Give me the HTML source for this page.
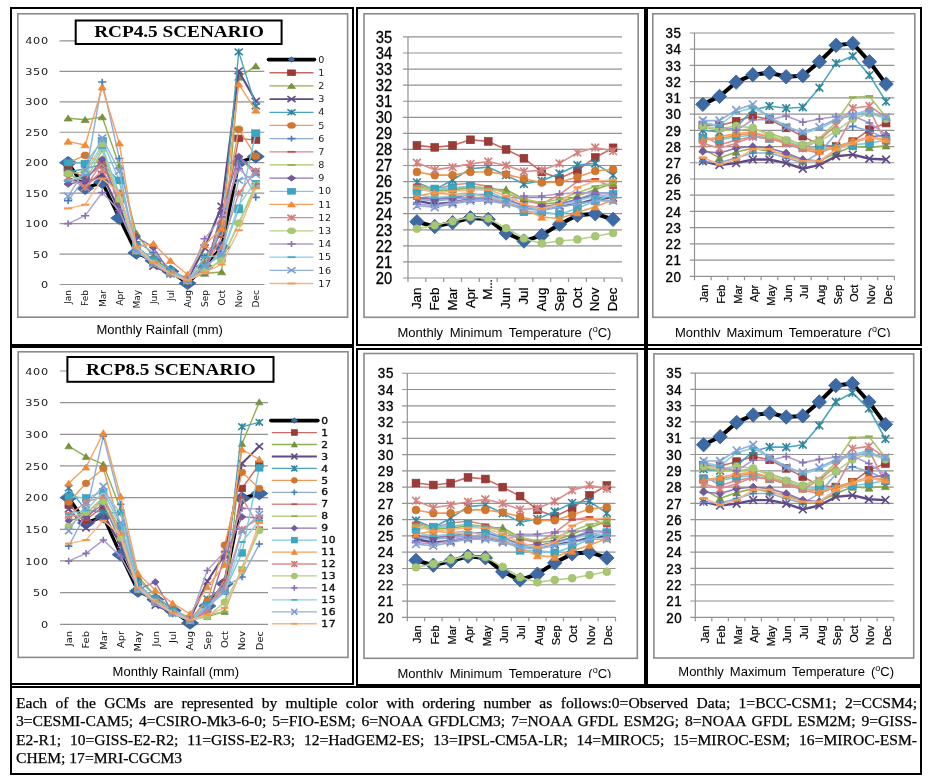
<!DOCTYPE html>
<html><head><meta charset="utf-8"><title>GCM scenarios</title>
<style>
html,body{margin:0;padding:0;background:#fff;}
body{width:929px;height:779px;position:relative;overflow:hidden;}
svg{position:absolute;left:0;top:0;}
text{font-family:"Liberation Sans",sans-serif;}
.rl{font-family:"DejaVu Sans",sans-serif;font-size:8.6px;fill:#1a1a1a;letter-spacing:0.5px;}
.rm{font-family:"DejaVu Sans",sans-serif;font-size:9px;fill:#111;}
.rlb{stroke:#000;stroke-width:0.3px;font-size:8.8px;}
.ttl{font-family:"Liberation Serif",serif;font-weight:bold;font-size:17.5px;fill:#000;}
.cap{font-family:"Liberation Sans",sans-serif;font-size:13px;fill:#000;}
.tl1{font-family:"Liberation Sans",sans-serif;font-size:16.4px;fill:#000;letter-spacing:0.3px;stroke:#000;stroke-width:0.3px;}
.tl2{font-family:"Liberation Sans",sans-serif;font-size:14.4px;fill:#000;letter-spacing:0.7px;stroke:#000;stroke-width:0.35px;}
.tm1{font-family:"Liberation Sans",sans-serif;font-size:12.4px;fill:#000;stroke:#000;stroke-width:0.2px;}
.tm2{font-family:"Liberation Sans",sans-serif;font-size:11.1px;fill:#000;stroke:#000;stroke-width:0.2px;}
.capt{position:absolute;font-family:"Liberation Sans",sans-serif;font-size:13px;color:#000;white-space:nowrap;overflow:hidden;line-height:16px;}
.capt sup{font-size:9px;vertical-align:5px;line-height:0;}
#note{position:absolute;left:16px;top:694px;width:901px;font-family:"Liberation Serif",serif;font-size:15.6px;line-height:18.3px;color:#000;-webkit-text-stroke:0.25px #000;}
#note div{white-space:nowrap;}
#note .j{text-align:justify;text-align-last:justify;}
</style></head>
<body>
<svg width="929" height="779" viewBox="0 0 929 779">
<rect x="10" y="7" width="2" height="679" fill="#000"/>
<rect x="10" y="7" width="344" height="2" fill="#000"/>
<rect x="356" y="7" width="291" height="2" fill="#000"/>
<rect x="646" y="7" width="276" height="2" fill="#000"/>
<rect x="352" y="7" width="2" height="339" fill="#000"/>
<rect x="352" y="346" width="2" height="339" fill="#000"/>
<rect x="356" y="7" width="2" height="339" fill="#000"/>
<rect x="356" y="348" width="2" height="337" fill="#000"/>
<rect x="644" y="7" width="4" height="678" fill="#000"/>
<rect x="920" y="7" width="2" height="339" fill="#000"/>
<rect x="920" y="348" width="2" height="427" fill="#000"/>
<rect x="10" y="344" width="344" height="4" fill="#000"/>
<rect x="356" y="344" width="566" height="2" fill="#000"/>
<rect x="356" y="348" width="566" height="2" fill="#000"/>
<rect x="10" y="683" width="344" height="2" fill="#000"/>
<rect x="356" y="684" width="566" height="3" fill="#000"/>
<rect x="10" y="686" width="912" height="2" fill="#000"/>
<rect x="10" y="686" width="2" height="89" fill="#000"/>
<rect x="10" y="773" width="912" height="2" fill="#000"/>
<rect x="17.8" y="13.8" width="329.8" height="303.4" fill="#fff" stroke="#8a8a8a" stroke-width="1.6"/>
<line x1="59.6" y1="284.5" x2="264.3" y2="284.5" stroke="#929292" stroke-width="1.2"/>
<text x="0" y="288.1" class="rl" text-anchor="end" transform="translate(48.8,0) scale(1.32,1)">0</text>
<line x1="59.6" y1="254.05" x2="264.3" y2="254.05" stroke="#929292" stroke-width="1.2"/>
<text x="0" y="257.65" class="rl" text-anchor="end" transform="translate(48.8,0) scale(1.32,1)">50</text>
<line x1="59.6" y1="223.6" x2="264.3" y2="223.6" stroke="#929292" stroke-width="1.2"/>
<text x="0" y="227.2" class="rl" text-anchor="end" transform="translate(48.8,0) scale(1.32,1)">100</text>
<line x1="59.6" y1="193.15" x2="264.3" y2="193.15" stroke="#929292" stroke-width="1.2"/>
<text x="0" y="196.75" class="rl" text-anchor="end" transform="translate(48.8,0) scale(1.32,1)">150</text>
<line x1="59.6" y1="162.7" x2="264.3" y2="162.7" stroke="#929292" stroke-width="1.2"/>
<text x="0" y="166.3" class="rl" text-anchor="end" transform="translate(48.8,0) scale(1.32,1)">200</text>
<line x1="59.6" y1="132.25" x2="264.3" y2="132.25" stroke="#929292" stroke-width="1.2"/>
<text x="0" y="135.85" class="rl" text-anchor="end" transform="translate(48.8,0) scale(1.32,1)">250</text>
<line x1="59.6" y1="101.8" x2="264.3" y2="101.8" stroke="#929292" stroke-width="1.2"/>
<text x="0" y="105.4" class="rl" text-anchor="end" transform="translate(48.8,0) scale(1.32,1)">300</text>
<line x1="59.6" y1="71.35" x2="264.3" y2="71.35" stroke="#929292" stroke-width="1.2"/>
<text x="0" y="74.95" class="rl" text-anchor="end" transform="translate(48.8,0) scale(1.32,1)">350</text>
<line x1="59.6" y1="40.9" x2="264.3" y2="40.9" stroke="#929292" stroke-width="1.2"/>
<text x="0" y="44.5" class="rl" text-anchor="end" transform="translate(48.8,0) scale(1.32,1)">400</text>
<text class="rm" transform="translate(71.43,290) rotate(-90) scale(1,1)" text-anchor="end">Jan</text>
<text class="rm" transform="translate(88.49,290) rotate(-90) scale(1,1)" text-anchor="end">Feb</text>
<text class="rm" transform="translate(105.55,290) rotate(-90) scale(1,1)" text-anchor="end">Mar</text>
<text class="rm" transform="translate(122.6,290) rotate(-90) scale(1,1)" text-anchor="end">Apr</text>
<text class="rm" transform="translate(139.66,290) rotate(-90) scale(1,1)" text-anchor="end">May</text>
<text class="rm" transform="translate(156.72,290) rotate(-90) scale(1,1)" text-anchor="end">Jun</text>
<text class="rm" transform="translate(173.78,290) rotate(-90) scale(1,1)" text-anchor="end">Jul</text>
<text class="rm" transform="translate(190.84,290) rotate(-90) scale(1,1)" text-anchor="end">Aug</text>
<text class="rm" transform="translate(207.9,290) rotate(-90) scale(1,1)" text-anchor="end">Sep</text>
<text class="rm" transform="translate(224.95,290) rotate(-90) scale(1,1)" text-anchor="end">Oct</text>
<text class="rm" transform="translate(242.01,290) rotate(-90) scale(1,1)" text-anchor="end">Nov</text>
<text class="rm" transform="translate(259.07,290) rotate(-90) scale(1,1)" text-anchor="end">Dec</text>
<polyline points="68.13,162.7 85.19,188.28 102.25,182.19 119.3,218.12 136.36,252.83 153.42,260.75 170.48,271.41 187.54,283.28 204.6,266.84 221.65,247.35 238.71,162.7 255.77,156.61" fill="none" stroke="#000000" stroke-width="3.4" stroke-linejoin="round"/>
<polygon points="59.62,162.7 68.13,156.4 76.63,162.7 68.13,169" fill="#3D69A5" stroke="#335E98" stroke-width="0.8"/>
<polygon points="76.68,188.28 85.19,181.98 93.69,188.28 85.19,194.58" fill="#3D69A5" stroke="#335E98" stroke-width="0.8"/>
<polygon points="93.74,182.19 102.25,175.89 110.75,182.19 102.25,188.49" fill="#3D69A5" stroke="#335E98" stroke-width="0.8"/>
<polygon points="110.8,218.12 119.3,211.82 127.81,218.12 119.3,224.42" fill="#3D69A5" stroke="#335E98" stroke-width="0.8"/>
<polygon points="127.86,252.83 136.36,246.53 144.87,252.83 136.36,259.13" fill="#3D69A5" stroke="#335E98" stroke-width="0.8"/>
<polygon points="144.92,260.75 153.42,254.45 161.93,260.75 153.42,267.05" fill="#3D69A5" stroke="#335E98" stroke-width="0.8"/>
<polygon points="161.97,271.41 170.48,265.11 178.98,271.41 170.48,277.71" fill="#3D69A5" stroke="#335E98" stroke-width="0.8"/>
<polygon points="179.03,283.28 187.54,276.98 196.04,283.28 187.54,289.58" fill="#3D69A5" stroke="#335E98" stroke-width="0.8"/>
<polygon points="196.09,266.84 204.6,260.54 213.1,266.84 204.6,273.14" fill="#3D69A5" stroke="#335E98" stroke-width="0.8"/>
<polygon points="213.15,247.35 221.65,241.05 230.16,247.35 221.65,253.65" fill="#3D69A5" stroke="#335E98" stroke-width="0.8"/>
<polygon points="230.21,162.7 238.71,156.4 247.22,162.7 238.71,169" fill="#3D69A5" stroke="#335E98" stroke-width="0.8"/>
<polygon points="247.27,156.61 255.77,150.31 264.28,156.61 255.77,162.91" fill="#3D69A5" stroke="#335E98" stroke-width="0.8"/>
<polyline points="68.13,168.79 85.19,177.93 102.25,164.53 119.3,199.24 136.36,249.79 153.42,261.97 170.48,272.32 187.54,280.85 204.6,269.27 221.65,229.69 238.71,138.34 255.77,140.17" fill="none" stroke="#C86966" stroke-width="1.4" stroke-linejoin="round"/>
<rect x="64" y="165.49" width="8.25" height="6.6" fill="#9B3B38" stroke="#8C3330" stroke-width="0.6"/>
<rect x="81.06" y="174.62" width="8.25" height="6.6" fill="#9B3B38" stroke="#8C3330" stroke-width="0.6"/>
<rect x="98.12" y="161.23" width="8.25" height="6.6" fill="#9B3B38" stroke="#8C3330" stroke-width="0.6"/>
<rect x="115.18" y="195.94" width="8.25" height="6.6" fill="#9B3B38" stroke="#8C3330" stroke-width="0.6"/>
<rect x="132.24" y="246.49" width="8.25" height="6.6" fill="#9B3B38" stroke="#8C3330" stroke-width="0.6"/>
<rect x="149.3" y="258.67" width="8.25" height="6.6" fill="#9B3B38" stroke="#8C3330" stroke-width="0.6"/>
<rect x="166.35" y="269.02" width="8.25" height="6.6" fill="#9B3B38" stroke="#8C3330" stroke-width="0.6"/>
<rect x="183.41" y="277.55" width="8.25" height="6.6" fill="#9B3B38" stroke="#8C3330" stroke-width="0.6"/>
<rect x="200.47" y="265.97" width="8.25" height="6.6" fill="#9B3B38" stroke="#8C3330" stroke-width="0.6"/>
<rect x="217.53" y="226.39" width="8.25" height="6.6" fill="#9B3B38" stroke="#8C3330" stroke-width="0.6"/>
<rect x="234.59" y="135.04" width="8.25" height="6.6" fill="#9B3B38" stroke="#8C3330" stroke-width="0.6"/>
<rect x="251.65" y="136.87" width="8.25" height="6.6" fill="#9B3B38" stroke="#8C3330" stroke-width="0.6"/>
<polyline points="68.13,118.24 85.19,119.7 102.25,117.03 119.3,165.75 136.36,233.34 153.42,257.1 170.48,270.49 187.54,278.41 204.6,273.54 221.65,272.02 238.71,77.44 255.77,66.17" fill="none" stroke="#8FB04F" stroke-width="1.4" stroke-linejoin="round"/>
<polygon points="64,121.05 68.13,114.94 72.25,121.05" fill="#77933C" stroke="#6B8636" stroke-width="0.6"/>
<polygon points="81.06,122.51 85.19,116.4 89.31,122.51" fill="#77933C" stroke="#6B8636" stroke-width="0.6"/>
<polygon points="98.12,119.83 102.25,113.73 106.37,119.83" fill="#77933C" stroke="#6B8636" stroke-width="0.6"/>
<polygon points="115.18,168.55 119.3,162.44 123.43,168.55" fill="#77933C" stroke="#6B8636" stroke-width="0.6"/>
<polygon points="132.24,236.15 136.36,230.04 140.49,236.15" fill="#77933C" stroke="#6B8636" stroke-width="0.6"/>
<polygon points="149.3,259.9 153.42,253.8 157.55,259.9" fill="#77933C" stroke="#6B8636" stroke-width="0.6"/>
<polygon points="166.35,273.3 170.48,267.19 174.6,273.3" fill="#77933C" stroke="#6B8636" stroke-width="0.6"/>
<polygon points="183.41,281.22 187.54,275.11 191.66,281.22" fill="#77933C" stroke="#6B8636" stroke-width="0.6"/>
<polygon points="200.47,276.34 204.6,270.24 208.72,276.34" fill="#77933C" stroke="#6B8636" stroke-width="0.6"/>
<polygon points="217.53,274.82 221.65,268.72 225.78,274.82" fill="#77933C" stroke="#6B8636" stroke-width="0.6"/>
<polygon points="234.59,80.25 238.71,74.14 242.84,80.25" fill="#77933C" stroke="#6B8636" stroke-width="0.6"/>
<polygon points="251.65,68.98 255.77,62.87 259.9,68.98" fill="#77933C" stroke="#6B8636" stroke-width="0.6"/>
<polyline points="68.13,177.93 85.19,184.01 102.25,174.27 119.3,210.81 136.36,247.96 153.42,266.23 170.48,273.54 187.54,279.63 204.6,247.96 221.65,206.12 238.71,70.92 255.77,101.19" fill="none" stroke="#5F4A85" stroke-width="2.1" stroke-linejoin="round"/>
<path d="M64 174.62L72.25 181.23M64 181.23L72.25 174.62" stroke="#5F4A85" stroke-width="1.6" fill="none"/>
<path d="M81.06 180.71L89.31 187.31M81.06 187.31L89.31 180.71" stroke="#5F4A85" stroke-width="1.6" fill="none"/>
<path d="M98.12 170.97L106.37 177.57M98.12 177.57L106.37 170.97" stroke="#5F4A85" stroke-width="1.6" fill="none"/>
<path d="M115.18 207.51L123.43 214.11M115.18 214.11L123.43 207.51" stroke="#5F4A85" stroke-width="1.6" fill="none"/>
<path d="M132.24 244.66L140.49 251.26M132.24 251.26L140.49 244.66" stroke="#5F4A85" stroke-width="1.6" fill="none"/>
<path d="M149.3 262.93L157.55 269.53M149.3 269.53L157.55 262.93" stroke="#5F4A85" stroke-width="1.6" fill="none"/>
<path d="M166.35 270.24L174.6 276.84M166.35 276.84L174.6 270.24" stroke="#5F4A85" stroke-width="1.6" fill="none"/>
<path d="M183.41 276.33L191.66 282.93M183.41 282.93L191.66 276.33" stroke="#5F4A85" stroke-width="1.6" fill="none"/>
<path d="M200.47 244.66L208.72 251.26M200.47 251.26L208.72 244.66" stroke="#5F4A85" stroke-width="1.6" fill="none"/>
<path d="M217.53 202.82L225.78 209.42M217.53 209.42L225.78 202.82" stroke="#5F4A85" stroke-width="1.6" fill="none"/>
<path d="M234.59 67.62L242.84 74.22M234.59 74.22L242.84 67.62" stroke="#5F4A85" stroke-width="1.6" fill="none"/>
<path d="M251.65 97.89L259.9 104.49M251.65 104.49L259.9 97.89" stroke="#5F4A85" stroke-width="1.6" fill="none"/>
<polyline points="68.13,171.84 85.19,168.79 102.25,164.53 119.3,180.97 136.36,246.74 153.42,260.14 170.48,272.32 187.54,280.85 204.6,257.1 221.65,232.74 238.71,51.86 255.77,106.06" fill="none" stroke="#4BA3BD" stroke-width="1.4" stroke-linejoin="round"/>
<path d="M64 168.53L72.25 175.14M64 175.14L72.25 168.53M68.13 168.53L68.13 175.14" stroke="#31859C" stroke-width="1.6" fill="none"/>
<path d="M81.06 165.49L89.31 172.09M81.06 172.09L89.31 165.49M85.19 165.49L85.19 172.09" stroke="#31859C" stroke-width="1.6" fill="none"/>
<path d="M98.12 161.23L106.37 167.83M98.12 167.83L106.37 161.23M102.25 161.23L102.25 167.83" stroke="#31859C" stroke-width="1.6" fill="none"/>
<path d="M115.18 177.67L123.43 184.27M115.18 184.27L123.43 177.67M119.3 177.67L119.3 184.27" stroke="#31859C" stroke-width="1.6" fill="none"/>
<path d="M132.24 243.44L140.49 250.04M132.24 250.04L140.49 243.44M136.36 243.44L136.36 250.04" stroke="#31859C" stroke-width="1.6" fill="none"/>
<path d="M149.3 256.84L157.55 263.44M149.3 263.44L157.55 256.84M153.42 256.84L153.42 263.44" stroke="#31859C" stroke-width="1.6" fill="none"/>
<path d="M166.35 269.02L174.6 275.62M166.35 275.62L174.6 269.02M170.48 269.02L170.48 275.62" stroke="#31859C" stroke-width="1.6" fill="none"/>
<path d="M183.41 277.55L191.66 284.15M183.41 284.15L191.66 277.55M187.54 277.55L187.54 284.15" stroke="#31859C" stroke-width="1.6" fill="none"/>
<path d="M200.47 253.8L208.72 260.4M200.47 260.4L208.72 253.8M204.6 253.8L204.6 260.4" stroke="#31859C" stroke-width="1.6" fill="none"/>
<path d="M217.53 229.44L225.78 236.04M217.53 236.04L225.78 229.44M221.65 229.44L221.65 236.04" stroke="#31859C" stroke-width="1.6" fill="none"/>
<path d="M234.59 48.56L242.84 55.16M234.59 55.16L242.84 48.56M238.71 48.56L238.71 55.16" stroke="#31859C" stroke-width="1.6" fill="none"/>
<path d="M251.65 102.76L259.9 109.36M251.65 109.36L259.9 102.76M255.77 102.76L255.77 109.36" stroke="#31859C" stroke-width="1.6" fill="none"/>
<polyline points="68.13,162.7 85.19,155.39 102.25,162.7 119.3,193.15 136.36,249.18 153.42,260.14 170.48,271.1 187.54,279.63 204.6,263.79 221.65,222.99 238.71,129.21 255.77,156.24" fill="none" stroke="#EE9A57" stroke-width="1.4" stroke-linejoin="round"/>
<ellipse cx="68.13" cy="162.7" rx="4.12" ry="3.3" fill="#D2772E" stroke="#C46E29" stroke-width="0.6"/>
<ellipse cx="85.19" cy="155.39" rx="4.12" ry="3.3" fill="#D2772E" stroke="#C46E29" stroke-width="0.6"/>
<ellipse cx="102.25" cy="162.7" rx="4.12" ry="3.3" fill="#D2772E" stroke="#C46E29" stroke-width="0.6"/>
<ellipse cx="119.3" cy="193.15" rx="4.12" ry="3.3" fill="#D2772E" stroke="#C46E29" stroke-width="0.6"/>
<ellipse cx="136.36" cy="249.18" rx="4.12" ry="3.3" fill="#D2772E" stroke="#C46E29" stroke-width="0.6"/>
<ellipse cx="153.42" cy="260.14" rx="4.12" ry="3.3" fill="#D2772E" stroke="#C46E29" stroke-width="0.6"/>
<ellipse cx="170.48" cy="271.1" rx="4.12" ry="3.3" fill="#D2772E" stroke="#C46E29" stroke-width="0.6"/>
<ellipse cx="187.54" cy="279.63" rx="4.12" ry="3.3" fill="#D2772E" stroke="#C46E29" stroke-width="0.6"/>
<ellipse cx="204.6" cy="263.79" rx="4.12" ry="3.3" fill="#D2772E" stroke="#C46E29" stroke-width="0.6"/>
<ellipse cx="221.65" cy="222.99" rx="4.12" ry="3.3" fill="#D2772E" stroke="#C46E29" stroke-width="0.6"/>
<ellipse cx="238.71" cy="129.21" rx="4.12" ry="3.3" fill="#D2772E" stroke="#C46E29" stroke-width="0.6"/>
<ellipse cx="255.77" cy="156.24" rx="4.12" ry="3.3" fill="#D2772E" stroke="#C46E29" stroke-width="0.6"/>
<polyline points="68.13,200.64 85.19,177.93 102.25,82.01 119.3,158.44 136.36,241.87 153.42,252.47 170.48,269.27 187.54,279.63 204.6,266.23 221.65,226.65 238.71,162.7 255.77,197.41" fill="none" stroke="#8EADD6" stroke-width="1.4" stroke-linejoin="round"/>
<path d="M64 200.64L72.25 200.64M68.13 197.34L68.13 203.94" stroke="#4A7BBA" stroke-width="1.6" fill="none"/>
<path d="M81.06 177.93L89.31 177.93M85.19 174.62L85.19 181.23" stroke="#4A7BBA" stroke-width="1.6" fill="none"/>
<path d="M98.12 82.01L106.37 82.01M102.25 78.71L102.25 85.31" stroke="#4A7BBA" stroke-width="1.6" fill="none"/>
<path d="M115.18 158.44L123.43 158.44M119.3 155.14L119.3 161.74" stroke="#4A7BBA" stroke-width="1.6" fill="none"/>
<path d="M132.24 241.87L140.49 241.87M136.36 238.57L136.36 245.17" stroke="#4A7BBA" stroke-width="1.6" fill="none"/>
<path d="M149.3 252.47L157.55 252.47M153.42 249.17L153.42 255.77" stroke="#4A7BBA" stroke-width="1.6" fill="none"/>
<path d="M166.35 269.27L174.6 269.27M170.48 265.97L170.48 272.57" stroke="#4A7BBA" stroke-width="1.6" fill="none"/>
<path d="M183.41 279.63L191.66 279.63M187.54 276.33L187.54 282.93" stroke="#4A7BBA" stroke-width="1.6" fill="none"/>
<path d="M200.47 266.23L208.72 266.23M204.6 262.93L204.6 269.53" stroke="#4A7BBA" stroke-width="1.6" fill="none"/>
<path d="M217.53 226.65L225.78 226.65M221.65 223.34L221.65 229.95" stroke="#4A7BBA" stroke-width="1.6" fill="none"/>
<path d="M234.59 162.7L242.84 162.7M238.71 159.4L238.71 166" stroke="#4A7BBA" stroke-width="1.6" fill="none"/>
<path d="M251.65 197.41L259.9 197.41M255.77 194.11L255.77 200.71" stroke="#4A7BBA" stroke-width="1.6" fill="none"/>
<polyline points="68.13,171.84 85.19,187.06 102.25,162.7 119.3,199.24 136.36,251 153.42,261.36 170.48,272.32 187.54,280.24 204.6,269.27 221.65,237 238.71,156.61 255.77,174.88" fill="none" stroke="#D98C8A" stroke-width="1.4" stroke-linejoin="round"/>
<rect x="64" y="170.84" width="8.25" height="1.98" fill="#C0504D"/>
<rect x="81.06" y="186.07" width="8.25" height="1.98" fill="#C0504D"/>
<rect x="98.12" y="161.71" width="8.25" height="1.98" fill="#C0504D"/>
<rect x="115.18" y="198.25" width="8.25" height="1.98" fill="#C0504D"/>
<rect x="132.24" y="250.01" width="8.25" height="1.98" fill="#C0504D"/>
<rect x="149.3" y="260.37" width="8.25" height="1.98" fill="#C0504D"/>
<rect x="166.35" y="271.33" width="8.25" height="1.98" fill="#C0504D"/>
<rect x="183.41" y="279.25" width="8.25" height="1.98" fill="#C0504D"/>
<rect x="200.47" y="268.28" width="8.25" height="1.98" fill="#C0504D"/>
<rect x="217.53" y="236.01" width="8.25" height="1.98" fill="#C0504D"/>
<rect x="234.59" y="155.62" width="8.25" height="1.98" fill="#C0504D"/>
<rect x="251.65" y="173.89" width="8.25" height="1.98" fill="#C0504D"/>
<polyline points="68.13,174.88 85.19,180.97 102.25,150.52 119.3,200.46 136.36,249.18 153.42,260.14 170.48,272.32 187.54,279.63 204.6,271.1 221.65,260.14 238.71,223.6 255.77,187.06" fill="none" stroke="#A9C66E" stroke-width="1.4" stroke-linejoin="round"/>
<rect x="64" y="173.89" width="8.25" height="1.98" fill="#8EB04D"/>
<rect x="81.06" y="179.98" width="8.25" height="1.98" fill="#8EB04D"/>
<rect x="98.12" y="149.53" width="8.25" height="1.98" fill="#8EB04D"/>
<rect x="115.18" y="199.47" width="8.25" height="1.98" fill="#8EB04D"/>
<rect x="132.24" y="248.19" width="8.25" height="1.98" fill="#8EB04D"/>
<rect x="149.3" y="259.15" width="8.25" height="1.98" fill="#8EB04D"/>
<rect x="166.35" y="271.33" width="8.25" height="1.98" fill="#8EB04D"/>
<rect x="183.41" y="278.64" width="8.25" height="1.98" fill="#8EB04D"/>
<rect x="200.47" y="270.11" width="8.25" height="1.98" fill="#8EB04D"/>
<rect x="217.53" y="259.15" width="8.25" height="1.98" fill="#8EB04D"/>
<rect x="234.59" y="222.61" width="8.25" height="1.98" fill="#8EB04D"/>
<rect x="251.65" y="186.07" width="8.25" height="1.98" fill="#8EB04D"/>
<polyline points="68.13,184.01 85.19,180.97 102.25,159.29 119.3,205.33 136.36,237 153.42,247.35 170.48,273.54 187.54,280.85 204.6,272.32 221.65,212.64 238.71,156.61 255.77,171.23" fill="none" stroke="#8E74B0" stroke-width="1.4" stroke-linejoin="round"/>
<polygon points="64,184.01 68.13,180.71 72.25,184.01 68.13,187.31" fill="#7459A0" stroke="#664E8E" stroke-width="0.8"/>
<polygon points="81.06,180.97 85.19,177.67 89.31,180.97 85.19,184.27" fill="#7459A0" stroke="#664E8E" stroke-width="0.8"/>
<polygon points="98.12,159.29 102.25,155.99 106.37,159.29 102.25,162.59" fill="#7459A0" stroke="#664E8E" stroke-width="0.8"/>
<polygon points="115.18,205.33 119.3,202.03 123.43,205.33 119.3,208.63" fill="#7459A0" stroke="#664E8E" stroke-width="0.8"/>
<polygon points="132.24,237 136.36,233.7 140.49,237 136.36,240.3" fill="#7459A0" stroke="#664E8E" stroke-width="0.8"/>
<polygon points="149.3,247.35 153.42,244.05 157.55,247.35 153.42,250.65" fill="#7459A0" stroke="#664E8E" stroke-width="0.8"/>
<polygon points="166.35,273.54 170.48,270.24 174.6,273.54 170.48,276.84" fill="#7459A0" stroke="#664E8E" stroke-width="0.8"/>
<polygon points="183.41,280.85 187.54,277.55 191.66,280.85 187.54,284.15" fill="#7459A0" stroke="#664E8E" stroke-width="0.8"/>
<polygon points="200.47,272.32 204.6,269.02 208.72,272.32 204.6,275.62" fill="#7459A0" stroke="#664E8E" stroke-width="0.8"/>
<polygon points="217.53,212.64 221.65,209.34 225.78,212.64 221.65,215.94" fill="#7459A0" stroke="#664E8E" stroke-width="0.8"/>
<polygon points="234.59,156.61 238.71,153.31 242.84,156.61 238.71,159.91" fill="#7459A0" stroke="#664E8E" stroke-width="0.8"/>
<polygon points="251.65,171.23 255.77,167.93 259.9,171.23 255.77,174.53" fill="#7459A0" stroke="#664E8E" stroke-width="0.8"/>
<polyline points="68.13,162.7 85.19,163.49 102.25,140.78 119.3,180.36 136.36,246.74 153.42,260.14 170.48,271.1 187.54,279.63 204.6,266.23 221.65,255.27 238.71,209.59 255.77,133.1" fill="none" stroke="#7EC8DB" stroke-width="1.4" stroke-linejoin="round"/>
<rect x="64" y="159.4" width="8.25" height="6.6" fill="#3BA6C2" stroke="#3399B4" stroke-width="0.6"/>
<rect x="81.06" y="160.19" width="8.25" height="6.6" fill="#3BA6C2" stroke="#3399B4" stroke-width="0.6"/>
<rect x="98.12" y="137.48" width="8.25" height="6.6" fill="#3BA6C2" stroke="#3399B4" stroke-width="0.6"/>
<rect x="115.18" y="177.06" width="8.25" height="6.6" fill="#3BA6C2" stroke="#3399B4" stroke-width="0.6"/>
<rect x="132.24" y="243.44" width="8.25" height="6.6" fill="#3BA6C2" stroke="#3399B4" stroke-width="0.6"/>
<rect x="149.3" y="256.84" width="8.25" height="6.6" fill="#3BA6C2" stroke="#3399B4" stroke-width="0.6"/>
<rect x="166.35" y="267.8" width="8.25" height="6.6" fill="#3BA6C2" stroke="#3399B4" stroke-width="0.6"/>
<rect x="183.41" y="276.33" width="8.25" height="6.6" fill="#3BA6C2" stroke="#3399B4" stroke-width="0.6"/>
<rect x="200.47" y="262.93" width="8.25" height="6.6" fill="#3BA6C2" stroke="#3399B4" stroke-width="0.6"/>
<rect x="217.53" y="251.97" width="8.25" height="6.6" fill="#3BA6C2" stroke="#3399B4" stroke-width="0.6"/>
<rect x="234.59" y="206.29" width="8.25" height="6.6" fill="#3BA6C2" stroke="#3399B4" stroke-width="0.6"/>
<rect x="251.65" y="129.8" width="8.25" height="6.6" fill="#3BA6C2" stroke="#3399B4" stroke-width="0.6"/>
<polyline points="68.13,141.57 85.19,145.04 102.25,87.18 119.3,143.21 136.36,246.74 153.42,243.7 170.48,260.75 187.54,274.45 204.6,245.1 221.65,228.47 238.71,84.14 255.77,110.33" fill="none" stroke="#F4A060" stroke-width="1.4" stroke-linejoin="round"/>
<polygon points="64,144.37 68.13,138.27 72.25,144.37" fill="#F38B36" stroke="#E88030" stroke-width="0.6"/>
<polygon points="81.06,147.84 85.19,141.74 89.31,147.84" fill="#F38B36" stroke="#E88030" stroke-width="0.6"/>
<polygon points="98.12,89.99 102.25,83.88 106.37,89.99" fill="#F38B36" stroke="#E88030" stroke-width="0.6"/>
<polygon points="115.18,146.02 119.3,139.91 123.43,146.02" fill="#F38B36" stroke="#E88030" stroke-width="0.6"/>
<polygon points="132.24,249.55 136.36,243.44 140.49,249.55" fill="#F38B36" stroke="#E88030" stroke-width="0.6"/>
<polygon points="149.3,246.5 153.42,240.4 157.55,246.5" fill="#F38B36" stroke="#E88030" stroke-width="0.6"/>
<polygon points="166.35,263.55 170.48,257.45 174.6,263.55" fill="#F38B36" stroke="#E88030" stroke-width="0.6"/>
<polygon points="183.41,277.26 187.54,271.15 191.66,277.26" fill="#F38B36" stroke="#E88030" stroke-width="0.6"/>
<polygon points="200.47,247.9 204.6,241.8 208.72,247.9" fill="#F38B36" stroke="#E88030" stroke-width="0.6"/>
<polygon points="217.53,231.28 221.65,225.17 225.78,231.28" fill="#F38B36" stroke="#E88030" stroke-width="0.6"/>
<polygon points="234.59,86.94 238.71,80.84 242.84,86.94" fill="#F38B36" stroke="#E88030" stroke-width="0.6"/>
<polygon points="251.65,113.13 255.77,107.03 259.9,113.13" fill="#F38B36" stroke="#E88030" stroke-width="0.6"/>
<polyline points="68.13,177.93 85.19,187.67 102.25,170.01 119.3,199.24 136.36,250.4 153.42,262.58 170.48,273.54 187.54,280.85 204.6,271.1 221.65,247.35 238.71,193.15 255.77,171.23" fill="none" stroke="#DA8E8C" stroke-width="1.4" stroke-linejoin="round"/>
<path d="M64 174.62L72.25 181.23M64 181.23L72.25 174.62M68.13 174.62L68.13 181.23" stroke="#D2807E" stroke-width="1.6" fill="none"/>
<path d="M81.06 184.37L89.31 190.97M81.06 190.97L89.31 184.37M85.19 184.37L85.19 190.97" stroke="#D2807E" stroke-width="1.6" fill="none"/>
<path d="M98.12 166.71L106.37 173.31M98.12 173.31L106.37 166.71M102.25 166.71L102.25 173.31" stroke="#D2807E" stroke-width="1.6" fill="none"/>
<path d="M115.18 195.94L123.43 202.54M115.18 202.54L123.43 195.94M119.3 195.94L119.3 202.54" stroke="#D2807E" stroke-width="1.6" fill="none"/>
<path d="M132.24 247.1L140.49 253.7M132.24 253.7L140.49 247.1M136.36 247.1L136.36 253.7" stroke="#D2807E" stroke-width="1.6" fill="none"/>
<path d="M149.3 259.28L157.55 265.88M149.3 265.88L157.55 259.28M153.42 259.28L153.42 265.88" stroke="#D2807E" stroke-width="1.6" fill="none"/>
<path d="M166.35 270.24L174.6 276.84M166.35 276.84L174.6 270.24M170.48 270.24L170.48 276.84" stroke="#D2807E" stroke-width="1.6" fill="none"/>
<path d="M183.41 277.55L191.66 284.15M183.41 284.15L191.66 277.55M187.54 277.55L187.54 284.15" stroke="#D2807E" stroke-width="1.6" fill="none"/>
<path d="M200.47 267.8L208.72 274.4M200.47 274.4L208.72 267.8M204.6 267.8L204.6 274.4" stroke="#D2807E" stroke-width="1.6" fill="none"/>
<path d="M217.53 244.05L225.78 250.65M217.53 250.65L225.78 244.05M221.65 244.05L221.65 250.65" stroke="#D2807E" stroke-width="1.6" fill="none"/>
<path d="M234.59 189.85L242.84 196.45M234.59 196.45L242.84 189.85M238.71 189.85L238.71 196.45" stroke="#D2807E" stroke-width="1.6" fill="none"/>
<path d="M251.65 167.93L259.9 174.53M251.65 174.53L259.9 167.93M255.77 167.93L255.77 174.53" stroke="#D2807E" stroke-width="1.6" fill="none"/>
<polyline points="68.13,173.66 85.19,171.84 102.25,145.04 119.3,199.24 136.36,251 153.42,263.19 170.48,273.54 187.54,280.85 204.6,271.1 221.65,260.14 238.71,222.99 255.77,184.01" fill="none" stroke="#B5D08A" stroke-width="1.4" stroke-linejoin="round"/>
<ellipse cx="68.13" cy="173.66" rx="4.12" ry="3.3" fill="#A7C772" stroke="#9CBC66" stroke-width="0.6"/>
<ellipse cx="85.19" cy="171.84" rx="4.12" ry="3.3" fill="#A7C772" stroke="#9CBC66" stroke-width="0.6"/>
<ellipse cx="102.25" cy="145.04" rx="4.12" ry="3.3" fill="#A7C772" stroke="#9CBC66" stroke-width="0.6"/>
<ellipse cx="119.3" cy="199.24" rx="4.12" ry="3.3" fill="#A7C772" stroke="#9CBC66" stroke-width="0.6"/>
<ellipse cx="136.36" cy="251" rx="4.12" ry="3.3" fill="#A7C772" stroke="#9CBC66" stroke-width="0.6"/>
<ellipse cx="153.42" cy="263.19" rx="4.12" ry="3.3" fill="#A7C772" stroke="#9CBC66" stroke-width="0.6"/>
<ellipse cx="170.48" cy="273.54" rx="4.12" ry="3.3" fill="#A7C772" stroke="#9CBC66" stroke-width="0.6"/>
<ellipse cx="187.54" cy="280.85" rx="4.12" ry="3.3" fill="#A7C772" stroke="#9CBC66" stroke-width="0.6"/>
<ellipse cx="204.6" cy="271.1" rx="4.12" ry="3.3" fill="#A7C772" stroke="#9CBC66" stroke-width="0.6"/>
<ellipse cx="221.65" cy="260.14" rx="4.12" ry="3.3" fill="#A7C772" stroke="#9CBC66" stroke-width="0.6"/>
<ellipse cx="238.71" cy="222.99" rx="4.12" ry="3.3" fill="#A7C772" stroke="#9CBC66" stroke-width="0.6"/>
<ellipse cx="255.77" cy="184.01" rx="4.12" ry="3.3" fill="#A7C772" stroke="#9CBC66" stroke-width="0.6"/>
<polyline points="68.13,223.6 85.19,215.68 102.25,192.54 119.3,210.81 136.36,249.18 153.42,265.01 170.48,273.54 187.54,279.63 204.6,238.82 221.65,216.9 238.71,168.79 255.77,184.01" fill="none" stroke="#B09DCC" stroke-width="1.4" stroke-linejoin="round"/>
<path d="M64 223.6L72.25 223.6M68.13 220.3L68.13 226.9" stroke="#8A70B4" stroke-width="1.6" fill="none"/>
<path d="M81.06 215.68L89.31 215.68M85.19 212.38L85.19 218.98" stroke="#8A70B4" stroke-width="1.6" fill="none"/>
<path d="M98.12 192.54L106.37 192.54M102.25 189.24L102.25 195.84" stroke="#8A70B4" stroke-width="1.6" fill="none"/>
<path d="M115.18 210.81L123.43 210.81M119.3 207.51L119.3 214.11" stroke="#8A70B4" stroke-width="1.6" fill="none"/>
<path d="M132.24 249.18L140.49 249.18M136.36 245.88L136.36 252.48" stroke="#8A70B4" stroke-width="1.6" fill="none"/>
<path d="M149.3 265.01L157.55 265.01M153.42 261.71L153.42 268.31" stroke="#8A70B4" stroke-width="1.6" fill="none"/>
<path d="M166.35 273.54L174.6 273.54M170.48 270.24L170.48 276.84" stroke="#8A70B4" stroke-width="1.6" fill="none"/>
<path d="M183.41 279.63L191.66 279.63M187.54 276.33L187.54 282.93" stroke="#8A70B4" stroke-width="1.6" fill="none"/>
<path d="M200.47 238.82L208.72 238.82M204.6 235.52L204.6 242.12" stroke="#8A70B4" stroke-width="1.6" fill="none"/>
<path d="M217.53 216.9L225.78 216.9M221.65 213.6L221.65 220.2" stroke="#8A70B4" stroke-width="1.6" fill="none"/>
<path d="M234.59 168.79L242.84 168.79M238.71 165.49L238.71 172.09" stroke="#8A70B4" stroke-width="1.6" fill="none"/>
<path d="M251.65 184.01L259.9 184.01M255.77 180.71L255.77 187.31" stroke="#8A70B4" stroke-width="1.6" fill="none"/>
<polyline points="68.13,181.27 85.19,174.88 102.25,148.08 119.3,193.15 136.36,250.4 153.42,263.19 170.48,274.15 187.54,281.45 204.6,257.1 221.65,255.27 238.71,205.33 255.77,180.97" fill="none" stroke="#8ED0E0" stroke-width="1.4" stroke-linejoin="round"/>
<rect x="64" y="180.28" width="8.25" height="1.98" fill="#4BACC6"/>
<rect x="81.06" y="173.89" width="8.25" height="1.98" fill="#4BACC6"/>
<rect x="98.12" y="147.09" width="8.25" height="1.98" fill="#4BACC6"/>
<rect x="115.18" y="192.16" width="8.25" height="1.98" fill="#4BACC6"/>
<rect x="132.24" y="249.41" width="8.25" height="1.98" fill="#4BACC6"/>
<rect x="149.3" y="262.19" width="8.25" height="1.98" fill="#4BACC6"/>
<rect x="166.35" y="273.16" width="8.25" height="1.98" fill="#4BACC6"/>
<rect x="183.41" y="280.46" width="8.25" height="1.98" fill="#4BACC6"/>
<rect x="200.47" y="256.11" width="8.25" height="1.98" fill="#4BACC6"/>
<rect x="217.53" y="254.28" width="8.25" height="1.98" fill="#4BACC6"/>
<rect x="234.59" y="204.34" width="8.25" height="1.98" fill="#4BACC6"/>
<rect x="251.65" y="179.98" width="8.25" height="1.98" fill="#4BACC6"/>
<polyline points="68.13,196.19 85.19,170.01 102.25,137.73 119.3,171.23 136.36,251 153.42,263.79 170.48,274.15 187.54,280.85 204.6,266.23 221.65,254.05 238.71,180.36 255.77,174.51" fill="none" stroke="#93B0DA" stroke-width="1.4" stroke-linejoin="round"/>
<path d="M64 192.89L72.25 199.5M64 199.5L72.25 192.89" stroke="#7C9CD2" stroke-width="1.6" fill="none"/>
<path d="M81.06 166.71L89.31 173.31M81.06 173.31L89.31 166.71" stroke="#7C9CD2" stroke-width="1.6" fill="none"/>
<path d="M98.12 134.43L106.37 141.03M98.12 141.03L106.37 134.43" stroke="#7C9CD2" stroke-width="1.6" fill="none"/>
<path d="M115.18 167.93L123.43 174.53M115.18 174.53L123.43 167.93" stroke="#7C9CD2" stroke-width="1.6" fill="none"/>
<path d="M132.24 247.7L140.49 254.31M132.24 254.31L140.49 247.7" stroke="#7C9CD2" stroke-width="1.6" fill="none"/>
<path d="M149.3 260.49L157.55 267.09M149.3 267.09L157.55 260.49" stroke="#7C9CD2" stroke-width="1.6" fill="none"/>
<path d="M166.35 270.85L174.6 277.45M166.35 277.45L174.6 270.85" stroke="#7C9CD2" stroke-width="1.6" fill="none"/>
<path d="M183.41 277.55L191.66 284.15M183.41 284.15L191.66 277.55" stroke="#7C9CD2" stroke-width="1.6" fill="none"/>
<path d="M200.47 262.93L208.72 269.53M200.47 269.53L208.72 262.93" stroke="#7C9CD2" stroke-width="1.6" fill="none"/>
<path d="M217.53 250.75L225.78 257.35M217.53 257.35L225.78 250.75" stroke="#7C9CD2" stroke-width="1.6" fill="none"/>
<path d="M234.59 177.06L242.84 183.66M234.59 183.66L242.84 177.06" stroke="#7C9CD2" stroke-width="1.6" fill="none"/>
<path d="M251.65 171.21L259.9 177.81M251.65 177.81L259.9 171.21" stroke="#7C9CD2" stroke-width="1.6" fill="none"/>
<polyline points="68.13,208.38 85.19,204.72 102.25,178.53 119.3,193.15 136.36,247.35 153.42,262.58 170.48,273.54 187.54,280.24 204.6,272.32 221.65,264.4 238.71,230.3 255.77,188.28" fill="none" stroke="#F9B586" stroke-width="1.4" stroke-linejoin="round"/>
<rect x="64" y="207.38" width="8.25" height="1.98" fill="#F79646"/>
<rect x="81.06" y="203.73" width="8.25" height="1.98" fill="#F79646"/>
<rect x="98.12" y="177.54" width="8.25" height="1.98" fill="#F79646"/>
<rect x="115.18" y="192.16" width="8.25" height="1.98" fill="#F79646"/>
<rect x="132.24" y="246.36" width="8.25" height="1.98" fill="#F79646"/>
<rect x="149.3" y="261.59" width="8.25" height="1.98" fill="#F79646"/>
<rect x="166.35" y="272.55" width="8.25" height="1.98" fill="#F79646"/>
<rect x="183.41" y="279.25" width="8.25" height="1.98" fill="#F79646"/>
<rect x="200.47" y="271.33" width="8.25" height="1.98" fill="#F79646"/>
<rect x="217.53" y="263.41" width="8.25" height="1.98" fill="#F79646"/>
<rect x="234.59" y="229.31" width="8.25" height="1.98" fill="#F79646"/>
<rect x="251.65" y="187.29" width="8.25" height="1.98" fill="#F79646"/>
<rect x="75.7" y="20.5" width="205.9" height="23.5" fill="#fff" stroke="#000" stroke-width="2"/>
<text x="0" y="37.3" class="ttl" text-anchor="middle" transform="translate(179.05,0) scale(1.1,1)">RCP4.5 SCENARIO</text>
<line x1="268.5" y1="59.6" x2="314.5" y2="59.6" stroke="#000" stroke-width="3.6" stroke-linecap="round"/>
<polygon points="288.12,59.6 291.5,57 294.88,59.6 291.5,62.2" fill="#3D69A5" stroke="#335E98" stroke-width="0.8"/>
<text x="0" y="62.8" class="rl" transform="translate(318.3,0) scale(1.12,1)">0</text>
<line x1="269.5" y1="72.77" x2="313.5" y2="72.77" stroke="#C86966" stroke-width="1.3"/>
<rect x="287.44" y="69.87" width="8.12" height="5.8" fill="#9B3B38" stroke="#8C3330" stroke-width="0.6"/>
<text x="0" y="75.97" class="rl" transform="translate(318.3,0) scale(1.12,1)">1</text>
<line x1="269.5" y1="85.94" x2="313.5" y2="85.94" stroke="#8FB04F" stroke-width="1.3"/>
<polygon points="287.44,88.41 291.5,83.04 295.56,88.41" fill="#77933C" stroke="#6B8636" stroke-width="0.6"/>
<text x="0" y="89.14" class="rl" transform="translate(318.3,0) scale(1.12,1)">2</text>
<line x1="269.5" y1="99.11" x2="313.5" y2="99.11" stroke="#5F4A85" stroke-width="1.95"/>
<path d="M287.44 96.21L295.56 102.01M287.44 102.01L295.56 96.21" stroke="#5F4A85" stroke-width="1.6" fill="none"/>
<text x="0" y="102.31" class="rl" transform="translate(318.3,0) scale(1.12,1)">3</text>
<line x1="269.5" y1="112.28" x2="313.5" y2="112.28" stroke="#4BA3BD" stroke-width="1.3"/>
<path d="M287.44 109.38L295.56 115.18M287.44 115.18L295.56 109.38M291.5 109.38L291.5 115.18" stroke="#31859C" stroke-width="1.6" fill="none"/>
<text x="0" y="115.48" class="rl" transform="translate(318.3,0) scale(1.12,1)">4</text>
<line x1="269.5" y1="125.45" x2="313.5" y2="125.45" stroke="#EE9A57" stroke-width="1.3"/>
<ellipse cx="291.5" cy="125.45" rx="4.06" ry="2.9" fill="#D2772E" stroke="#C46E29" stroke-width="0.6"/>
<text x="0" y="128.65" class="rl" transform="translate(318.3,0) scale(1.12,1)">5</text>
<line x1="269.5" y1="138.62" x2="313.5" y2="138.62" stroke="#8EADD6" stroke-width="1.3"/>
<path d="M287.44 138.62L295.56 138.62M291.5 135.72L291.5 141.52" stroke="#4A7BBA" stroke-width="1.6" fill="none"/>
<text x="0" y="141.82" class="rl" transform="translate(318.3,0) scale(1.12,1)">6</text>
<line x1="269.5" y1="151.79" x2="313.5" y2="151.79" stroke="#D98C8A" stroke-width="1.3"/>
<rect x="287.44" y="150.92" width="8.12" height="1.74" fill="#C0504D"/>
<text x="0" y="154.99" class="rl" transform="translate(318.3,0) scale(1.12,1)">7</text>
<line x1="269.5" y1="164.96" x2="313.5" y2="164.96" stroke="#A9C66E" stroke-width="1.3"/>
<rect x="287.44" y="164.09" width="8.12" height="1.74" fill="#8EB04D"/>
<text x="0" y="168.16" class="rl" transform="translate(318.3,0) scale(1.12,1)">8</text>
<line x1="269.5" y1="178.13" x2="313.5" y2="178.13" stroke="#8E74B0" stroke-width="1.3"/>
<polygon points="287.44,178.13 291.5,175.23 295.56,178.13 291.5,181.03" fill="#7459A0" stroke="#664E8E" stroke-width="0.8"/>
<text x="0" y="181.33" class="rl" transform="translate(318.3,0) scale(1.12,1)">9</text>
<line x1="269.5" y1="191.3" x2="313.5" y2="191.3" stroke="#7EC8DB" stroke-width="1.3"/>
<rect x="287.44" y="188.4" width="8.12" height="5.8" fill="#3BA6C2" stroke="#3399B4" stroke-width="0.6"/>
<text x="0" y="194.5" class="rl" transform="translate(318.3,0) scale(1.12,1)">10</text>
<line x1="269.5" y1="204.47" x2="313.5" y2="204.47" stroke="#F4A060" stroke-width="1.3"/>
<polygon points="287.44,206.94 291.5,201.57 295.56,206.94" fill="#F38B36" stroke="#E88030" stroke-width="0.6"/>
<text x="0" y="207.67" class="rl" transform="translate(318.3,0) scale(1.12,1)">11</text>
<line x1="269.5" y1="217.64" x2="313.5" y2="217.64" stroke="#DA8E8C" stroke-width="1.3"/>
<path d="M287.44 214.74L295.56 220.54M287.44 220.54L295.56 214.74M291.5 214.74L291.5 220.54" stroke="#D2807E" stroke-width="1.6" fill="none"/>
<text x="0" y="220.84" class="rl" transform="translate(318.3,0) scale(1.12,1)">12</text>
<line x1="269.5" y1="230.81" x2="313.5" y2="230.81" stroke="#B5D08A" stroke-width="1.3"/>
<ellipse cx="291.5" cy="230.81" rx="4.06" ry="2.9" fill="#A7C772" stroke="#9CBC66" stroke-width="0.6"/>
<text x="0" y="234.01" class="rl" transform="translate(318.3,0) scale(1.12,1)">13</text>
<line x1="269.5" y1="243.98" x2="313.5" y2="243.98" stroke="#B09DCC" stroke-width="1.3"/>
<path d="M287.44 243.98L295.56 243.98M291.5 241.08L291.5 246.88" stroke="#8A70B4" stroke-width="1.6" fill="none"/>
<text x="0" y="247.18" class="rl" transform="translate(318.3,0) scale(1.12,1)">14</text>
<line x1="269.5" y1="257.15" x2="313.5" y2="257.15" stroke="#8ED0E0" stroke-width="1.3"/>
<rect x="287.44" y="256.28" width="8.12" height="1.74" fill="#4BACC6"/>
<text x="0" y="260.35" class="rl" transform="translate(318.3,0) scale(1.12,1)">15</text>
<line x1="269.5" y1="270.32" x2="313.5" y2="270.32" stroke="#93B0DA" stroke-width="1.3"/>
<path d="M287.44 267.42L295.56 273.22M287.44 273.22L295.56 267.42" stroke="#7C9CD2" stroke-width="1.6" fill="none"/>
<text x="0" y="273.52" class="rl" transform="translate(318.3,0) scale(1.12,1)">16</text>
<line x1="269.5" y1="283.49" x2="313.5" y2="283.49" stroke="#F9B586" stroke-width="1.3"/>
<rect x="287.44" y="282.62" width="8.12" height="1.74" fill="#F79646"/>
<text x="0" y="286.69" class="rl" transform="translate(318.3,0) scale(1.12,1)">17</text>
<text x="96.5" y="333.9" class="cap">Monthly Rainfall (mm)</text>
<rect x="364" y="13.8" width="274.2" height="303.5" fill="#fff" stroke="#8a8a8a" stroke-width="1.6"/>
<line x1="403" y1="278" x2="622" y2="278" stroke="#929292" stroke-width="1.2"/>
<text x="0" y="0" class="tl1" text-anchor="end" transform="translate(392.6,283.9) scale(0.9,1)">20</text>
<line x1="403" y1="261.93" x2="622" y2="261.93" stroke="#929292" stroke-width="1.2"/>
<text x="0" y="0" class="tl1" text-anchor="end" transform="translate(392.6,267.83) scale(0.9,1)">21</text>
<line x1="403" y1="245.86" x2="622" y2="245.86" stroke="#929292" stroke-width="1.2"/>
<text x="0" y="0" class="tl1" text-anchor="end" transform="translate(392.6,251.76) scale(0.9,1)">22</text>
<line x1="403" y1="229.79" x2="622" y2="229.79" stroke="#929292" stroke-width="1.2"/>
<text x="0" y="0" class="tl1" text-anchor="end" transform="translate(392.6,235.69) scale(0.9,1)">23</text>
<line x1="403" y1="213.72" x2="622" y2="213.72" stroke="#929292" stroke-width="1.2"/>
<text x="0" y="0" class="tl1" text-anchor="end" transform="translate(392.6,219.62) scale(0.9,1)">24</text>
<line x1="403" y1="197.65" x2="622" y2="197.65" stroke="#929292" stroke-width="1.2"/>
<text x="0" y="0" class="tl1" text-anchor="end" transform="translate(392.6,203.55) scale(0.9,1)">25</text>
<line x1="403" y1="181.58" x2="622" y2="181.58" stroke="#929292" stroke-width="1.2"/>
<text x="0" y="0" class="tl1" text-anchor="end" transform="translate(392.6,187.48) scale(0.9,1)">26</text>
<line x1="403" y1="165.51" x2="622" y2="165.51" stroke="#929292" stroke-width="1.2"/>
<text x="0" y="0" class="tl1" text-anchor="end" transform="translate(392.6,171.41) scale(0.9,1)">27</text>
<line x1="403" y1="149.44" x2="622" y2="149.44" stroke="#929292" stroke-width="1.2"/>
<text x="0" y="0" class="tl1" text-anchor="end" transform="translate(392.6,155.34) scale(0.9,1)">28</text>
<line x1="403" y1="133.37" x2="622" y2="133.37" stroke="#929292" stroke-width="1.2"/>
<text x="0" y="0" class="tl1" text-anchor="end" transform="translate(392.6,139.27) scale(0.9,1)">29</text>
<line x1="403" y1="117.3" x2="622" y2="117.3" stroke="#929292" stroke-width="1.2"/>
<text x="0" y="0" class="tl1" text-anchor="end" transform="translate(392.6,123.2) scale(0.9,1)">30</text>
<line x1="403" y1="101.23" x2="622" y2="101.23" stroke="#929292" stroke-width="1.2"/>
<text x="0" y="0" class="tl1" text-anchor="end" transform="translate(392.6,107.13) scale(0.9,1)">31</text>
<line x1="403" y1="85.16" x2="622" y2="85.16" stroke="#929292" stroke-width="1.2"/>
<text x="0" y="0" class="tl1" text-anchor="end" transform="translate(392.6,91.06) scale(0.9,1)">32</text>
<line x1="403" y1="69.09" x2="622" y2="69.09" stroke="#929292" stroke-width="1.2"/>
<text x="0" y="0" class="tl1" text-anchor="end" transform="translate(392.6,74.99) scale(0.9,1)">33</text>
<line x1="403" y1="53.02" x2="622" y2="53.02" stroke="#929292" stroke-width="1.2"/>
<text x="0" y="0" class="tl1" text-anchor="end" transform="translate(392.6,58.92) scale(0.9,1)">34</text>
<line x1="403" y1="36.95" x2="622" y2="36.95" stroke="#929292" stroke-width="1.2"/>
<text x="0" y="0" class="tl1" text-anchor="end" transform="translate(392.6,42.85) scale(0.9,1)">35</text>
<line x1="408" y1="36.95" x2="408" y2="282" stroke="#929292" stroke-width="1.2"/>
<line x1="425.83" y1="278" x2="425.83" y2="282" stroke="#929292" stroke-width="1.2"/>
<line x1="443.67" y1="278" x2="443.67" y2="282" stroke="#929292" stroke-width="1.2"/>
<line x1="461.5" y1="278" x2="461.5" y2="282" stroke="#929292" stroke-width="1.2"/>
<line x1="479.33" y1="278" x2="479.33" y2="282" stroke="#929292" stroke-width="1.2"/>
<line x1="497.17" y1="278" x2="497.17" y2="282" stroke="#929292" stroke-width="1.2"/>
<line x1="515" y1="278" x2="515" y2="282" stroke="#929292" stroke-width="1.2"/>
<line x1="532.83" y1="278" x2="532.83" y2="282" stroke="#929292" stroke-width="1.2"/>
<line x1="550.67" y1="278" x2="550.67" y2="282" stroke="#929292" stroke-width="1.2"/>
<line x1="568.5" y1="278" x2="568.5" y2="282" stroke="#929292" stroke-width="1.2"/>
<line x1="586.33" y1="278" x2="586.33" y2="282" stroke="#929292" stroke-width="1.2"/>
<line x1="604.17" y1="278" x2="604.17" y2="282" stroke="#929292" stroke-width="1.2"/>
<line x1="622" y1="278" x2="622" y2="282" stroke="#929292" stroke-width="1.2"/>
<text class="tm1" transform="translate(421.12,287.5) rotate(-90) scale(1.08,1)" text-anchor="end">Jan</text>
<text class="tm1" transform="translate(438.95,287.5) rotate(-90) scale(1.08,1)" text-anchor="end">Feb</text>
<text class="tm1" transform="translate(456.78,287.5) rotate(-90) scale(1.08,1)" text-anchor="end">Mar</text>
<text class="tm1" transform="translate(474.62,287.5) rotate(-90) scale(1.08,1)" text-anchor="end">Apr</text>
<text class="tm1" style="letter-spacing:-0.5px" transform="translate(492.45,279.5) rotate(-90) scale(1.08,1)" text-anchor="end">M...</text>
<text class="tm1" transform="translate(510.28,287.5) rotate(-90) scale(1.08,1)" text-anchor="end">Jun</text>
<text class="tm1" transform="translate(528.12,287.5) rotate(-90) scale(1.08,1)" text-anchor="end">Jul</text>
<text class="tm1" transform="translate(545.95,287.5) rotate(-90) scale(1.08,1)" text-anchor="end">Aug</text>
<text class="tm1" transform="translate(563.78,287.5) rotate(-90) scale(1.08,1)" text-anchor="end">Sep</text>
<text class="tm1" transform="translate(581.62,287.5) rotate(-90) scale(1.08,1)" text-anchor="end">Oct</text>
<text class="tm1" transform="translate(599.45,287.5) rotate(-90) scale(1.08,1)" text-anchor="end">Nov</text>
<text class="tm1" transform="translate(617.28,287.5) rotate(-90) scale(1.08,1)" text-anchor="end">Dec</text>
<polyline points="416.92,221.75 434.75,226.58 452.58,222.56 470.42,217.74 488.25,219.34 506.08,233 523.92,241.04 541.75,235.41 559.58,224.17 577.42,215.33 595.25,213.72 613.08,219.34" fill="none" stroke="#000000" stroke-width="4" stroke-linejoin="round"/>
<polygon points="409.72,221.75 416.92,214.56 424.12,221.75 416.92,228.95" fill="#3D69A5" stroke="#335E98" stroke-width="0.8"/>
<polygon points="427.55,226.58 434.75,219.38 441.95,226.58 434.75,233.78" fill="#3D69A5" stroke="#335E98" stroke-width="0.8"/>
<polygon points="445.38,222.56 452.58,215.36 459.78,222.56 452.58,229.76" fill="#3D69A5" stroke="#335E98" stroke-width="0.8"/>
<polygon points="463.22,217.74 470.42,210.54 477.62,217.74 470.42,224.94" fill="#3D69A5" stroke="#335E98" stroke-width="0.8"/>
<polygon points="481.05,219.34 488.25,212.14 495.45,219.34 488.25,226.54" fill="#3D69A5" stroke="#335E98" stroke-width="0.8"/>
<polygon points="498.88,233 506.08,225.8 513.28,233 506.08,240.2" fill="#3D69A5" stroke="#335E98" stroke-width="0.8"/>
<polygon points="516.72,241.04 523.92,233.84 531.12,241.04 523.92,248.24" fill="#3D69A5" stroke="#335E98" stroke-width="0.8"/>
<polygon points="534.55,235.41 541.75,228.21 548.95,235.41 541.75,242.61" fill="#3D69A5" stroke="#335E98" stroke-width="0.8"/>
<polygon points="552.38,224.17 559.58,216.97 566.78,224.17 559.58,231.37" fill="#3D69A5" stroke="#335E98" stroke-width="0.8"/>
<polygon points="570.22,215.33 577.42,208.13 584.62,215.33 577.42,222.53" fill="#3D69A5" stroke="#335E98" stroke-width="0.8"/>
<polygon points="588.05,213.72 595.25,206.52 602.45,213.72 595.25,220.92" fill="#3D69A5" stroke="#335E98" stroke-width="0.8"/>
<polygon points="605.88,219.34 613.08,212.14 620.28,219.34 613.08,226.54" fill="#3D69A5" stroke="#335E98" stroke-width="0.8"/>
<polyline points="416.92,145.42 434.75,147.35 452.58,145.42 470.42,139.8 488.25,141.41 506.08,149.44 523.92,158.28 541.75,171.94 559.58,178.37 577.42,170.33 595.25,157.47 613.08,147.83" fill="none" stroke="#C86966" stroke-width="1.6" stroke-linejoin="round"/>
<rect x="413.02" y="141.52" width="7.8" height="7.8" fill="#9B3B38" stroke="#8C3330" stroke-width="0.6"/>
<rect x="430.85" y="143.45" width="7.8" height="7.8" fill="#9B3B38" stroke="#8C3330" stroke-width="0.6"/>
<rect x="448.68" y="141.52" width="7.8" height="7.8" fill="#9B3B38" stroke="#8C3330" stroke-width="0.6"/>
<rect x="466.52" y="135.9" width="7.8" height="7.8" fill="#9B3B38" stroke="#8C3330" stroke-width="0.6"/>
<rect x="484.35" y="137.5" width="7.8" height="7.8" fill="#9B3B38" stroke="#8C3330" stroke-width="0.6"/>
<rect x="502.18" y="145.54" width="7.8" height="7.8" fill="#9B3B38" stroke="#8C3330" stroke-width="0.6"/>
<rect x="520.02" y="154.38" width="7.8" height="7.8" fill="#9B3B38" stroke="#8C3330" stroke-width="0.6"/>
<rect x="537.85" y="168.04" width="7.8" height="7.8" fill="#9B3B38" stroke="#8C3330" stroke-width="0.6"/>
<rect x="555.68" y="174.47" width="7.8" height="7.8" fill="#9B3B38" stroke="#8C3330" stroke-width="0.6"/>
<rect x="573.52" y="166.43" width="7.8" height="7.8" fill="#9B3B38" stroke="#8C3330" stroke-width="0.6"/>
<rect x="591.35" y="153.57" width="7.8" height="7.8" fill="#9B3B38" stroke="#8C3330" stroke-width="0.6"/>
<rect x="609.18" y="143.93" width="7.8" height="7.8" fill="#9B3B38" stroke="#8C3330" stroke-width="0.6"/>
<polyline points="416.92,188.01 434.75,191.22 452.58,189.62 470.42,188.01 488.25,189.62 506.08,189.62 523.92,199.26 541.75,204.08 559.58,202.47 577.42,196.04 595.25,189.62 613.08,183.19" fill="none" stroke="#8FB04F" stroke-width="1.6" stroke-linejoin="round"/>
<polygon points="413.02,191.32 416.92,184.11 420.82,191.32" fill="#77933C" stroke="#6B8636" stroke-width="0.6"/>
<polygon points="430.85,194.54 434.75,187.32 438.65,194.54" fill="#77933C" stroke="#6B8636" stroke-width="0.6"/>
<polygon points="448.68,192.93 452.58,185.72 456.48,192.93" fill="#77933C" stroke="#6B8636" stroke-width="0.6"/>
<polygon points="466.52,191.32 470.42,184.11 474.32,191.32" fill="#77933C" stroke="#6B8636" stroke-width="0.6"/>
<polygon points="484.35,192.93 488.25,185.72 492.15,192.93" fill="#77933C" stroke="#6B8636" stroke-width="0.6"/>
<polygon points="502.18,192.93 506.08,185.72 509.98,192.93" fill="#77933C" stroke="#6B8636" stroke-width="0.6"/>
<polygon points="520.02,202.57 523.92,195.36 527.82,202.57" fill="#77933C" stroke="#6B8636" stroke-width="0.6"/>
<polygon points="537.85,207.39 541.75,200.18 545.65,207.39" fill="#77933C" stroke="#6B8636" stroke-width="0.6"/>
<polygon points="555.68,205.79 559.58,198.57 563.48,205.79" fill="#77933C" stroke="#6B8636" stroke-width="0.6"/>
<polygon points="573.52,199.36 577.42,192.14 581.32,199.36" fill="#77933C" stroke="#6B8636" stroke-width="0.6"/>
<polygon points="591.35,192.93 595.25,185.72 599.15,192.93" fill="#77933C" stroke="#6B8636" stroke-width="0.6"/>
<polygon points="609.18,186.5 613.08,179.29 616.98,186.5" fill="#77933C" stroke="#6B8636" stroke-width="0.6"/>
<polyline points="416.92,200.86 434.75,204.08 452.58,202.47 470.42,199.26 488.25,199.26 506.08,202.47 523.92,207.29 541.75,208.9 559.58,205.69 577.42,204.08 595.25,199.26 613.08,197.65" fill="none" stroke="#5F4A85" stroke-width="2.4" stroke-linejoin="round"/>
<path d="M413.02 196.96L420.82 204.76M413.02 204.76L420.82 196.96" stroke="#5F4A85" stroke-width="1.6" fill="none"/>
<path d="M430.85 200.18L438.65 207.98M430.85 207.98L438.65 200.18" stroke="#5F4A85" stroke-width="1.6" fill="none"/>
<path d="M448.68 198.57L456.48 206.37M448.68 206.37L456.48 198.57" stroke="#5F4A85" stroke-width="1.6" fill="none"/>
<path d="M466.52 195.36L474.32 203.16M466.52 203.16L474.32 195.36" stroke="#5F4A85" stroke-width="1.6" fill="none"/>
<path d="M484.35 195.36L492.15 203.16M484.35 203.16L492.15 195.36" stroke="#5F4A85" stroke-width="1.6" fill="none"/>
<path d="M502.18 198.57L509.98 206.37M502.18 206.37L509.98 198.57" stroke="#5F4A85" stroke-width="1.6" fill="none"/>
<path d="M520.02 203.39L527.82 211.19M520.02 211.19L527.82 203.39" stroke="#5F4A85" stroke-width="1.6" fill="none"/>
<path d="M537.85 205L545.65 212.8M537.85 212.8L545.65 205" stroke="#5F4A85" stroke-width="1.6" fill="none"/>
<path d="M555.68 201.78L563.48 209.59M555.68 209.59L563.48 201.78" stroke="#5F4A85" stroke-width="1.6" fill="none"/>
<path d="M573.52 200.18L581.32 207.98M573.52 207.98L581.32 200.18" stroke="#5F4A85" stroke-width="1.6" fill="none"/>
<path d="M591.35 195.36L599.15 203.16M591.35 203.16L599.15 195.36" stroke="#5F4A85" stroke-width="1.6" fill="none"/>
<path d="M609.18 193.75L616.98 201.55M609.18 201.55L616.98 193.75" stroke="#5F4A85" stroke-width="1.6" fill="none"/>
<polyline points="416.92,182.38 434.75,189.62 452.58,179.97 470.42,168.72 488.25,167.12 506.08,175.15 523.92,183.99 541.75,180.78 559.58,173.55 577.42,165.03 595.25,163.42 613.08,175.15" fill="none" stroke="#4BA3BD" stroke-width="1.6" stroke-linejoin="round"/>
<path d="M413.02 178.48L420.82 186.28M413.02 186.28L420.82 178.48M416.92 178.48L416.92 186.28" stroke="#31859C" stroke-width="1.6" fill="none"/>
<path d="M430.85 185.72L438.65 193.52M430.85 193.52L438.65 185.72M434.75 185.72L434.75 193.52" stroke="#31859C" stroke-width="1.6" fill="none"/>
<path d="M448.68 176.07L456.48 183.87M448.68 183.87L456.48 176.07M452.58 176.07L452.58 183.87" stroke="#31859C" stroke-width="1.6" fill="none"/>
<path d="M466.52 164.82L474.32 172.62M466.52 172.62L474.32 164.82M470.42 164.82L470.42 172.62" stroke="#31859C" stroke-width="1.6" fill="none"/>
<path d="M484.35 163.22L492.15 171.02M484.35 171.02L492.15 163.22M488.25 163.22L488.25 171.02" stroke="#31859C" stroke-width="1.6" fill="none"/>
<path d="M502.18 171.25L509.98 179.05M502.18 179.05L509.98 171.25M506.08 171.25L506.08 179.05" stroke="#31859C" stroke-width="1.6" fill="none"/>
<path d="M520.02 180.09L527.82 187.89M520.02 187.89L527.82 180.09M523.92 180.09L523.92 187.89" stroke="#31859C" stroke-width="1.6" fill="none"/>
<path d="M537.85 176.88L545.65 184.68M537.85 184.68L545.65 176.88M541.75 176.88L541.75 184.68" stroke="#31859C" stroke-width="1.6" fill="none"/>
<path d="M555.68 169.65L563.48 177.45M555.68 177.45L563.48 169.65M559.58 169.65L559.58 177.45" stroke="#31859C" stroke-width="1.6" fill="none"/>
<path d="M573.52 161.13L581.32 168.93M573.52 168.93L581.32 161.13M577.42 161.13L577.42 168.93" stroke="#31859C" stroke-width="1.6" fill="none"/>
<path d="M591.35 159.52L599.15 167.32M591.35 167.32L599.15 159.52M595.25 159.52L595.25 167.32" stroke="#31859C" stroke-width="1.6" fill="none"/>
<path d="M609.18 171.25L616.98 179.05M609.18 179.05L616.98 171.25M613.08 171.25L613.08 179.05" stroke="#31859C" stroke-width="1.6" fill="none"/>
<polyline points="416.92,171.94 434.75,175.15 452.58,175.15 470.42,171.94 488.25,171.94 506.08,174.35 523.92,178.69 541.75,182.54 559.58,182.22 577.42,177.08 595.25,170.97 613.08,169.21" fill="none" stroke="#EE9A57" stroke-width="1.6" stroke-linejoin="round"/>
<ellipse cx="416.92" cy="171.94" rx="3.9" ry="3.9" fill="#D2772E" stroke="#C46E29" stroke-width="0.6"/>
<ellipse cx="434.75" cy="175.15" rx="3.9" ry="3.9" fill="#D2772E" stroke="#C46E29" stroke-width="0.6"/>
<ellipse cx="452.58" cy="175.15" rx="3.9" ry="3.9" fill="#D2772E" stroke="#C46E29" stroke-width="0.6"/>
<ellipse cx="470.42" cy="171.94" rx="3.9" ry="3.9" fill="#D2772E" stroke="#C46E29" stroke-width="0.6"/>
<ellipse cx="488.25" cy="171.94" rx="3.9" ry="3.9" fill="#D2772E" stroke="#C46E29" stroke-width="0.6"/>
<ellipse cx="506.08" cy="174.35" rx="3.9" ry="3.9" fill="#D2772E" stroke="#C46E29" stroke-width="0.6"/>
<ellipse cx="523.92" cy="178.69" rx="3.9" ry="3.9" fill="#D2772E" stroke="#C46E29" stroke-width="0.6"/>
<ellipse cx="541.75" cy="182.54" rx="3.9" ry="3.9" fill="#D2772E" stroke="#C46E29" stroke-width="0.6"/>
<ellipse cx="559.58" cy="182.22" rx="3.9" ry="3.9" fill="#D2772E" stroke="#C46E29" stroke-width="0.6"/>
<ellipse cx="577.42" cy="177.08" rx="3.9" ry="3.9" fill="#D2772E" stroke="#C46E29" stroke-width="0.6"/>
<ellipse cx="595.25" cy="170.97" rx="3.9" ry="3.9" fill="#D2772E" stroke="#C46E29" stroke-width="0.6"/>
<ellipse cx="613.08" cy="169.21" rx="3.9" ry="3.9" fill="#D2772E" stroke="#C46E29" stroke-width="0.6"/>
<polyline points="416.92,199.26 434.75,200.86 452.58,199.26 470.42,197.65 488.25,197.65 506.08,200.86 523.92,205.69 541.75,207.29 559.58,204.08 577.42,199.26 595.25,192.83 613.08,192.83" fill="none" stroke="#8EADD6" stroke-width="1.6" stroke-linejoin="round"/>
<path d="M413.02 199.26L420.82 199.26M416.92 195.36L416.92 203.16" stroke="#4A7BBA" stroke-width="1.6" fill="none"/>
<path d="M430.85 200.86L438.65 200.86M434.75 196.96L434.75 204.76" stroke="#4A7BBA" stroke-width="1.6" fill="none"/>
<path d="M448.68 199.26L456.48 199.26M452.58 195.36L452.58 203.16" stroke="#4A7BBA" stroke-width="1.6" fill="none"/>
<path d="M466.52 197.65L474.32 197.65M470.42 193.75L470.42 201.55" stroke="#4A7BBA" stroke-width="1.6" fill="none"/>
<path d="M484.35 197.65L492.15 197.65M488.25 193.75L488.25 201.55" stroke="#4A7BBA" stroke-width="1.6" fill="none"/>
<path d="M502.18 200.86L509.98 200.86M506.08 196.96L506.08 204.76" stroke="#4A7BBA" stroke-width="1.6" fill="none"/>
<path d="M520.02 205.69L527.82 205.69M523.92 201.78L523.92 209.59" stroke="#4A7BBA" stroke-width="1.6" fill="none"/>
<path d="M537.85 207.29L545.65 207.29M541.75 203.39L541.75 211.19" stroke="#4A7BBA" stroke-width="1.6" fill="none"/>
<path d="M555.68 204.08L563.48 204.08M559.58 200.18L559.58 207.98" stroke="#4A7BBA" stroke-width="1.6" fill="none"/>
<path d="M573.52 199.26L581.32 199.26M577.42 195.36L577.42 203.16" stroke="#4A7BBA" stroke-width="1.6" fill="none"/>
<path d="M591.35 192.83L599.15 192.83M595.25 188.93L595.25 196.73" stroke="#4A7BBA" stroke-width="1.6" fill="none"/>
<path d="M609.18 192.83L616.98 192.83M613.08 188.93L613.08 196.73" stroke="#4A7BBA" stroke-width="1.6" fill="none"/>
<polyline points="416.92,184.79 434.75,189.62 452.58,184.79 470.42,183.19 488.25,186.4 506.08,192.83 523.92,200.86 541.75,204.08 559.58,194.44 577.42,181.58 595.25,179.17 613.08,188.01" fill="none" stroke="#D98C8A" stroke-width="1.6" stroke-linejoin="round"/>
<rect x="413.02" y="183.62" width="7.8" height="2.34" fill="#C0504D"/>
<rect x="430.85" y="188.45" width="7.8" height="2.34" fill="#C0504D"/>
<rect x="448.68" y="183.62" width="7.8" height="2.34" fill="#C0504D"/>
<rect x="466.52" y="182.02" width="7.8" height="2.34" fill="#C0504D"/>
<rect x="484.35" y="185.23" width="7.8" height="2.34" fill="#C0504D"/>
<rect x="502.18" y="191.66" width="7.8" height="2.34" fill="#C0504D"/>
<rect x="520.02" y="199.69" width="7.8" height="2.34" fill="#C0504D"/>
<rect x="537.85" y="202.91" width="7.8" height="2.34" fill="#C0504D"/>
<rect x="555.68" y="193.27" width="7.8" height="2.34" fill="#C0504D"/>
<rect x="573.52" y="180.41" width="7.8" height="2.34" fill="#C0504D"/>
<rect x="591.35" y="178" width="7.8" height="2.34" fill="#C0504D"/>
<rect x="609.18" y="186.84" width="7.8" height="2.34" fill="#C0504D"/>
<polyline points="416.92,186.4 434.75,189.62 452.58,188.01 470.42,186.4 488.25,188.01 506.08,192.83 523.92,199.26 541.75,202.47 559.58,199.26 577.42,192.83 595.25,186.4 613.08,183.19" fill="none" stroke="#A9C66E" stroke-width="1.6" stroke-linejoin="round"/>
<rect x="413.02" y="185.23" width="7.8" height="2.34" fill="#8EB04D"/>
<rect x="430.85" y="188.45" width="7.8" height="2.34" fill="#8EB04D"/>
<rect x="448.68" y="186.84" width="7.8" height="2.34" fill="#8EB04D"/>
<rect x="466.52" y="185.23" width="7.8" height="2.34" fill="#8EB04D"/>
<rect x="484.35" y="186.84" width="7.8" height="2.34" fill="#8EB04D"/>
<rect x="502.18" y="191.66" width="7.8" height="2.34" fill="#8EB04D"/>
<rect x="520.02" y="198.09" width="7.8" height="2.34" fill="#8EB04D"/>
<rect x="537.85" y="201.3" width="7.8" height="2.34" fill="#8EB04D"/>
<rect x="555.68" y="198.09" width="7.8" height="2.34" fill="#8EB04D"/>
<rect x="573.52" y="191.66" width="7.8" height="2.34" fill="#8EB04D"/>
<rect x="591.35" y="185.23" width="7.8" height="2.34" fill="#8EB04D"/>
<rect x="609.18" y="182.02" width="7.8" height="2.34" fill="#8EB04D"/>
<polyline points="416.92,197.65 434.75,199.26 452.58,197.65 470.42,194.44 488.25,194.44 506.08,199.26 523.92,205.69 541.75,207.29 559.58,204.08 577.42,199.26 595.25,194.44 613.08,197.65" fill="none" stroke="#8E74B0" stroke-width="1.6" stroke-linejoin="round"/>
<polygon points="413.02,197.65 416.92,193.75 420.82,197.65 416.92,201.55" fill="#7459A0" stroke="#664E8E" stroke-width="0.8"/>
<polygon points="430.85,199.26 434.75,195.36 438.65,199.26 434.75,203.16" fill="#7459A0" stroke="#664E8E" stroke-width="0.8"/>
<polygon points="448.68,197.65 452.58,193.75 456.48,197.65 452.58,201.55" fill="#7459A0" stroke="#664E8E" stroke-width="0.8"/>
<polygon points="466.52,194.44 470.42,190.54 474.32,194.44 470.42,198.34" fill="#7459A0" stroke="#664E8E" stroke-width="0.8"/>
<polygon points="484.35,194.44 488.25,190.54 492.15,194.44 488.25,198.34" fill="#7459A0" stroke="#664E8E" stroke-width="0.8"/>
<polygon points="502.18,199.26 506.08,195.36 509.98,199.26 506.08,203.16" fill="#7459A0" stroke="#664E8E" stroke-width="0.8"/>
<polygon points="520.02,205.69 523.92,201.78 527.82,205.69 523.92,209.59" fill="#7459A0" stroke="#664E8E" stroke-width="0.8"/>
<polygon points="537.85,207.29 541.75,203.39 545.65,207.29 541.75,211.19" fill="#7459A0" stroke="#664E8E" stroke-width="0.8"/>
<polygon points="555.68,204.08 559.58,200.18 563.48,204.08 559.58,207.98" fill="#7459A0" stroke="#664E8E" stroke-width="0.8"/>
<polygon points="573.52,199.26 577.42,195.36 581.32,199.26 577.42,203.16" fill="#7459A0" stroke="#664E8E" stroke-width="0.8"/>
<polygon points="591.35,194.44 595.25,190.54 599.15,194.44 595.25,198.34" fill="#7459A0" stroke="#664E8E" stroke-width="0.8"/>
<polygon points="609.18,197.65 613.08,193.75 616.98,197.65 613.08,201.55" fill="#7459A0" stroke="#664E8E" stroke-width="0.8"/>
<polyline points="416.92,190.9 434.75,188.97 452.58,188.01 470.42,186.4 488.25,191.22 506.08,199.26 523.92,211.79 541.75,212.11 559.58,214.36 577.42,208.42 595.25,200.86 613.08,194.44" fill="none" stroke="#7EC8DB" stroke-width="1.6" stroke-linejoin="round"/>
<rect x="413.02" y="187" width="7.8" height="7.8" fill="#3BA6C2" stroke="#3399B4" stroke-width="0.6"/>
<rect x="430.85" y="185.07" width="7.8" height="7.8" fill="#3BA6C2" stroke="#3399B4" stroke-width="0.6"/>
<rect x="448.68" y="184.11" width="7.8" height="7.8" fill="#3BA6C2" stroke="#3399B4" stroke-width="0.6"/>
<rect x="466.52" y="182.5" width="7.8" height="7.8" fill="#3BA6C2" stroke="#3399B4" stroke-width="0.6"/>
<rect x="484.35" y="187.32" width="7.8" height="7.8" fill="#3BA6C2" stroke="#3399B4" stroke-width="0.6"/>
<rect x="502.18" y="195.36" width="7.8" height="7.8" fill="#3BA6C2" stroke="#3399B4" stroke-width="0.6"/>
<rect x="520.02" y="207.89" width="7.8" height="7.8" fill="#3BA6C2" stroke="#3399B4" stroke-width="0.6"/>
<rect x="537.85" y="208.21" width="7.8" height="7.8" fill="#3BA6C2" stroke="#3399B4" stroke-width="0.6"/>
<rect x="555.68" y="210.46" width="7.8" height="7.8" fill="#3BA6C2" stroke="#3399B4" stroke-width="0.6"/>
<rect x="573.52" y="204.52" width="7.8" height="7.8" fill="#3BA6C2" stroke="#3399B4" stroke-width="0.6"/>
<rect x="591.35" y="196.96" width="7.8" height="7.8" fill="#3BA6C2" stroke="#3399B4" stroke-width="0.6"/>
<rect x="609.18" y="190.54" width="7.8" height="7.8" fill="#3BA6C2" stroke="#3399B4" stroke-width="0.6"/>
<polyline points="416.92,196.04 434.75,192.83 452.58,194.44 470.42,192.83 488.25,197.65 506.08,202.47 523.92,209.38 541.75,216.93 559.58,218.54 577.42,212.6 595.25,206.81 613.08,200.06" fill="none" stroke="#F4A060" stroke-width="1.6" stroke-linejoin="round"/>
<polygon points="413.02,199.36 416.92,192.14 420.82,199.36" fill="#F38B36" stroke="#E88030" stroke-width="0.6"/>
<polygon points="430.85,196.14 434.75,188.93 438.65,196.14" fill="#F38B36" stroke="#E88030" stroke-width="0.6"/>
<polygon points="448.68,197.75 452.58,190.54 456.48,197.75" fill="#F38B36" stroke="#E88030" stroke-width="0.6"/>
<polygon points="466.52,196.14 470.42,188.93 474.32,196.14" fill="#F38B36" stroke="#E88030" stroke-width="0.6"/>
<polygon points="484.35,200.97 488.25,193.75 492.15,200.97" fill="#F38B36" stroke="#E88030" stroke-width="0.6"/>
<polygon points="502.18,205.79 506.08,198.57 509.98,205.79" fill="#F38B36" stroke="#E88030" stroke-width="0.6"/>
<polygon points="520.02,212.7 523.92,205.48 527.82,212.7" fill="#F38B36" stroke="#E88030" stroke-width="0.6"/>
<polygon points="537.85,220.25 541.75,213.03 545.65,220.25" fill="#F38B36" stroke="#E88030" stroke-width="0.6"/>
<polygon points="555.68,221.86 559.58,214.64 563.48,221.86" fill="#F38B36" stroke="#E88030" stroke-width="0.6"/>
<polygon points="573.52,215.91 577.42,208.7 581.32,215.91" fill="#F38B36" stroke="#E88030" stroke-width="0.6"/>
<polygon points="591.35,210.12 595.25,202.91 599.15,210.12" fill="#F38B36" stroke="#E88030" stroke-width="0.6"/>
<polygon points="609.18,203.38 613.08,196.16 616.98,203.38" fill="#F38B36" stroke="#E88030" stroke-width="0.6"/>
<polyline points="416.92,162.78 434.75,169.85 452.58,167.12 470.42,163.9 488.25,161.49 506.08,165.51 523.92,171.46 541.75,170.33 559.58,163.42 577.42,152.65 595.25,147.51 613.08,151.05" fill="none" stroke="#DA8E8C" stroke-width="1.6" stroke-linejoin="round"/>
<path d="M413.02 158.88L420.82 166.68M413.02 166.68L420.82 158.88M416.92 158.88L416.92 166.68" stroke="#D2807E" stroke-width="1.6" fill="none"/>
<path d="M430.85 165.95L438.65 173.75M430.85 173.75L438.65 165.95M434.75 165.95L434.75 173.75" stroke="#D2807E" stroke-width="1.6" fill="none"/>
<path d="M448.68 163.22L456.48 171.02M448.68 171.02L456.48 163.22M452.58 163.22L452.58 171.02" stroke="#D2807E" stroke-width="1.6" fill="none"/>
<path d="M466.52 160L474.32 167.8M466.52 167.8L474.32 160M470.42 160L470.42 167.8" stroke="#D2807E" stroke-width="1.6" fill="none"/>
<path d="M484.35 157.59L492.15 165.39M484.35 165.39L492.15 157.59M488.25 157.59L488.25 165.39" stroke="#D2807E" stroke-width="1.6" fill="none"/>
<path d="M502.18 161.61L509.98 169.41M502.18 169.41L509.98 161.61M506.08 161.61L506.08 169.41" stroke="#D2807E" stroke-width="1.6" fill="none"/>
<path d="M520.02 167.56L527.82 175.36M520.02 175.36L527.82 167.56M523.92 167.56L523.92 175.36" stroke="#D2807E" stroke-width="1.6" fill="none"/>
<path d="M537.85 166.43L545.65 174.23M537.85 174.23L545.65 166.43M541.75 166.43L541.75 174.23" stroke="#D2807E" stroke-width="1.6" fill="none"/>
<path d="M555.68 159.52L563.48 167.32M555.68 167.32L563.48 159.52M559.58 159.52L559.58 167.32" stroke="#D2807E" stroke-width="1.6" fill="none"/>
<path d="M573.52 148.75L581.32 156.55M573.52 156.55L581.32 148.75M577.42 148.75L577.42 156.55" stroke="#D2807E" stroke-width="1.6" fill="none"/>
<path d="M591.35 143.61L599.15 151.41M591.35 151.41L599.15 143.61M595.25 143.61L595.25 151.41" stroke="#D2807E" stroke-width="1.6" fill="none"/>
<path d="M609.18 147.15L616.98 154.95M609.18 154.95L616.98 147.15M613.08 147.15L613.08 154.95" stroke="#D2807E" stroke-width="1.6" fill="none"/>
<polyline points="416.92,228.67 434.75,225.29 452.58,221.27 470.42,216.93 488.25,218.54 506.08,228.18 523.92,238.47 541.75,243.45 559.58,241.04 577.42,239.43 595.25,236.22 613.08,233" fill="none" stroke="#B5D08A" stroke-width="1.6" stroke-linejoin="round"/>
<ellipse cx="416.92" cy="228.67" rx="3.9" ry="3.9" fill="#A7C772" stroke="#9CBC66" stroke-width="0.6"/>
<ellipse cx="434.75" cy="225.29" rx="3.9" ry="3.9" fill="#A7C772" stroke="#9CBC66" stroke-width="0.6"/>
<ellipse cx="452.58" cy="221.27" rx="3.9" ry="3.9" fill="#A7C772" stroke="#9CBC66" stroke-width="0.6"/>
<ellipse cx="470.42" cy="216.93" rx="3.9" ry="3.9" fill="#A7C772" stroke="#9CBC66" stroke-width="0.6"/>
<ellipse cx="488.25" cy="218.54" rx="3.9" ry="3.9" fill="#A7C772" stroke="#9CBC66" stroke-width="0.6"/>
<ellipse cx="506.08" cy="228.18" rx="3.9" ry="3.9" fill="#A7C772" stroke="#9CBC66" stroke-width="0.6"/>
<ellipse cx="523.92" cy="238.47" rx="3.9" ry="3.9" fill="#A7C772" stroke="#9CBC66" stroke-width="0.6"/>
<ellipse cx="541.75" cy="243.45" rx="3.9" ry="3.9" fill="#A7C772" stroke="#9CBC66" stroke-width="0.6"/>
<ellipse cx="559.58" cy="241.04" rx="3.9" ry="3.9" fill="#A7C772" stroke="#9CBC66" stroke-width="0.6"/>
<ellipse cx="577.42" cy="239.43" rx="3.9" ry="3.9" fill="#A7C772" stroke="#9CBC66" stroke-width="0.6"/>
<ellipse cx="595.25" cy="236.22" rx="3.9" ry="3.9" fill="#A7C772" stroke="#9CBC66" stroke-width="0.6"/>
<ellipse cx="613.08" cy="233" rx="3.9" ry="3.9" fill="#A7C772" stroke="#9CBC66" stroke-width="0.6"/>
<polyline points="416.92,204.08 434.75,205.69 452.58,202.47 470.42,199.26 488.25,199.26 506.08,202.47 523.92,196.04 541.75,196.04 559.58,193.79 577.42,192.83 595.25,192.83 613.08,194.44" fill="none" stroke="#B09DCC" stroke-width="1.6" stroke-linejoin="round"/>
<path d="M413.02 204.08L420.82 204.08M416.92 200.18L416.92 207.98" stroke="#8A70B4" stroke-width="1.6" fill="none"/>
<path d="M430.85 205.69L438.65 205.69M434.75 201.78L434.75 209.59" stroke="#8A70B4" stroke-width="1.6" fill="none"/>
<path d="M448.68 202.47L456.48 202.47M452.58 198.57L452.58 206.37" stroke="#8A70B4" stroke-width="1.6" fill="none"/>
<path d="M466.52 199.26L474.32 199.26M470.42 195.36L470.42 203.16" stroke="#8A70B4" stroke-width="1.6" fill="none"/>
<path d="M484.35 199.26L492.15 199.26M488.25 195.36L488.25 203.16" stroke="#8A70B4" stroke-width="1.6" fill="none"/>
<path d="M502.18 202.47L509.98 202.47M506.08 198.57L506.08 206.37" stroke="#8A70B4" stroke-width="1.6" fill="none"/>
<path d="M520.02 196.04L527.82 196.04M523.92 192.14L523.92 199.94" stroke="#8A70B4" stroke-width="1.6" fill="none"/>
<path d="M537.85 196.04L545.65 196.04M541.75 192.14L541.75 199.94" stroke="#8A70B4" stroke-width="1.6" fill="none"/>
<path d="M555.68 193.79L563.48 193.79M559.58 189.89L559.58 197.69" stroke="#8A70B4" stroke-width="1.6" fill="none"/>
<path d="M573.52 192.83L581.32 192.83M577.42 188.93L577.42 196.73" stroke="#8A70B4" stroke-width="1.6" fill="none"/>
<path d="M591.35 192.83L599.15 192.83M595.25 188.93L595.25 196.73" stroke="#8A70B4" stroke-width="1.6" fill="none"/>
<path d="M609.18 194.44L616.98 194.44M613.08 190.54L613.08 198.34" stroke="#8A70B4" stroke-width="1.6" fill="none"/>
<polyline points="416.92,194.44 434.75,197.65 452.58,196.04 470.42,194.44 488.25,196.04 506.08,200.86 523.92,207.29 541.75,208.9 559.58,205.69 577.42,200.86 595.25,196.04 613.08,196.04" fill="none" stroke="#8ED0E0" stroke-width="1.6" stroke-linejoin="round"/>
<rect x="413.02" y="193.27" width="7.8" height="2.34" fill="#4BACC6"/>
<rect x="430.85" y="196.48" width="7.8" height="2.34" fill="#4BACC6"/>
<rect x="448.68" y="194.87" width="7.8" height="2.34" fill="#4BACC6"/>
<rect x="466.52" y="193.27" width="7.8" height="2.34" fill="#4BACC6"/>
<rect x="484.35" y="194.87" width="7.8" height="2.34" fill="#4BACC6"/>
<rect x="502.18" y="199.69" width="7.8" height="2.34" fill="#4BACC6"/>
<rect x="520.02" y="206.12" width="7.8" height="2.34" fill="#4BACC6"/>
<rect x="537.85" y="207.73" width="7.8" height="2.34" fill="#4BACC6"/>
<rect x="555.68" y="204.52" width="7.8" height="2.34" fill="#4BACC6"/>
<rect x="573.52" y="199.69" width="7.8" height="2.34" fill="#4BACC6"/>
<rect x="591.35" y="194.87" width="7.8" height="2.34" fill="#4BACC6"/>
<rect x="609.18" y="194.87" width="7.8" height="2.34" fill="#4BACC6"/>
<polyline points="416.92,205.69 434.75,207.29 452.58,204.08 470.42,200.86 488.25,200.86 506.08,204.08 523.92,208.9 541.75,210.51 559.58,207.29 577.42,204.08 595.25,200.86 613.08,200.86" fill="none" stroke="#93B0DA" stroke-width="1.6" stroke-linejoin="round"/>
<path d="M413.02 201.78L420.82 209.59M413.02 209.59L420.82 201.78" stroke="#7C9CD2" stroke-width="1.6" fill="none"/>
<path d="M430.85 203.39L438.65 211.19M430.85 211.19L438.65 203.39" stroke="#7C9CD2" stroke-width="1.6" fill="none"/>
<path d="M448.68 200.18L456.48 207.98M448.68 207.98L456.48 200.18" stroke="#7C9CD2" stroke-width="1.6" fill="none"/>
<path d="M466.52 196.96L474.32 204.76M466.52 204.76L474.32 196.96" stroke="#7C9CD2" stroke-width="1.6" fill="none"/>
<path d="M484.35 196.96L492.15 204.76M484.35 204.76L492.15 196.96" stroke="#7C9CD2" stroke-width="1.6" fill="none"/>
<path d="M502.18 200.18L509.98 207.98M502.18 207.98L509.98 200.18" stroke="#7C9CD2" stroke-width="1.6" fill="none"/>
<path d="M520.02 205L527.82 212.8M520.02 212.8L527.82 205" stroke="#7C9CD2" stroke-width="1.6" fill="none"/>
<path d="M537.85 206.61L545.65 214.41M537.85 214.41L545.65 206.61" stroke="#7C9CD2" stroke-width="1.6" fill="none"/>
<path d="M555.68 203.39L563.48 211.19M555.68 211.19L563.48 203.39" stroke="#7C9CD2" stroke-width="1.6" fill="none"/>
<path d="M573.52 200.18L581.32 207.98M573.52 207.98L581.32 200.18" stroke="#7C9CD2" stroke-width="1.6" fill="none"/>
<path d="M591.35 196.96L599.15 204.76M591.35 204.76L599.15 196.96" stroke="#7C9CD2" stroke-width="1.6" fill="none"/>
<path d="M609.18 196.96L616.98 204.76M609.18 204.76L616.98 196.96" stroke="#7C9CD2" stroke-width="1.6" fill="none"/>
<polyline points="416.92,188.01 434.75,192.83 452.58,191.22 470.42,189.62 488.25,189.62 506.08,196.04 523.92,204.08 541.75,208.9 559.58,204.08 577.42,187.53 595.25,180.94 613.08,179.97" fill="none" stroke="#F9B586" stroke-width="1.6" stroke-linejoin="round"/>
<rect x="413.02" y="186.84" width="7.8" height="2.34" fill="#F79646"/>
<rect x="430.85" y="191.66" width="7.8" height="2.34" fill="#F79646"/>
<rect x="448.68" y="190.05" width="7.8" height="2.34" fill="#F79646"/>
<rect x="466.52" y="188.45" width="7.8" height="2.34" fill="#F79646"/>
<rect x="484.35" y="188.45" width="7.8" height="2.34" fill="#F79646"/>
<rect x="502.18" y="194.87" width="7.8" height="2.34" fill="#F79646"/>
<rect x="520.02" y="202.91" width="7.8" height="2.34" fill="#F79646"/>
<rect x="537.85" y="207.73" width="7.8" height="2.34" fill="#F79646"/>
<rect x="555.68" y="202.91" width="7.8" height="2.34" fill="#F79646"/>
<rect x="573.52" y="186.36" width="7.8" height="2.34" fill="#F79646"/>
<rect x="591.35" y="179.77" width="7.8" height="2.34" fill="#F79646"/>
<rect x="609.18" y="178.8" width="7.8" height="2.34" fill="#F79646"/>
<rect x="652.8" y="13.8" width="262" height="303.5" fill="#fff" stroke="#8a8a8a" stroke-width="1.6"/>
<line x1="689.8" y1="276.3" x2="894.4" y2="276.3" stroke="#929292" stroke-width="1.2"/>
<text x="0" y="0" class="tl2" text-anchor="end" transform="translate(681.6,281.5) scale(0.93,1)">20</text>
<line x1="689.8" y1="260.08" x2="894.4" y2="260.08" stroke="#929292" stroke-width="1.2"/>
<text x="0" y="0" class="tl2" text-anchor="end" transform="translate(681.6,265.28) scale(0.93,1)">21</text>
<line x1="689.8" y1="243.86" x2="894.4" y2="243.86" stroke="#929292" stroke-width="1.2"/>
<text x="0" y="0" class="tl2" text-anchor="end" transform="translate(681.6,249.06) scale(0.93,1)">22</text>
<line x1="689.8" y1="227.64" x2="894.4" y2="227.64" stroke="#929292" stroke-width="1.2"/>
<text x="0" y="0" class="tl2" text-anchor="end" transform="translate(681.6,232.84) scale(0.93,1)">23</text>
<line x1="689.8" y1="211.42" x2="894.4" y2="211.42" stroke="#929292" stroke-width="1.2"/>
<text x="0" y="0" class="tl2" text-anchor="end" transform="translate(681.6,216.62) scale(0.93,1)">24</text>
<line x1="689.8" y1="195.2" x2="894.4" y2="195.2" stroke="#929292" stroke-width="1.2"/>
<text x="0" y="0" class="tl2" text-anchor="end" transform="translate(681.6,200.4) scale(0.93,1)">25</text>
<line x1="689.8" y1="178.98" x2="894.4" y2="178.98" stroke="#929292" stroke-width="1.2"/>
<text x="0" y="0" class="tl2" text-anchor="end" transform="translate(681.6,184.18) scale(0.93,1)">26</text>
<line x1="689.8" y1="162.76" x2="894.4" y2="162.76" stroke="#929292" stroke-width="1.2"/>
<text x="0" y="0" class="tl2" text-anchor="end" transform="translate(681.6,167.96) scale(0.93,1)">27</text>
<line x1="689.8" y1="146.54" x2="894.4" y2="146.54" stroke="#929292" stroke-width="1.2"/>
<text x="0" y="0" class="tl2" text-anchor="end" transform="translate(681.6,151.74) scale(0.93,1)">28</text>
<line x1="689.8" y1="130.32" x2="894.4" y2="130.32" stroke="#929292" stroke-width="1.2"/>
<text x="0" y="0" class="tl2" text-anchor="end" transform="translate(681.6,135.52) scale(0.93,1)">29</text>
<line x1="689.8" y1="114.1" x2="894.4" y2="114.1" stroke="#929292" stroke-width="1.2"/>
<text x="0" y="0" class="tl2" text-anchor="end" transform="translate(681.6,119.3) scale(0.93,1)">30</text>
<line x1="689.8" y1="97.88" x2="894.4" y2="97.88" stroke="#929292" stroke-width="1.2"/>
<text x="0" y="0" class="tl2" text-anchor="end" transform="translate(681.6,103.08) scale(0.93,1)">31</text>
<line x1="689.8" y1="81.66" x2="894.4" y2="81.66" stroke="#929292" stroke-width="1.2"/>
<text x="0" y="0" class="tl2" text-anchor="end" transform="translate(681.6,86.86) scale(0.93,1)">32</text>
<line x1="689.8" y1="65.44" x2="894.4" y2="65.44" stroke="#929292" stroke-width="1.2"/>
<text x="0" y="0" class="tl2" text-anchor="end" transform="translate(681.6,70.64) scale(0.93,1)">33</text>
<line x1="689.8" y1="49.22" x2="894.4" y2="49.22" stroke="#929292" stroke-width="1.2"/>
<text x="0" y="0" class="tl2" text-anchor="end" transform="translate(681.6,54.42) scale(0.93,1)">34</text>
<line x1="689.8" y1="33" x2="894.4" y2="33" stroke="#929292" stroke-width="1.2"/>
<text x="0" y="0" class="tl2" text-anchor="end" transform="translate(681.6,38.2) scale(0.93,1)">35</text>
<line x1="694.5" y1="33" x2="694.5" y2="280.3" stroke="#929292" stroke-width="1.2"/>
<line x1="711.16" y1="276.3" x2="711.16" y2="280.3" stroke="#929292" stroke-width="1.2"/>
<line x1="727.82" y1="276.3" x2="727.82" y2="280.3" stroke="#929292" stroke-width="1.2"/>
<line x1="744.48" y1="276.3" x2="744.48" y2="280.3" stroke="#929292" stroke-width="1.2"/>
<line x1="761.13" y1="276.3" x2="761.13" y2="280.3" stroke="#929292" stroke-width="1.2"/>
<line x1="777.79" y1="276.3" x2="777.79" y2="280.3" stroke="#929292" stroke-width="1.2"/>
<line x1="794.45" y1="276.3" x2="794.45" y2="280.3" stroke="#929292" stroke-width="1.2"/>
<line x1="811.11" y1="276.3" x2="811.11" y2="280.3" stroke="#929292" stroke-width="1.2"/>
<line x1="827.77" y1="276.3" x2="827.77" y2="280.3" stroke="#929292" stroke-width="1.2"/>
<line x1="844.42" y1="276.3" x2="844.42" y2="280.3" stroke="#929292" stroke-width="1.2"/>
<line x1="861.08" y1="276.3" x2="861.08" y2="280.3" stroke="#929292" stroke-width="1.2"/>
<line x1="877.74" y1="276.3" x2="877.74" y2="280.3" stroke="#929292" stroke-width="1.2"/>
<line x1="894.4" y1="276.3" x2="894.4" y2="280.3" stroke="#929292" stroke-width="1.2"/>
<text class="tm2" transform="translate(708.33,284.7) rotate(-90) scale(1,1)" text-anchor="end">Jan</text>
<text class="tm2" transform="translate(724.99,284.7) rotate(-90) scale(1,1)" text-anchor="end">Feb</text>
<text class="tm2" transform="translate(741.65,284.7) rotate(-90) scale(1,1)" text-anchor="end">Mar</text>
<text class="tm2" transform="translate(758.3,284.7) rotate(-90) scale(1,1)" text-anchor="end">Apr</text>
<text class="tm2" transform="translate(774.96,284.7) rotate(-90) scale(1,1)" text-anchor="end">May</text>
<text class="tm2" transform="translate(791.62,284.7) rotate(-90) scale(1,1)" text-anchor="end">Jun</text>
<text class="tm2" transform="translate(808.28,284.7) rotate(-90) scale(1,1)" text-anchor="end">Jul</text>
<text class="tm2" transform="translate(824.94,284.7) rotate(-90) scale(1,1)" text-anchor="end">Aug</text>
<text class="tm2" transform="translate(841.6,284.7) rotate(-90) scale(1,1)" text-anchor="end">Sep</text>
<text class="tm2" transform="translate(858.25,284.7) rotate(-90) scale(1,1)" text-anchor="end">Oct</text>
<text class="tm2" transform="translate(874.91,284.7) rotate(-90) scale(1,1)" text-anchor="end">Nov</text>
<text class="tm2" transform="translate(891.57,284.7) rotate(-90) scale(1,1)" text-anchor="end">Dec</text>
<polyline points="702.83,104.37 719.49,96.42 736.15,82.15 752.8,74.69 769.46,72.74 786.12,76.79 802.78,75.66 819.44,61.71 836.1,45.33 852.75,43.38 869.41,61.71 886.07,84.09" fill="none" stroke="#000000" stroke-width="4" stroke-linejoin="round"/>
<polygon points="695.63,104.37 702.83,97.17 710.03,104.37 702.83,111.57" fill="#3D69A5" stroke="#335E98" stroke-width="0.8"/>
<polygon points="712.29,96.42 719.49,89.22 726.69,96.42 719.49,103.62" fill="#3D69A5" stroke="#335E98" stroke-width="0.8"/>
<polygon points="728.95,82.15 736.15,74.95 743.35,82.15 736.15,89.35" fill="#3D69A5" stroke="#335E98" stroke-width="0.8"/>
<polygon points="745.6,74.69 752.8,67.49 760,74.69 752.8,81.89" fill="#3D69A5" stroke="#335E98" stroke-width="0.8"/>
<polygon points="762.26,72.74 769.46,65.54 776.66,72.74 769.46,79.94" fill="#3D69A5" stroke="#335E98" stroke-width="0.8"/>
<polygon points="778.92,76.79 786.12,69.59 793.32,76.79 786.12,83.99" fill="#3D69A5" stroke="#335E98" stroke-width="0.8"/>
<polygon points="795.58,75.66 802.78,68.46 809.98,75.66 802.78,82.86" fill="#3D69A5" stroke="#335E98" stroke-width="0.8"/>
<polygon points="812.24,61.71 819.44,54.51 826.64,61.71 819.44,68.91" fill="#3D69A5" stroke="#335E98" stroke-width="0.8"/>
<polygon points="828.9,45.33 836.1,38.13 843.3,45.33 836.1,52.53" fill="#3D69A5" stroke="#335E98" stroke-width="0.8"/>
<polygon points="845.55,43.38 852.75,36.18 859.95,43.38 852.75,50.58" fill="#3D69A5" stroke="#335E98" stroke-width="0.8"/>
<polygon points="862.21,61.71 869.41,54.51 876.61,61.71 869.41,68.91" fill="#3D69A5" stroke="#335E98" stroke-width="0.8"/>
<polygon points="878.87,84.09 886.07,76.89 893.27,84.09 886.07,91.29" fill="#3D69A5" stroke="#335E98" stroke-width="0.8"/>
<polyline points="702.83,124.97 719.49,125.45 736.15,121.24 752.8,116.05 769.46,119.45 786.12,127.89 802.78,136.16 819.44,144.92 836.1,146.54 852.75,141.67 869.41,129.67 886.07,123.02" fill="none" stroke="#C86966" stroke-width="1.6" stroke-linejoin="round"/>
<rect x="698.93" y="121.07" width="7.8" height="7.8" fill="#9B3B38" stroke="#8C3330" stroke-width="0.6"/>
<rect x="715.59" y="121.55" width="7.8" height="7.8" fill="#9B3B38" stroke="#8C3330" stroke-width="0.6"/>
<rect x="732.25" y="117.34" width="7.8" height="7.8" fill="#9B3B38" stroke="#8C3330" stroke-width="0.6"/>
<rect x="748.9" y="112.15" width="7.8" height="7.8" fill="#9B3B38" stroke="#8C3330" stroke-width="0.6"/>
<rect x="765.56" y="115.55" width="7.8" height="7.8" fill="#9B3B38" stroke="#8C3330" stroke-width="0.6"/>
<rect x="782.22" y="123.99" width="7.8" height="7.8" fill="#9B3B38" stroke="#8C3330" stroke-width="0.6"/>
<rect x="798.88" y="132.26" width="7.8" height="7.8" fill="#9B3B38" stroke="#8C3330" stroke-width="0.6"/>
<rect x="815.54" y="141.02" width="7.8" height="7.8" fill="#9B3B38" stroke="#8C3330" stroke-width="0.6"/>
<rect x="832.2" y="142.64" width="7.8" height="7.8" fill="#9B3B38" stroke="#8C3330" stroke-width="0.6"/>
<rect x="848.85" y="137.77" width="7.8" height="7.8" fill="#9B3B38" stroke="#8C3330" stroke-width="0.6"/>
<rect x="865.51" y="125.77" width="7.8" height="7.8" fill="#9B3B38" stroke="#8C3330" stroke-width="0.6"/>
<rect x="882.17" y="119.12" width="7.8" height="7.8" fill="#9B3B38" stroke="#8C3330" stroke-width="0.6"/>
<polyline points="702.83,149.14 719.49,157.89 736.15,152.05 752.8,148.16 769.46,151.41 786.12,154.65 802.78,161.14 819.44,161.14 836.1,153.03 852.75,146.54 869.41,147.35 886.07,145.73" fill="none" stroke="#8FB04F" stroke-width="1.6" stroke-linejoin="round"/>
<polygon points="698.93,152.45 702.83,145.24 706.73,152.45" fill="#77933C" stroke="#6B8636" stroke-width="0.6"/>
<polygon points="715.59,161.21 719.49,153.99 723.39,161.21" fill="#77933C" stroke="#6B8636" stroke-width="0.6"/>
<polygon points="732.25,155.37 736.15,148.15 740.05,155.37" fill="#77933C" stroke="#6B8636" stroke-width="0.6"/>
<polygon points="748.9,151.48 752.8,144.26 756.7,151.48" fill="#77933C" stroke="#6B8636" stroke-width="0.6"/>
<polygon points="765.56,154.72 769.46,147.51 773.36,154.72" fill="#77933C" stroke="#6B8636" stroke-width="0.6"/>
<polygon points="782.22,157.97 786.12,150.75 790.02,157.97" fill="#77933C" stroke="#6B8636" stroke-width="0.6"/>
<polygon points="798.88,164.45 802.78,157.24 806.68,164.45" fill="#77933C" stroke="#6B8636" stroke-width="0.6"/>
<polygon points="815.54,164.45 819.44,157.24 823.34,164.45" fill="#77933C" stroke="#6B8636" stroke-width="0.6"/>
<polygon points="832.2,156.34 836.1,149.13 840,156.34" fill="#77933C" stroke="#6B8636" stroke-width="0.6"/>
<polygon points="848.85,149.86 852.75,142.64 856.65,149.86" fill="#77933C" stroke="#6B8636" stroke-width="0.6"/>
<polygon points="865.51,150.67 869.41,143.45 873.31,150.67" fill="#77933C" stroke="#6B8636" stroke-width="0.6"/>
<polygon points="882.17,149.04 886.07,141.83 889.97,149.04" fill="#77933C" stroke="#6B8636" stroke-width="0.6"/>
<polyline points="702.83,161.3 719.49,165.03 736.15,163.08 752.8,159.52 769.46,159.52 786.12,163.08 802.78,168.76 819.44,164.87 836.1,156.27 852.75,154.65 869.41,158.71 886.07,159.52" fill="none" stroke="#5F4A85" stroke-width="2.4" stroke-linejoin="round"/>
<path d="M698.93 157.4L706.73 165.2M698.93 165.2L706.73 157.4" stroke="#5F4A85" stroke-width="1.6" fill="none"/>
<path d="M715.59 161.13L723.39 168.93M715.59 168.93L723.39 161.13" stroke="#5F4A85" stroke-width="1.6" fill="none"/>
<path d="M732.25 159.18L740.05 166.98M732.25 166.98L740.05 159.18" stroke="#5F4A85" stroke-width="1.6" fill="none"/>
<path d="M748.9 155.62L756.7 163.42M748.9 163.42L756.7 155.62" stroke="#5F4A85" stroke-width="1.6" fill="none"/>
<path d="M765.56 155.62L773.36 163.42M765.56 163.42L773.36 155.62" stroke="#5F4A85" stroke-width="1.6" fill="none"/>
<path d="M782.22 159.18L790.02 166.98M782.22 166.98L790.02 159.18" stroke="#5F4A85" stroke-width="1.6" fill="none"/>
<path d="M798.88 164.86L806.68 172.66M798.88 172.66L806.68 164.86" stroke="#5F4A85" stroke-width="1.6" fill="none"/>
<path d="M815.54 160.97L823.34 168.77M815.54 168.77L823.34 160.97" stroke="#5F4A85" stroke-width="1.6" fill="none"/>
<path d="M832.2 152.37L840 160.17M832.2 160.17L840 152.37" stroke="#5F4A85" stroke-width="1.6" fill="none"/>
<path d="M848.85 150.75L856.65 158.55M848.85 158.55L856.65 150.75" stroke="#5F4A85" stroke-width="1.6" fill="none"/>
<path d="M865.51 154.81L873.31 162.61M865.51 162.61L873.31 154.81" stroke="#5F4A85" stroke-width="1.6" fill="none"/>
<path d="M882.17 155.62L889.97 163.42M882.17 163.42L889.97 155.62" stroke="#5F4A85" stroke-width="1.6" fill="none"/>
<polyline points="702.83,130.32 719.49,131.94 736.15,127.08 752.8,110.05 769.46,105.99 786.12,108.26 802.78,107.29 819.44,87.66 836.1,63.17 852.75,56.03 869.41,75.17 886.07,101.61" fill="none" stroke="#4BA3BD" stroke-width="1.6" stroke-linejoin="round"/>
<path d="M698.93 126.42L706.73 134.22M698.93 134.22L706.73 126.42M702.83 126.42L702.83 134.22" stroke="#31859C" stroke-width="1.6" fill="none"/>
<path d="M715.59 128.04L723.39 135.84M715.59 135.84L723.39 128.04M719.49 128.04L719.49 135.84" stroke="#31859C" stroke-width="1.6" fill="none"/>
<path d="M732.25 123.18L740.05 130.98M732.25 130.98L740.05 123.18M736.15 123.18L736.15 130.98" stroke="#31859C" stroke-width="1.6" fill="none"/>
<path d="M748.9 106.15L756.7 113.95M748.9 113.95L756.7 106.15M752.8 106.15L752.8 113.95" stroke="#31859C" stroke-width="1.6" fill="none"/>
<path d="M765.56 102.09L773.36 109.89M765.56 109.89L773.36 102.09M769.46 102.09L769.46 109.89" stroke="#31859C" stroke-width="1.6" fill="none"/>
<path d="M782.22 104.36L790.02 112.16M782.22 112.16L790.02 104.36M786.12 104.36L786.12 112.16" stroke="#31859C" stroke-width="1.6" fill="none"/>
<path d="M798.88 103.39L806.68 111.19M798.88 111.19L806.68 103.39M802.78 103.39L802.78 111.19" stroke="#31859C" stroke-width="1.6" fill="none"/>
<path d="M815.54 83.76L823.34 91.56M815.54 91.56L823.34 83.76M819.44 83.76L819.44 91.56" stroke="#31859C" stroke-width="1.6" fill="none"/>
<path d="M832.2 59.27L840 67.07M832.2 67.07L840 59.27M836.1 59.27L836.1 67.07" stroke="#31859C" stroke-width="1.6" fill="none"/>
<path d="M848.85 52.13L856.65 59.93M848.85 59.93L856.65 52.13M852.75 52.13L852.75 59.93" stroke="#31859C" stroke-width="1.6" fill="none"/>
<path d="M865.51 71.27L873.31 79.07M865.51 79.07L873.31 71.27M869.41 71.27L869.41 79.07" stroke="#31859C" stroke-width="1.6" fill="none"/>
<path d="M882.17 97.71L889.97 105.51M882.17 105.51L889.97 97.71M886.07 97.71L886.07 105.51" stroke="#31859C" stroke-width="1.6" fill="none"/>
<polyline points="702.83,140.05 719.49,138.43 736.15,135.19 752.8,133.56 769.46,136.81 786.12,141.67 802.78,148.16 819.44,149.78 836.1,148.16 852.75,141.67 869.41,136.81 886.07,140.05" fill="none" stroke="#EE9A57" stroke-width="1.6" stroke-linejoin="round"/>
<ellipse cx="702.83" cy="140.05" rx="3.9" ry="3.9" fill="#D2772E" stroke="#C46E29" stroke-width="0.6"/>
<ellipse cx="719.49" cy="138.43" rx="3.9" ry="3.9" fill="#D2772E" stroke="#C46E29" stroke-width="0.6"/>
<ellipse cx="736.15" cy="135.19" rx="3.9" ry="3.9" fill="#D2772E" stroke="#C46E29" stroke-width="0.6"/>
<ellipse cx="752.8" cy="133.56" rx="3.9" ry="3.9" fill="#D2772E" stroke="#C46E29" stroke-width="0.6"/>
<ellipse cx="769.46" cy="136.81" rx="3.9" ry="3.9" fill="#D2772E" stroke="#C46E29" stroke-width="0.6"/>
<ellipse cx="786.12" cy="141.67" rx="3.9" ry="3.9" fill="#D2772E" stroke="#C46E29" stroke-width="0.6"/>
<ellipse cx="802.78" cy="148.16" rx="3.9" ry="3.9" fill="#D2772E" stroke="#C46E29" stroke-width="0.6"/>
<ellipse cx="819.44" cy="149.78" rx="3.9" ry="3.9" fill="#D2772E" stroke="#C46E29" stroke-width="0.6"/>
<ellipse cx="836.1" cy="148.16" rx="3.9" ry="3.9" fill="#D2772E" stroke="#C46E29" stroke-width="0.6"/>
<ellipse cx="852.75" cy="141.67" rx="3.9" ry="3.9" fill="#D2772E" stroke="#C46E29" stroke-width="0.6"/>
<ellipse cx="869.41" cy="136.81" rx="3.9" ry="3.9" fill="#D2772E" stroke="#C46E29" stroke-width="0.6"/>
<ellipse cx="886.07" cy="140.05" rx="3.9" ry="3.9" fill="#D2772E" stroke="#C46E29" stroke-width="0.6"/>
<polyline points="702.83,161.14 719.49,162.76 736.15,157.89 752.8,153.03 769.46,153.03 786.12,157.89 802.78,162.76 819.44,153.03 836.1,133.56 852.75,126.27 869.41,131.13 886.07,138.43" fill="none" stroke="#8EADD6" stroke-width="1.6" stroke-linejoin="round"/>
<path d="M698.93 161.14L706.73 161.14M702.83 157.24L702.83 165.04" stroke="#4A7BBA" stroke-width="1.6" fill="none"/>
<path d="M715.59 162.76L723.39 162.76M719.49 158.86L719.49 166.66" stroke="#4A7BBA" stroke-width="1.6" fill="none"/>
<path d="M732.25 157.89L740.05 157.89M736.15 153.99L736.15 161.79" stroke="#4A7BBA" stroke-width="1.6" fill="none"/>
<path d="M748.9 153.03L756.7 153.03M752.8 149.13L752.8 156.93" stroke="#4A7BBA" stroke-width="1.6" fill="none"/>
<path d="M765.56 153.03L773.36 153.03M769.46 149.13L769.46 156.93" stroke="#4A7BBA" stroke-width="1.6" fill="none"/>
<path d="M782.22 157.89L790.02 157.89M786.12 153.99L786.12 161.79" stroke="#4A7BBA" stroke-width="1.6" fill="none"/>
<path d="M798.88 162.76L806.68 162.76M802.78 158.86L802.78 166.66" stroke="#4A7BBA" stroke-width="1.6" fill="none"/>
<path d="M815.54 153.03L823.34 153.03M819.44 149.13L819.44 156.93" stroke="#4A7BBA" stroke-width="1.6" fill="none"/>
<path d="M832.2 133.56L840 133.56M836.1 129.66L836.1 137.46" stroke="#4A7BBA" stroke-width="1.6" fill="none"/>
<path d="M848.85 126.27L856.65 126.27M852.75 122.37L852.75 130.17" stroke="#4A7BBA" stroke-width="1.6" fill="none"/>
<path d="M865.51 131.13L873.31 131.13M869.41 127.23L869.41 135.03" stroke="#4A7BBA" stroke-width="1.6" fill="none"/>
<path d="M882.17 138.43L889.97 138.43M886.07 134.53L886.07 142.33" stroke="#4A7BBA" stroke-width="1.6" fill="none"/>
<polyline points="702.83,135.19 719.49,144.92 736.15,140.05 752.8,136.81 769.46,138.43 786.12,143.3 802.78,149.78 819.44,153.03 836.1,146.54 852.75,115.72 869.41,109.23 886.07,143.3" fill="none" stroke="#D98C8A" stroke-width="1.6" stroke-linejoin="round"/>
<rect x="698.93" y="134.02" width="7.8" height="2.34" fill="#C0504D"/>
<rect x="715.59" y="143.75" width="7.8" height="2.34" fill="#C0504D"/>
<rect x="732.25" y="138.88" width="7.8" height="2.34" fill="#C0504D"/>
<rect x="748.9" y="135.64" width="7.8" height="2.34" fill="#C0504D"/>
<rect x="765.56" y="137.26" width="7.8" height="2.34" fill="#C0504D"/>
<rect x="782.22" y="142.13" width="7.8" height="2.34" fill="#C0504D"/>
<rect x="798.88" y="148.61" width="7.8" height="2.34" fill="#C0504D"/>
<rect x="815.54" y="151.86" width="7.8" height="2.34" fill="#C0504D"/>
<rect x="832.2" y="145.37" width="7.8" height="2.34" fill="#C0504D"/>
<rect x="848.85" y="114.55" width="7.8" height="2.34" fill="#C0504D"/>
<rect x="865.51" y="108.06" width="7.8" height="2.34" fill="#C0504D"/>
<rect x="882.17" y="142.13" width="7.8" height="2.34" fill="#C0504D"/>
<polyline points="702.83,127.08 719.49,130.32 736.15,130.32 752.8,128.7 769.46,133.56 786.12,138.43 802.78,144.92 819.44,138.43 836.1,122.21 852.75,97.39 869.41,96.26 886.07,117.34" fill="none" stroke="#A9C66E" stroke-width="1.6" stroke-linejoin="round"/>
<rect x="698.93" y="125.91" width="7.8" height="2.34" fill="#8EB04D"/>
<rect x="715.59" y="129.15" width="7.8" height="2.34" fill="#8EB04D"/>
<rect x="732.25" y="129.15" width="7.8" height="2.34" fill="#8EB04D"/>
<rect x="748.9" y="127.53" width="7.8" height="2.34" fill="#8EB04D"/>
<rect x="765.56" y="132.39" width="7.8" height="2.34" fill="#8EB04D"/>
<rect x="782.22" y="137.26" width="7.8" height="2.34" fill="#8EB04D"/>
<rect x="798.88" y="143.75" width="7.8" height="2.34" fill="#8EB04D"/>
<rect x="815.54" y="137.26" width="7.8" height="2.34" fill="#8EB04D"/>
<rect x="832.2" y="121.04" width="7.8" height="2.34" fill="#8EB04D"/>
<rect x="848.85" y="96.22" width="7.8" height="2.34" fill="#8EB04D"/>
<rect x="865.51" y="95.09" width="7.8" height="2.34" fill="#8EB04D"/>
<rect x="882.17" y="116.17" width="7.8" height="2.34" fill="#8EB04D"/>
<polyline points="702.83,151.41 719.49,153.03 736.15,148.16 752.8,146.54 769.46,148.16 786.12,153.03 802.78,159.52 819.44,161.14 836.1,149.78 852.75,143.3 869.41,136.81 886.07,135.19" fill="none" stroke="#8E74B0" stroke-width="1.6" stroke-linejoin="round"/>
<polygon points="698.93,151.41 702.83,147.51 706.73,151.41 702.83,155.31" fill="#7459A0" stroke="#664E8E" stroke-width="0.8"/>
<polygon points="715.59,153.03 719.49,149.13 723.39,153.03 719.49,156.93" fill="#7459A0" stroke="#664E8E" stroke-width="0.8"/>
<polygon points="732.25,148.16 736.15,144.26 740.05,148.16 736.15,152.06" fill="#7459A0" stroke="#664E8E" stroke-width="0.8"/>
<polygon points="748.9,146.54 752.8,142.64 756.7,146.54 752.8,150.44" fill="#7459A0" stroke="#664E8E" stroke-width="0.8"/>
<polygon points="765.56,148.16 769.46,144.26 773.36,148.16 769.46,152.06" fill="#7459A0" stroke="#664E8E" stroke-width="0.8"/>
<polygon points="782.22,153.03 786.12,149.13 790.02,153.03 786.12,156.93" fill="#7459A0" stroke="#664E8E" stroke-width="0.8"/>
<polygon points="798.88,159.52 802.78,155.62 806.68,159.52 802.78,163.42" fill="#7459A0" stroke="#664E8E" stroke-width="0.8"/>
<polygon points="815.54,161.14 819.44,157.24 823.34,161.14 819.44,165.04" fill="#7459A0" stroke="#664E8E" stroke-width="0.8"/>
<polygon points="832.2,149.78 836.1,145.88 840,149.78 836.1,153.68" fill="#7459A0" stroke="#664E8E" stroke-width="0.8"/>
<polygon points="848.85,143.3 852.75,139.4 856.65,143.3 852.75,147.2" fill="#7459A0" stroke="#664E8E" stroke-width="0.8"/>
<polygon points="865.51,136.81 869.41,132.91 873.31,136.81 869.41,140.71" fill="#7459A0" stroke="#664E8E" stroke-width="0.8"/>
<polygon points="882.17,135.19 886.07,131.29 889.97,135.19 886.07,139.09" fill="#7459A0" stroke="#664E8E" stroke-width="0.8"/>
<polyline points="702.83,138.43 719.49,140.05 736.15,136.81 752.8,135.19 769.46,138.43 786.12,141.67 802.78,146.54 819.44,148.16 836.1,148.16 852.75,144.92 869.41,143.3 886.07,140.05" fill="none" stroke="#7EC8DB" stroke-width="1.6" stroke-linejoin="round"/>
<rect x="698.93" y="134.53" width="7.8" height="7.8" fill="#3BA6C2" stroke="#3399B4" stroke-width="0.6"/>
<rect x="715.59" y="136.15" width="7.8" height="7.8" fill="#3BA6C2" stroke="#3399B4" stroke-width="0.6"/>
<rect x="732.25" y="132.91" width="7.8" height="7.8" fill="#3BA6C2" stroke="#3399B4" stroke-width="0.6"/>
<rect x="748.9" y="131.29" width="7.8" height="7.8" fill="#3BA6C2" stroke="#3399B4" stroke-width="0.6"/>
<rect x="765.56" y="134.53" width="7.8" height="7.8" fill="#3BA6C2" stroke="#3399B4" stroke-width="0.6"/>
<rect x="782.22" y="137.77" width="7.8" height="7.8" fill="#3BA6C2" stroke="#3399B4" stroke-width="0.6"/>
<rect x="798.88" y="142.64" width="7.8" height="7.8" fill="#3BA6C2" stroke="#3399B4" stroke-width="0.6"/>
<rect x="815.54" y="144.26" width="7.8" height="7.8" fill="#3BA6C2" stroke="#3399B4" stroke-width="0.6"/>
<rect x="832.2" y="144.26" width="7.8" height="7.8" fill="#3BA6C2" stroke="#3399B4" stroke-width="0.6"/>
<rect x="848.85" y="141.02" width="7.8" height="7.8" fill="#3BA6C2" stroke="#3399B4" stroke-width="0.6"/>
<rect x="865.51" y="139.4" width="7.8" height="7.8" fill="#3BA6C2" stroke="#3399B4" stroke-width="0.6"/>
<rect x="882.17" y="136.15" width="7.8" height="7.8" fill="#3BA6C2" stroke="#3399B4" stroke-width="0.6"/>
<polyline points="702.83,140.05 719.49,136.81 736.15,133.56 752.8,131.94 769.46,136.81 786.12,141.67 802.78,148.16 819.44,151.41 836.1,146.54 852.75,141.67 869.41,138.43 886.07,138.43" fill="none" stroke="#F4A060" stroke-width="1.6" stroke-linejoin="round"/>
<polygon points="698.93,143.37 702.83,136.15 706.73,143.37" fill="#F38B36" stroke="#E88030" stroke-width="0.6"/>
<polygon points="715.59,140.12 719.49,132.91 723.39,140.12" fill="#F38B36" stroke="#E88030" stroke-width="0.6"/>
<polygon points="732.25,136.88 736.15,129.66 740.05,136.88" fill="#F38B36" stroke="#E88030" stroke-width="0.6"/>
<polygon points="748.9,135.26 752.8,128.04 756.7,135.26" fill="#F38B36" stroke="#E88030" stroke-width="0.6"/>
<polygon points="765.56,140.12 769.46,132.91 773.36,140.12" fill="#F38B36" stroke="#E88030" stroke-width="0.6"/>
<polygon points="782.22,144.99 786.12,137.77 790.02,144.99" fill="#F38B36" stroke="#E88030" stroke-width="0.6"/>
<polygon points="798.88,151.48 802.78,144.26 806.68,151.48" fill="#F38B36" stroke="#E88030" stroke-width="0.6"/>
<polygon points="815.54,154.72 819.44,147.51 823.34,154.72" fill="#F38B36" stroke="#E88030" stroke-width="0.6"/>
<polygon points="832.2,149.86 836.1,142.64 840,149.86" fill="#F38B36" stroke="#E88030" stroke-width="0.6"/>
<polygon points="848.85,144.99 852.75,137.77 856.65,144.99" fill="#F38B36" stroke="#E88030" stroke-width="0.6"/>
<polygon points="865.51,141.75 869.41,134.53 873.31,141.75" fill="#F38B36" stroke="#E88030" stroke-width="0.6"/>
<polygon points="882.17,141.75 886.07,134.53 889.97,141.75" fill="#F38B36" stroke="#E88030" stroke-width="0.6"/>
<polyline points="702.83,143.3 719.49,148.16 736.15,143.3 752.8,136.81 769.46,138.43 786.12,143.3 802.78,148.16 819.44,140.05 836.1,125.45 852.75,108.26 869.41,105.99 886.07,117.34" fill="none" stroke="#DA8E8C" stroke-width="1.6" stroke-linejoin="round"/>
<path d="M698.93 139.4L706.73 147.2M698.93 147.2L706.73 139.4M702.83 139.4L702.83 147.2" stroke="#D2807E" stroke-width="1.6" fill="none"/>
<path d="M715.59 144.26L723.39 152.06M715.59 152.06L723.39 144.26M719.49 144.26L719.49 152.06" stroke="#D2807E" stroke-width="1.6" fill="none"/>
<path d="M732.25 139.4L740.05 147.2M732.25 147.2L740.05 139.4M736.15 139.4L736.15 147.2" stroke="#D2807E" stroke-width="1.6" fill="none"/>
<path d="M748.9 132.91L756.7 140.71M748.9 140.71L756.7 132.91M752.8 132.91L752.8 140.71" stroke="#D2807E" stroke-width="1.6" fill="none"/>
<path d="M765.56 134.53L773.36 142.33M765.56 142.33L773.36 134.53M769.46 134.53L769.46 142.33" stroke="#D2807E" stroke-width="1.6" fill="none"/>
<path d="M782.22 139.4L790.02 147.2M782.22 147.2L790.02 139.4M786.12 139.4L786.12 147.2" stroke="#D2807E" stroke-width="1.6" fill="none"/>
<path d="M798.88 144.26L806.68 152.06M798.88 152.06L806.68 144.26M802.78 144.26L802.78 152.06" stroke="#D2807E" stroke-width="1.6" fill="none"/>
<path d="M815.54 136.15L823.34 143.95M815.54 143.95L823.34 136.15M819.44 136.15L819.44 143.95" stroke="#D2807E" stroke-width="1.6" fill="none"/>
<path d="M832.2 121.55L840 129.35M832.2 129.35L840 121.55M836.1 121.55L836.1 129.35" stroke="#D2807E" stroke-width="1.6" fill="none"/>
<path d="M848.85 104.36L856.65 112.16M848.85 112.16L856.65 104.36M852.75 104.36L852.75 112.16" stroke="#D2807E" stroke-width="1.6" fill="none"/>
<path d="M865.51 102.09L873.31 109.89M865.51 109.89L873.31 102.09M869.41 102.09L869.41 109.89" stroke="#D2807E" stroke-width="1.6" fill="none"/>
<path d="M882.17 113.44L889.97 121.24M882.17 121.24L889.97 113.44M886.07 113.44L886.07 121.24" stroke="#D2807E" stroke-width="1.6" fill="none"/>
<polyline points="702.83,125.94 719.49,128.7 736.15,125.94 752.8,127.89 769.46,135.19 786.12,140.05 802.78,144.92 819.44,141.67 836.1,131.13 852.75,118.97 869.41,113.29 886.07,118.97" fill="none" stroke="#B5D08A" stroke-width="1.6" stroke-linejoin="round"/>
<ellipse cx="702.83" cy="125.94" rx="3.9" ry="3.9" fill="#A7C772" stroke="#9CBC66" stroke-width="0.6"/>
<ellipse cx="719.49" cy="128.7" rx="3.9" ry="3.9" fill="#A7C772" stroke="#9CBC66" stroke-width="0.6"/>
<ellipse cx="736.15" cy="125.94" rx="3.9" ry="3.9" fill="#A7C772" stroke="#9CBC66" stroke-width="0.6"/>
<ellipse cx="752.8" cy="127.89" rx="3.9" ry="3.9" fill="#A7C772" stroke="#9CBC66" stroke-width="0.6"/>
<ellipse cx="769.46" cy="135.19" rx="3.9" ry="3.9" fill="#A7C772" stroke="#9CBC66" stroke-width="0.6"/>
<ellipse cx="786.12" cy="140.05" rx="3.9" ry="3.9" fill="#A7C772" stroke="#9CBC66" stroke-width="0.6"/>
<ellipse cx="802.78" cy="144.92" rx="3.9" ry="3.9" fill="#A7C772" stroke="#9CBC66" stroke-width="0.6"/>
<ellipse cx="819.44" cy="141.67" rx="3.9" ry="3.9" fill="#A7C772" stroke="#9CBC66" stroke-width="0.6"/>
<ellipse cx="836.1" cy="131.13" rx="3.9" ry="3.9" fill="#A7C772" stroke="#9CBC66" stroke-width="0.6"/>
<ellipse cx="852.75" cy="118.97" rx="3.9" ry="3.9" fill="#A7C772" stroke="#9CBC66" stroke-width="0.6"/>
<ellipse cx="869.41" cy="113.29" rx="3.9" ry="3.9" fill="#A7C772" stroke="#9CBC66" stroke-width="0.6"/>
<ellipse cx="886.07" cy="118.97" rx="3.9" ry="3.9" fill="#A7C772" stroke="#9CBC66" stroke-width="0.6"/>
<polyline points="702.83,122.21 719.49,127.08 736.15,130.32 752.8,119.78 769.46,119.78 786.12,116.05 802.78,122.21 819.44,118.97 836.1,116.53 852.75,115.72 869.41,123.02 886.07,134.38" fill="none" stroke="#B09DCC" stroke-width="1.6" stroke-linejoin="round"/>
<path d="M698.93 122.21L706.73 122.21M702.83 118.31L702.83 126.11" stroke="#8A70B4" stroke-width="1.6" fill="none"/>
<path d="M715.59 127.08L723.39 127.08M719.49 123.18L719.49 130.98" stroke="#8A70B4" stroke-width="1.6" fill="none"/>
<path d="M732.25 130.32L740.05 130.32M736.15 126.42L736.15 134.22" stroke="#8A70B4" stroke-width="1.6" fill="none"/>
<path d="M748.9 119.78L756.7 119.78M752.8 115.88L752.8 123.68" stroke="#8A70B4" stroke-width="1.6" fill="none"/>
<path d="M765.56 119.78L773.36 119.78M769.46 115.88L769.46 123.68" stroke="#8A70B4" stroke-width="1.6" fill="none"/>
<path d="M782.22 116.05L790.02 116.05M786.12 112.15L786.12 119.95" stroke="#8A70B4" stroke-width="1.6" fill="none"/>
<path d="M798.88 122.21L806.68 122.21M802.78 118.31L802.78 126.11" stroke="#8A70B4" stroke-width="1.6" fill="none"/>
<path d="M815.54 118.97L823.34 118.97M819.44 115.07L819.44 122.87" stroke="#8A70B4" stroke-width="1.6" fill="none"/>
<path d="M832.2 116.53L840 116.53M836.1 112.63L836.1 120.43" stroke="#8A70B4" stroke-width="1.6" fill="none"/>
<path d="M848.85 115.72L856.65 115.72M852.75 111.82L852.75 119.62" stroke="#8A70B4" stroke-width="1.6" fill="none"/>
<path d="M865.51 123.02L873.31 123.02M869.41 119.12L869.41 126.92" stroke="#8A70B4" stroke-width="1.6" fill="none"/>
<path d="M882.17 134.38L889.97 134.38M886.07 130.48L886.07 138.28" stroke="#8A70B4" stroke-width="1.6" fill="none"/>
<polyline points="702.83,122.21 719.49,125.45 736.15,112.48 752.8,107.61 769.46,117.34 786.12,125.45 802.78,133.56 819.44,128.7 836.1,120.59 852.75,114.1 869.41,110.86 886.07,118.97" fill="none" stroke="#8ED0E0" stroke-width="1.6" stroke-linejoin="round"/>
<rect x="698.93" y="121.04" width="7.8" height="2.34" fill="#4BACC6"/>
<rect x="715.59" y="124.28" width="7.8" height="2.34" fill="#4BACC6"/>
<rect x="732.25" y="111.31" width="7.8" height="2.34" fill="#4BACC6"/>
<rect x="748.9" y="106.44" width="7.8" height="2.34" fill="#4BACC6"/>
<rect x="765.56" y="116.17" width="7.8" height="2.34" fill="#4BACC6"/>
<rect x="782.22" y="124.28" width="7.8" height="2.34" fill="#4BACC6"/>
<rect x="798.88" y="132.39" width="7.8" height="2.34" fill="#4BACC6"/>
<rect x="815.54" y="127.53" width="7.8" height="2.34" fill="#4BACC6"/>
<rect x="832.2" y="119.42" width="7.8" height="2.34" fill="#4BACC6"/>
<rect x="848.85" y="112.93" width="7.8" height="2.34" fill="#4BACC6"/>
<rect x="865.51" y="109.69" width="7.8" height="2.34" fill="#4BACC6"/>
<rect x="882.17" y="117.8" width="7.8" height="2.34" fill="#4BACC6"/>
<polyline points="702.83,120.59 719.49,120.59 736.15,110.05 752.8,104.37 769.46,117.34 786.12,127.08 802.78,131.94 819.44,127.08 836.1,118.97 852.75,115.72 869.41,112.48 886.07,117.34" fill="none" stroke="#93B0DA" stroke-width="1.6" stroke-linejoin="round"/>
<path d="M698.93 116.69L706.73 124.49M698.93 124.49L706.73 116.69" stroke="#7C9CD2" stroke-width="1.6" fill="none"/>
<path d="M715.59 116.69L723.39 124.49M715.59 124.49L723.39 116.69" stroke="#7C9CD2" stroke-width="1.6" fill="none"/>
<path d="M732.25 106.15L740.05 113.95M732.25 113.95L740.05 106.15" stroke="#7C9CD2" stroke-width="1.6" fill="none"/>
<path d="M748.9 100.47L756.7 108.27M748.9 108.27L756.7 100.47" stroke="#7C9CD2" stroke-width="1.6" fill="none"/>
<path d="M765.56 113.44L773.36 121.24M765.56 121.24L773.36 113.44" stroke="#7C9CD2" stroke-width="1.6" fill="none"/>
<path d="M782.22 123.18L790.02 130.98M782.22 130.98L790.02 123.18" stroke="#7C9CD2" stroke-width="1.6" fill="none"/>
<path d="M798.88 128.04L806.68 135.84M798.88 135.84L806.68 128.04" stroke="#7C9CD2" stroke-width="1.6" fill="none"/>
<path d="M815.54 123.18L823.34 130.98M815.54 130.98L823.34 123.18" stroke="#7C9CD2" stroke-width="1.6" fill="none"/>
<path d="M832.2 115.07L840 122.87M832.2 122.87L840 115.07" stroke="#7C9CD2" stroke-width="1.6" fill="none"/>
<path d="M848.85 111.82L856.65 119.62M848.85 119.62L856.65 111.82" stroke="#7C9CD2" stroke-width="1.6" fill="none"/>
<path d="M865.51 108.58L873.31 116.38M865.51 116.38L873.31 108.58" stroke="#7C9CD2" stroke-width="1.6" fill="none"/>
<path d="M882.17 113.44L889.97 121.24M882.17 121.24L889.97 113.44" stroke="#7C9CD2" stroke-width="1.6" fill="none"/>
<polyline points="702.83,157.57 719.49,164.38 736.15,159.52 752.8,149.14 769.46,149.14 786.12,156.76 802.78,161.14 819.44,161.14 836.1,149.78 852.75,143.3 869.41,136.81 886.07,141.67" fill="none" stroke="#F9B586" stroke-width="1.6" stroke-linejoin="round"/>
<rect x="698.93" y="156.4" width="7.8" height="2.34" fill="#F79646"/>
<rect x="715.59" y="163.21" width="7.8" height="2.34" fill="#F79646"/>
<rect x="732.25" y="158.35" width="7.8" height="2.34" fill="#F79646"/>
<rect x="748.9" y="147.97" width="7.8" height="2.34" fill="#F79646"/>
<rect x="765.56" y="147.97" width="7.8" height="2.34" fill="#F79646"/>
<rect x="782.22" y="155.59" width="7.8" height="2.34" fill="#F79646"/>
<rect x="798.88" y="159.97" width="7.8" height="2.34" fill="#F79646"/>
<rect x="815.54" y="159.97" width="7.8" height="2.34" fill="#F79646"/>
<rect x="832.2" y="148.61" width="7.8" height="2.34" fill="#F79646"/>
<rect x="848.85" y="142.13" width="7.8" height="2.34" fill="#F79646"/>
<rect x="865.51" y="135.64" width="7.8" height="2.34" fill="#F79646"/>
<rect x="882.17" y="140.5" width="7.8" height="2.34" fill="#F79646"/>
<rect x="18.2" y="351.8" width="329.8" height="305.6" fill="#fff" stroke="#8a8a8a" stroke-width="1.6"/>
<line x1="60" y1="624.3" x2="268" y2="624.3" stroke="#929292" stroke-width="1.2"/>
<text x="0" y="627.9" class="rl" text-anchor="end" transform="translate(48.8,0) scale(1.32,1)">0</text>
<line x1="60" y1="592.63" x2="268" y2="592.63" stroke="#929292" stroke-width="1.2"/>
<text x="0" y="596.24" class="rl" text-anchor="end" transform="translate(48.8,0) scale(1.32,1)">50</text>
<line x1="60" y1="560.97" x2="268" y2="560.97" stroke="#929292" stroke-width="1.2"/>
<text x="0" y="564.57" class="rl" text-anchor="end" transform="translate(48.8,0) scale(1.32,1)">100</text>
<line x1="60" y1="529.3" x2="268" y2="529.3" stroke="#929292" stroke-width="1.2"/>
<text x="0" y="532.9" class="rl" text-anchor="end" transform="translate(48.8,0) scale(1.32,1)">150</text>
<line x1="60" y1="497.64" x2="268" y2="497.64" stroke="#929292" stroke-width="1.2"/>
<text x="0" y="501.24" class="rl" text-anchor="end" transform="translate(48.8,0) scale(1.32,1)">200</text>
<line x1="60" y1="465.97" x2="268" y2="465.97" stroke="#929292" stroke-width="1.2"/>
<text x="0" y="469.57" class="rl" text-anchor="end" transform="translate(48.8,0) scale(1.32,1)">250</text>
<line x1="60" y1="434.31" x2="268" y2="434.31" stroke="#929292" stroke-width="1.2"/>
<text x="0" y="437.91" class="rl" text-anchor="end" transform="translate(48.8,0) scale(1.32,1)">300</text>
<line x1="60" y1="402.64" x2="268" y2="402.64" stroke="#929292" stroke-width="1.2"/>
<text x="0" y="406.25" class="rl" text-anchor="end" transform="translate(48.8,0) scale(1.32,1)">350</text>
<line x1="60" y1="370.98" x2="268" y2="370.98" stroke="#929292" stroke-width="1.2"/>
<text x="0" y="374.58" class="rl" text-anchor="end" transform="translate(48.8,0) scale(1.32,1)">400</text>
<text class="rm" transform="translate(71.97,631) rotate(-90) scale(1.1,1)" text-anchor="end">Jan</text>
<text class="rm" transform="translate(89.3,631) rotate(-90) scale(1.1,1)" text-anchor="end">Feb</text>
<text class="rm" transform="translate(106.63,631) rotate(-90) scale(1.1,1)" text-anchor="end">Mar</text>
<text class="rm" transform="translate(123.97,631) rotate(-90) scale(1.1,1)" text-anchor="end">Apr</text>
<text class="rm" transform="translate(141.3,631) rotate(-90) scale(1.1,1)" text-anchor="end">May</text>
<text class="rm" transform="translate(158.63,631) rotate(-90) scale(1.1,1)" text-anchor="end">Jun</text>
<text class="rm" transform="translate(175.97,631) rotate(-90) scale(1.1,1)" text-anchor="end">Jul</text>
<text class="rm" transform="translate(193.3,631) rotate(-90) scale(1.1,1)" text-anchor="end">Aug</text>
<text class="rm" transform="translate(210.63,631) rotate(-90) scale(1.1,1)" text-anchor="end">Sep</text>
<text class="rm" transform="translate(227.97,631) rotate(-90) scale(1.1,1)" text-anchor="end">Oct</text>
<text class="rm" transform="translate(245.3,631) rotate(-90) scale(1.1,1)" text-anchor="end">Nov</text>
<text class="rm" transform="translate(262.63,631) rotate(-90) scale(1.1,1)" text-anchor="end">Dec</text>
<polyline points="68.67,497.64 86,522.97 103.33,516.64 120.67,554.64 138,591.05 155.33,599.6 172.67,610.68 190,623.03 207.33,605.93 224.67,583.77 242,498.27 259.33,493.46" fill="none" stroke="#000000" stroke-width="3.4" stroke-linejoin="round"/>
<polygon points="60.16,497.64 68.67,491.34 77.17,497.64 68.67,503.94" fill="#3D69A5" stroke="#335E98" stroke-width="0.8"/>
<polygon points="77.5,522.97 86,516.67 94.5,522.97 86,529.27" fill="#3D69A5" stroke="#335E98" stroke-width="0.8"/>
<polygon points="94.83,516.64 103.33,510.34 111.84,516.64 103.33,522.94" fill="#3D69A5" stroke="#335E98" stroke-width="0.8"/>
<polygon points="112.16,554.64 120.67,548.34 129.17,554.64 120.67,560.94" fill="#3D69A5" stroke="#335E98" stroke-width="0.8"/>
<polygon points="129.5,591.05 138,584.75 146.5,591.05 138,597.35" fill="#3D69A5" stroke="#335E98" stroke-width="0.8"/>
<polygon points="146.83,599.6 155.33,593.3 163.84,599.6 155.33,605.9" fill="#3D69A5" stroke="#335E98" stroke-width="0.8"/>
<polygon points="164.16,610.68 172.67,604.38 181.17,610.68 172.67,616.98" fill="#3D69A5" stroke="#335E98" stroke-width="0.8"/>
<polygon points="181.5,623.03 190,616.73 198.5,623.03 190,629.33" fill="#3D69A5" stroke="#335E98" stroke-width="0.8"/>
<polygon points="198.83,605.93 207.33,599.63 215.84,605.93 207.33,612.23" fill="#3D69A5" stroke="#335E98" stroke-width="0.8"/>
<polygon points="216.16,583.77 224.67,577.47 233.17,583.77 224.67,590.07" fill="#3D69A5" stroke="#335E98" stroke-width="0.8"/>
<polygon points="233.5,498.27 242,491.97 250.5,498.27 242,504.57" fill="#3D69A5" stroke="#335E98" stroke-width="0.8"/>
<polygon points="250.83,493.46 259.33,487.16 267.84,493.46 259.33,499.76" fill="#3D69A5" stroke="#335E98" stroke-width="0.8"/>
<polyline points="68.67,505.24 86,519.81 103.33,506.51 120.67,535.64 138,588.2 155.33,600.87 172.67,611.63 190,620.5 207.33,608.47 224.67,583.77 242,488.46 259.33,464.39" fill="none" stroke="#C86966" stroke-width="1.4" stroke-linejoin="round"/>
<rect x="64.97" y="501.94" width="7.39" height="6.6" fill="#9B3B38" stroke="#8C3330" stroke-width="0.6"/>
<rect x="82.3" y="516.51" width="7.39" height="6.6" fill="#9B3B38" stroke="#8C3330" stroke-width="0.6"/>
<rect x="99.64" y="503.21" width="7.39" height="6.6" fill="#9B3B38" stroke="#8C3330" stroke-width="0.6"/>
<rect x="116.97" y="532.34" width="7.39" height="6.6" fill="#9B3B38" stroke="#8C3330" stroke-width="0.6"/>
<rect x="134.3" y="584.9" width="7.39" height="6.6" fill="#9B3B38" stroke="#8C3330" stroke-width="0.6"/>
<rect x="151.64" y="597.57" width="7.39" height="6.6" fill="#9B3B38" stroke="#8C3330" stroke-width="0.6"/>
<rect x="168.97" y="608.33" width="7.39" height="6.6" fill="#9B3B38" stroke="#8C3330" stroke-width="0.6"/>
<rect x="186.3" y="617.2" width="7.39" height="6.6" fill="#9B3B38" stroke="#8C3330" stroke-width="0.6"/>
<rect x="203.64" y="605.17" width="7.39" height="6.6" fill="#9B3B38" stroke="#8C3330" stroke-width="0.6"/>
<rect x="220.97" y="580.47" width="7.39" height="6.6" fill="#9B3B38" stroke="#8C3330" stroke-width="0.6"/>
<rect x="238.3" y="485.16" width="7.39" height="6.6" fill="#9B3B38" stroke="#8C3330" stroke-width="0.6"/>
<rect x="255.64" y="461.09" width="7.39" height="6.6" fill="#9B3B38" stroke="#8C3330" stroke-width="0.6"/>
<polyline points="68.67,446.03 86,456.6 103.33,464.39 120.67,509.42 138,576.8 155.33,595.8 172.67,609.73 190,617.97 207.33,616.7 224.67,611.63 242,443.81 259.33,402.01" fill="none" stroke="#8FB04F" stroke-width="1.4" stroke-linejoin="round"/>
<polygon points="64.97,448.83 68.67,442.73 72.36,448.83" fill="#77933C" stroke="#6B8636" stroke-width="0.6"/>
<polygon points="82.3,459.41 86,453.3 89.7,459.41" fill="#77933C" stroke="#6B8636" stroke-width="0.6"/>
<polygon points="99.64,467.2 103.33,461.09 107.03,467.2" fill="#77933C" stroke="#6B8636" stroke-width="0.6"/>
<polygon points="116.97,512.22 120.67,506.12 124.36,512.22" fill="#77933C" stroke="#6B8636" stroke-width="0.6"/>
<polygon points="134.3,579.61 138,573.5 141.7,579.61" fill="#77933C" stroke="#6B8636" stroke-width="0.6"/>
<polygon points="151.64,598.61 155.33,592.5 159.03,598.61" fill="#77933C" stroke="#6B8636" stroke-width="0.6"/>
<polygon points="168.97,612.54 172.67,606.43 176.36,612.54" fill="#77933C" stroke="#6B8636" stroke-width="0.6"/>
<polygon points="186.3,620.77 190,614.67 193.7,620.77" fill="#77933C" stroke="#6B8636" stroke-width="0.6"/>
<polygon points="203.64,619.51 207.33,613.4 211.03,619.51" fill="#77933C" stroke="#6B8636" stroke-width="0.6"/>
<polygon points="220.97,614.44 224.67,608.33 228.36,614.44" fill="#77933C" stroke="#6B8636" stroke-width="0.6"/>
<polygon points="238.3,446.61 242,440.51 245.7,446.61" fill="#77933C" stroke="#6B8636" stroke-width="0.6"/>
<polygon points="255.64,404.82 259.33,398.71 263.03,404.82" fill="#77933C" stroke="#6B8636" stroke-width="0.6"/>
<polyline points="68.67,509.04 86,528.04 103.33,513.47 120.67,545.14 138,586.3 155.33,605.3 172.67,612.9 190,619.23 207.33,581.24 224.67,554.64 242,463.44 259.33,446.34" fill="none" stroke="#5F4A85" stroke-width="2.1" stroke-linejoin="round"/>
<path d="M64.97 505.74L72.36 512.34M64.97 512.34L72.36 505.74" stroke="#5F4A85" stroke-width="1.6" fill="none"/>
<path d="M82.3 524.74L89.7 531.34M82.3 531.34L89.7 524.74" stroke="#5F4A85" stroke-width="1.6" fill="none"/>
<path d="M99.64 510.17L107.03 516.77M99.64 516.77L107.03 510.17" stroke="#5F4A85" stroke-width="1.6" fill="none"/>
<path d="M116.97 541.84L124.36 548.44M116.97 548.44L124.36 541.84" stroke="#5F4A85" stroke-width="1.6" fill="none"/>
<path d="M134.3 583L141.7 589.6M134.3 589.6L141.7 583" stroke="#5F4A85" stroke-width="1.6" fill="none"/>
<path d="M151.64 602L159.03 608.6M151.64 608.6L159.03 602" stroke="#5F4A85" stroke-width="1.6" fill="none"/>
<path d="M168.97 609.6L176.36 616.2M168.97 616.2L176.36 609.6" stroke="#5F4A85" stroke-width="1.6" fill="none"/>
<path d="M186.3 615.93L193.7 622.53M186.3 622.53L193.7 615.93" stroke="#5F4A85" stroke-width="1.6" fill="none"/>
<path d="M203.64 577.94L211.03 584.54M203.64 584.54L211.03 577.94" stroke="#5F4A85" stroke-width="1.6" fill="none"/>
<path d="M220.97 551.34L228.36 557.94M220.97 557.94L228.36 551.34" stroke="#5F4A85" stroke-width="1.6" fill="none"/>
<path d="M238.3 460.14L245.7 466.74M238.3 466.74L245.7 460.14" stroke="#5F4A85" stroke-width="1.6" fill="none"/>
<path d="M255.64 443.04L263.03 449.64M255.64 449.64L263.03 443.04" stroke="#5F4A85" stroke-width="1.6" fill="none"/>
<polyline points="68.67,488.14 86,510.31 103.33,512.21 120.67,512.84 138,585.04 155.33,598.97 172.67,611.63 190,620.5 207.33,598.97 224.67,586.3 242,426.71 259.33,422.28" fill="none" stroke="#4BA3BD" stroke-width="1.4" stroke-linejoin="round"/>
<path d="M64.97 484.84L72.36 491.44M64.97 491.44L72.36 484.84M68.67 484.84L68.67 491.44" stroke="#31859C" stroke-width="1.6" fill="none"/>
<path d="M82.3 507.01L89.7 513.61M82.3 513.61L89.7 507.01M86 507.01L86 513.61" stroke="#31859C" stroke-width="1.6" fill="none"/>
<path d="M99.64 508.91L107.03 515.51M99.64 515.51L107.03 508.91M103.33 508.91L103.33 515.51" stroke="#31859C" stroke-width="1.6" fill="none"/>
<path d="M116.97 509.54L124.36 516.14M116.97 516.14L124.36 509.54M120.67 509.54L120.67 516.14" stroke="#31859C" stroke-width="1.6" fill="none"/>
<path d="M134.3 581.74L141.7 588.34M134.3 588.34L141.7 581.74M138 581.74L138 588.34" stroke="#31859C" stroke-width="1.6" fill="none"/>
<path d="M151.64 595.67L159.03 602.27M151.64 602.27L159.03 595.67M155.33 595.67L155.33 602.27" stroke="#31859C" stroke-width="1.6" fill="none"/>
<path d="M168.97 608.33L176.36 614.93M168.97 614.93L176.36 608.33M172.67 608.33L172.67 614.93" stroke="#31859C" stroke-width="1.6" fill="none"/>
<path d="M186.3 617.2L193.7 623.8M186.3 623.8L193.7 617.2M190 617.2L190 623.8" stroke="#31859C" stroke-width="1.6" fill="none"/>
<path d="M203.64 595.67L211.03 602.27M203.64 602.27L211.03 595.67M207.33 595.67L207.33 602.27" stroke="#31859C" stroke-width="1.6" fill="none"/>
<path d="M220.97 583L228.36 589.6M220.97 589.6L228.36 583M224.67 583L224.67 589.6" stroke="#31859C" stroke-width="1.6" fill="none"/>
<path d="M238.3 423.41L245.7 430.01M238.3 430.01L245.7 423.41M242 423.41L242 430.01" stroke="#31859C" stroke-width="1.6" fill="none"/>
<path d="M255.64 418.98L263.03 425.58M255.64 425.58L263.03 418.98M259.33 418.98L259.33 425.58" stroke="#31859C" stroke-width="1.6" fill="none"/>
<polyline points="68.67,502.2 86,483.33 103.33,468.51 120.67,529.3 138,587.57 155.33,598.97 172.67,610.37 190,619.23 207.33,600.87 224.67,545.14 242,472.31 259.33,488.46" fill="none" stroke="#EE9A57" stroke-width="1.4" stroke-linejoin="round"/>
<ellipse cx="68.67" cy="502.2" rx="3.7" ry="3.3" fill="#D2772E" stroke="#C46E29" stroke-width="0.6"/>
<ellipse cx="86" cy="483.33" rx="3.7" ry="3.3" fill="#D2772E" stroke="#C46E29" stroke-width="0.6"/>
<ellipse cx="103.33" cy="468.51" rx="3.7" ry="3.3" fill="#D2772E" stroke="#C46E29" stroke-width="0.6"/>
<ellipse cx="120.67" cy="529.3" rx="3.7" ry="3.3" fill="#D2772E" stroke="#C46E29" stroke-width="0.6"/>
<ellipse cx="138" cy="587.57" rx="3.7" ry="3.3" fill="#D2772E" stroke="#C46E29" stroke-width="0.6"/>
<ellipse cx="155.33" cy="598.97" rx="3.7" ry="3.3" fill="#D2772E" stroke="#C46E29" stroke-width="0.6"/>
<ellipse cx="172.67" cy="610.37" rx="3.7" ry="3.3" fill="#D2772E" stroke="#C46E29" stroke-width="0.6"/>
<ellipse cx="190" cy="619.23" rx="3.7" ry="3.3" fill="#D2772E" stroke="#C46E29" stroke-width="0.6"/>
<ellipse cx="207.33" cy="600.87" rx="3.7" ry="3.3" fill="#D2772E" stroke="#C46E29" stroke-width="0.6"/>
<ellipse cx="224.67" cy="545.14" rx="3.7" ry="3.3" fill="#D2772E" stroke="#C46E29" stroke-width="0.6"/>
<ellipse cx="242" cy="472.31" rx="3.7" ry="3.3" fill="#D2772E" stroke="#C46E29" stroke-width="0.6"/>
<ellipse cx="259.33" cy="488.46" rx="3.7" ry="3.3" fill="#D2772E" stroke="#C46E29" stroke-width="0.6"/>
<polyline points="68.67,546.15 86,513.47 103.33,436.21 120.67,504.29 138,579.97 155.33,595.8 172.67,608.47 190,619.23 207.33,605.3 224.67,586.3 242,577.06 259.33,544.06" fill="none" stroke="#8EADD6" stroke-width="1.4" stroke-linejoin="round"/>
<path d="M64.97 546.15L72.36 546.15M68.67 542.85L68.67 549.45" stroke="#4A7BBA" stroke-width="1.6" fill="none"/>
<path d="M82.3 513.47L89.7 513.47M86 510.17L86 516.77" stroke="#4A7BBA" stroke-width="1.6" fill="none"/>
<path d="M99.64 436.21L107.03 436.21M103.33 432.91L103.33 439.51" stroke="#4A7BBA" stroke-width="1.6" fill="none"/>
<path d="M116.97 504.29L124.36 504.29M120.67 500.99L120.67 507.59" stroke="#4A7BBA" stroke-width="1.6" fill="none"/>
<path d="M134.3 579.97L141.7 579.97M138 576.67L138 583.27" stroke="#4A7BBA" stroke-width="1.6" fill="none"/>
<path d="M151.64 595.8L159.03 595.8M155.33 592.5L155.33 599.1" stroke="#4A7BBA" stroke-width="1.6" fill="none"/>
<path d="M168.97 608.47L176.36 608.47M172.67 605.17L172.67 611.77" stroke="#4A7BBA" stroke-width="1.6" fill="none"/>
<path d="M186.3 619.23L193.7 619.23M190 615.93L190 622.53" stroke="#4A7BBA" stroke-width="1.6" fill="none"/>
<path d="M203.64 605.3L211.03 605.3M207.33 602L207.33 608.6" stroke="#4A7BBA" stroke-width="1.6" fill="none"/>
<path d="M220.97 586.3L228.36 586.3M224.67 583L224.67 589.6" stroke="#4A7BBA" stroke-width="1.6" fill="none"/>
<path d="M238.3 577.06L245.7 577.06M242 573.76L242 580.36" stroke="#4A7BBA" stroke-width="1.6" fill="none"/>
<path d="M255.64 544.06L263.03 544.06M259.33 540.76L259.33 547.36" stroke="#4A7BBA" stroke-width="1.6" fill="none"/>
<polyline points="68.67,513.47 86,519.81 103.33,497.64 120.67,535.64 138,589.47 155.33,600.23 172.67,611.63 190,619.87 207.33,608.47 224.67,579.97 242,497.64 259.33,527.41" fill="none" stroke="#D98C8A" stroke-width="1.4" stroke-linejoin="round"/>
<rect x="64.97" y="512.48" width="7.39" height="1.98" fill="#C0504D"/>
<rect x="82.3" y="518.82" width="7.39" height="1.98" fill="#C0504D"/>
<rect x="99.64" y="496.65" width="7.39" height="1.98" fill="#C0504D"/>
<rect x="116.97" y="534.65" width="7.39" height="1.98" fill="#C0504D"/>
<rect x="134.3" y="588.48" width="7.39" height="1.98" fill="#C0504D"/>
<rect x="151.64" y="599.24" width="7.39" height="1.98" fill="#C0504D"/>
<rect x="168.97" y="610.64" width="7.39" height="1.98" fill="#C0504D"/>
<rect x="186.3" y="618.88" width="7.39" height="1.98" fill="#C0504D"/>
<rect x="203.64" y="607.48" width="7.39" height="1.98" fill="#C0504D"/>
<rect x="220.97" y="578.98" width="7.39" height="1.98" fill="#C0504D"/>
<rect x="238.3" y="496.65" width="7.39" height="1.98" fill="#C0504D"/>
<rect x="255.64" y="526.42" width="7.39" height="1.98" fill="#C0504D"/>
<polyline points="68.67,516.64 86,513.47 103.33,497.64 120.67,529.3 138,587.57 155.33,598.97 172.67,611.63 190,619.23 207.33,614.8 224.67,611.63 242,567.3 259.33,529.3" fill="none" stroke="#A9C66E" stroke-width="1.4" stroke-linejoin="round"/>
<rect x="64.97" y="515.65" width="7.39" height="1.98" fill="#8EB04D"/>
<rect x="82.3" y="512.48" width="7.39" height="1.98" fill="#8EB04D"/>
<rect x="99.64" y="496.65" width="7.39" height="1.98" fill="#8EB04D"/>
<rect x="116.97" y="528.31" width="7.39" height="1.98" fill="#8EB04D"/>
<rect x="134.3" y="586.58" width="7.39" height="1.98" fill="#8EB04D"/>
<rect x="151.64" y="597.98" width="7.39" height="1.98" fill="#8EB04D"/>
<rect x="168.97" y="610.64" width="7.39" height="1.98" fill="#8EB04D"/>
<rect x="186.3" y="618.24" width="7.39" height="1.98" fill="#8EB04D"/>
<rect x="203.64" y="613.81" width="7.39" height="1.98" fill="#8EB04D"/>
<rect x="220.97" y="610.64" width="7.39" height="1.98" fill="#8EB04D"/>
<rect x="238.3" y="566.31" width="7.39" height="1.98" fill="#8EB04D"/>
<rect x="255.64" y="528.31" width="7.39" height="1.98" fill="#8EB04D"/>
<polyline points="68.67,520.63 86,516.64 103.33,503.97 120.67,541.97 138,589.47 155.33,582.06 172.67,612.9 190,620.5 207.33,611.63 224.67,556.54 242,516.89 259.33,517.91" fill="none" stroke="#8E74B0" stroke-width="1.4" stroke-linejoin="round"/>
<polygon points="64.97,520.63 68.67,517.33 72.36,520.63 68.67,523.93" fill="#7459A0" stroke="#664E8E" stroke-width="0.8"/>
<polygon points="82.3,516.64 86,513.34 89.7,516.64 86,519.94" fill="#7459A0" stroke="#664E8E" stroke-width="0.8"/>
<polygon points="99.64,503.97 103.33,500.67 107.03,503.97 103.33,507.27" fill="#7459A0" stroke="#664E8E" stroke-width="0.8"/>
<polygon points="116.97,541.97 120.67,538.67 124.36,541.97 120.67,545.27" fill="#7459A0" stroke="#664E8E" stroke-width="0.8"/>
<polygon points="134.3,589.47 138,586.17 141.7,589.47 138,592.77" fill="#7459A0" stroke="#664E8E" stroke-width="0.8"/>
<polygon points="151.64,582.06 155.33,578.76 159.03,582.06 155.33,585.36" fill="#7459A0" stroke="#664E8E" stroke-width="0.8"/>
<polygon points="168.97,612.9 172.67,609.6 176.36,612.9 172.67,616.2" fill="#7459A0" stroke="#664E8E" stroke-width="0.8"/>
<polygon points="186.3,620.5 190,617.2 193.7,620.5 190,623.8" fill="#7459A0" stroke="#664E8E" stroke-width="0.8"/>
<polygon points="203.64,611.63 207.33,608.33 211.03,611.63 207.33,614.93" fill="#7459A0" stroke="#664E8E" stroke-width="0.8"/>
<polygon points="220.97,556.54 224.67,553.24 228.36,556.54 224.67,559.84" fill="#7459A0" stroke="#664E8E" stroke-width="0.8"/>
<polygon points="238.3,516.89 242,513.59 245.7,516.89 242,520.19" fill="#7459A0" stroke="#664E8E" stroke-width="0.8"/>
<polygon points="255.64,517.91 259.33,514.61 263.03,517.91 259.33,521.21" fill="#7459A0" stroke="#664E8E" stroke-width="0.8"/>
<polyline points="68.67,496.37 86,497.89 103.33,491.94 120.67,525.76 138,585.04 155.33,598.97 172.67,610.37 190,619.23 207.33,605.3 224.67,591.37 242,552.93 259.33,467.87" fill="none" stroke="#7EC8DB" stroke-width="1.4" stroke-linejoin="round"/>
<rect x="64.97" y="493.07" width="7.39" height="6.6" fill="#3BA6C2" stroke="#3399B4" stroke-width="0.6"/>
<rect x="82.3" y="494.59" width="7.39" height="6.6" fill="#3BA6C2" stroke="#3399B4" stroke-width="0.6"/>
<rect x="99.64" y="488.64" width="7.39" height="6.6" fill="#3BA6C2" stroke="#3399B4" stroke-width="0.6"/>
<rect x="116.97" y="522.46" width="7.39" height="6.6" fill="#3BA6C2" stroke="#3399B4" stroke-width="0.6"/>
<rect x="134.3" y="581.74" width="7.39" height="6.6" fill="#3BA6C2" stroke="#3399B4" stroke-width="0.6"/>
<rect x="151.64" y="595.67" width="7.39" height="6.6" fill="#3BA6C2" stroke="#3399B4" stroke-width="0.6"/>
<rect x="168.97" y="607.07" width="7.39" height="6.6" fill="#3BA6C2" stroke="#3399B4" stroke-width="0.6"/>
<rect x="186.3" y="615.93" width="7.39" height="6.6" fill="#3BA6C2" stroke="#3399B4" stroke-width="0.6"/>
<rect x="203.64" y="602" width="7.39" height="6.6" fill="#3BA6C2" stroke="#3399B4" stroke-width="0.6"/>
<rect x="220.97" y="588.07" width="7.39" height="6.6" fill="#3BA6C2" stroke="#3399B4" stroke-width="0.6"/>
<rect x="238.3" y="549.63" width="7.39" height="6.6" fill="#3BA6C2" stroke="#3399B4" stroke-width="0.6"/>
<rect x="255.64" y="464.57" width="7.39" height="6.6" fill="#3BA6C2" stroke="#3399B4" stroke-width="0.6"/>
<polyline points="68.67,483.33 86,467.24 103.33,433.04 120.67,496.37 138,573.64 155.33,590.1 172.67,603.4 190,613.85 207.33,586.94 224.67,564.77 242,449.51 259.33,459.33" fill="none" stroke="#F4A060" stroke-width="1.4" stroke-linejoin="round"/>
<polygon points="64.97,486.13 68.67,480.03 72.36,486.13" fill="#F38B36" stroke="#E88030" stroke-width="0.6"/>
<polygon points="82.3,470.05 86,463.94 89.7,470.05" fill="#F38B36" stroke="#E88030" stroke-width="0.6"/>
<polygon points="99.64,435.85 103.33,429.74 107.03,435.85" fill="#F38B36" stroke="#E88030" stroke-width="0.6"/>
<polygon points="116.97,499.18 120.67,493.07 124.36,499.18" fill="#F38B36" stroke="#E88030" stroke-width="0.6"/>
<polygon points="134.3,576.44 138,570.34 141.7,576.44" fill="#F38B36" stroke="#E88030" stroke-width="0.6"/>
<polygon points="151.64,592.91 155.33,586.8 159.03,592.91" fill="#F38B36" stroke="#E88030" stroke-width="0.6"/>
<polygon points="168.97,606.21 172.67,600.1 176.36,606.21" fill="#F38B36" stroke="#E88030" stroke-width="0.6"/>
<polygon points="186.3,616.66 190,610.55 193.7,616.66" fill="#F38B36" stroke="#E88030" stroke-width="0.6"/>
<polygon points="203.64,589.74 207.33,583.64 211.03,589.74" fill="#F38B36" stroke="#E88030" stroke-width="0.6"/>
<polygon points="220.97,567.57 224.67,561.47 228.36,567.57" fill="#F38B36" stroke="#E88030" stroke-width="0.6"/>
<polygon points="238.3,452.31 242,446.21 245.7,452.31" fill="#F38B36" stroke="#E88030" stroke-width="0.6"/>
<polygon points="255.64,462.13 259.33,456.03 263.03,462.13" fill="#F38B36" stroke="#E88030" stroke-width="0.6"/>
<polyline points="68.67,515.37 86,502.07 103.33,496.63 120.67,535.64 138,588.84 155.33,601.5 172.67,612.9 190,620.5 207.33,610.37 224.67,586.3 242,529.3 259.33,517.91" fill="none" stroke="#DA8E8C" stroke-width="1.4" stroke-linejoin="round"/>
<path d="M64.97 512.07L72.36 518.67M64.97 518.67L72.36 512.07M68.67 512.07L68.67 518.67" stroke="#D2807E" stroke-width="1.6" fill="none"/>
<path d="M82.3 498.77L89.7 505.37M82.3 505.37L89.7 498.77M86 498.77L86 505.37" stroke="#D2807E" stroke-width="1.6" fill="none"/>
<path d="M99.64 493.33L107.03 499.93M99.64 499.93L107.03 493.33M103.33 493.33L103.33 499.93" stroke="#D2807E" stroke-width="1.6" fill="none"/>
<path d="M116.97 532.34L124.36 538.94M116.97 538.94L124.36 532.34M120.67 532.34L120.67 538.94" stroke="#D2807E" stroke-width="1.6" fill="none"/>
<path d="M134.3 585.54L141.7 592.14M134.3 592.14L141.7 585.54M138 585.54L138 592.14" stroke="#D2807E" stroke-width="1.6" fill="none"/>
<path d="M151.64 598.2L159.03 604.8M151.64 604.8L159.03 598.2M155.33 598.2L155.33 604.8" stroke="#D2807E" stroke-width="1.6" fill="none"/>
<path d="M168.97 609.6L176.36 616.2M168.97 616.2L176.36 609.6M172.67 609.6L172.67 616.2" stroke="#D2807E" stroke-width="1.6" fill="none"/>
<path d="M186.3 617.2L193.7 623.8M186.3 623.8L193.7 617.2M190 617.2L190 623.8" stroke="#D2807E" stroke-width="1.6" fill="none"/>
<path d="M203.64 607.07L211.03 613.67M203.64 613.67L211.03 607.07M207.33 607.07L207.33 613.67" stroke="#D2807E" stroke-width="1.6" fill="none"/>
<path d="M220.97 583L228.36 589.6M220.97 589.6L228.36 583M224.67 583L224.67 589.6" stroke="#D2807E" stroke-width="1.6" fill="none"/>
<path d="M238.3 526L245.7 532.6M238.3 532.6L245.7 526M242 526L242 532.6" stroke="#D2807E" stroke-width="1.6" fill="none"/>
<path d="M255.64 514.61L263.03 521.21M255.64 521.21L263.03 514.61M259.33 514.61L259.33 521.21" stroke="#D2807E" stroke-width="1.6" fill="none"/>
<polyline points="68.67,526.33 86,512.4 103.33,501.76 120.67,538.17 138,589.47 155.33,602.13 172.67,612.9 190,620.5 207.33,616.7 224.67,602.13 242,570.47 259.33,530.57" fill="none" stroke="#B5D08A" stroke-width="1.4" stroke-linejoin="round"/>
<ellipse cx="68.67" cy="526.33" rx="3.7" ry="3.3" fill="#A7C772" stroke="#9CBC66" stroke-width="0.6"/>
<ellipse cx="86" cy="512.4" rx="3.7" ry="3.3" fill="#A7C772" stroke="#9CBC66" stroke-width="0.6"/>
<ellipse cx="103.33" cy="501.76" rx="3.7" ry="3.3" fill="#A7C772" stroke="#9CBC66" stroke-width="0.6"/>
<ellipse cx="120.67" cy="538.17" rx="3.7" ry="3.3" fill="#A7C772" stroke="#9CBC66" stroke-width="0.6"/>
<ellipse cx="138" cy="589.47" rx="3.7" ry="3.3" fill="#A7C772" stroke="#9CBC66" stroke-width="0.6"/>
<ellipse cx="155.33" cy="602.13" rx="3.7" ry="3.3" fill="#A7C772" stroke="#9CBC66" stroke-width="0.6"/>
<ellipse cx="172.67" cy="612.9" rx="3.7" ry="3.3" fill="#A7C772" stroke="#9CBC66" stroke-width="0.6"/>
<ellipse cx="190" cy="620.5" rx="3.7" ry="3.3" fill="#A7C772" stroke="#9CBC66" stroke-width="0.6"/>
<ellipse cx="207.33" cy="616.7" rx="3.7" ry="3.3" fill="#A7C772" stroke="#9CBC66" stroke-width="0.6"/>
<ellipse cx="224.67" cy="602.13" rx="3.7" ry="3.3" fill="#A7C772" stroke="#9CBC66" stroke-width="0.6"/>
<ellipse cx="242" cy="570.47" rx="3.7" ry="3.3" fill="#A7C772" stroke="#9CBC66" stroke-width="0.6"/>
<ellipse cx="259.33" cy="530.57" rx="3.7" ry="3.3" fill="#A7C772" stroke="#9CBC66" stroke-width="0.6"/>
<polyline points="68.67,561.16 86,553.37 103.33,540.07 120.67,556.22 138,587.57 155.33,604.03 172.67,612.9 190,619.23 207.33,570.47 224.67,551.47 242,508.41 259.33,509.04" fill="none" stroke="#B09DCC" stroke-width="1.4" stroke-linejoin="round"/>
<path d="M64.97 561.16L72.36 561.16M68.67 557.86L68.67 564.46" stroke="#8A70B4" stroke-width="1.6" fill="none"/>
<path d="M82.3 553.37L89.7 553.37M86 550.07L86 556.67" stroke="#8A70B4" stroke-width="1.6" fill="none"/>
<path d="M99.64 540.07L107.03 540.07M103.33 536.77L103.33 543.37" stroke="#8A70B4" stroke-width="1.6" fill="none"/>
<path d="M116.97 556.22L124.36 556.22M120.67 552.92L120.67 559.52" stroke="#8A70B4" stroke-width="1.6" fill="none"/>
<path d="M134.3 587.57L141.7 587.57M138 584.27L138 590.87" stroke="#8A70B4" stroke-width="1.6" fill="none"/>
<path d="M151.64 604.03L159.03 604.03M155.33 600.73L155.33 607.33" stroke="#8A70B4" stroke-width="1.6" fill="none"/>
<path d="M168.97 612.9L176.36 612.9M172.67 609.6L172.67 616.2" stroke="#8A70B4" stroke-width="1.6" fill="none"/>
<path d="M186.3 619.23L193.7 619.23M190 615.93L190 622.53" stroke="#8A70B4" stroke-width="1.6" fill="none"/>
<path d="M203.64 570.47L211.03 570.47M207.33 567.17L207.33 573.77" stroke="#8A70B4" stroke-width="1.6" fill="none"/>
<path d="M220.97 551.47L228.36 551.47M224.67 548.17L224.67 554.77" stroke="#8A70B4" stroke-width="1.6" fill="none"/>
<path d="M238.3 508.41L245.7 508.41M242 505.11L242 511.71" stroke="#8A70B4" stroke-width="1.6" fill="none"/>
<path d="M255.64 509.04L263.03 509.04M259.33 505.74L259.33 512.34" stroke="#8A70B4" stroke-width="1.6" fill="none"/>
<polyline points="68.67,514.11 86,510.31 103.33,491.94 120.67,512.84 138,588.84 155.33,602.13 172.67,613.53 190,621.13 207.33,606.57 224.67,592.63 242,541.97 259.33,520.76" fill="none" stroke="#8ED0E0" stroke-width="1.4" stroke-linejoin="round"/>
<rect x="64.97" y="513.12" width="7.39" height="1.98" fill="#4BACC6"/>
<rect x="82.3" y="509.32" width="7.39" height="1.98" fill="#4BACC6"/>
<rect x="99.64" y="490.95" width="7.39" height="1.98" fill="#4BACC6"/>
<rect x="116.97" y="511.85" width="7.39" height="1.98" fill="#4BACC6"/>
<rect x="134.3" y="587.85" width="7.39" height="1.98" fill="#4BACC6"/>
<rect x="151.64" y="601.14" width="7.39" height="1.98" fill="#4BACC6"/>
<rect x="168.97" y="612.54" width="7.39" height="1.98" fill="#4BACC6"/>
<rect x="186.3" y="620.14" width="7.39" height="1.98" fill="#4BACC6"/>
<rect x="203.64" y="605.58" width="7.39" height="1.98" fill="#4BACC6"/>
<rect x="220.97" y="591.64" width="7.39" height="1.98" fill="#4BACC6"/>
<rect x="238.3" y="540.98" width="7.39" height="1.98" fill="#4BACC6"/>
<rect x="255.64" y="519.77" width="7.39" height="1.98" fill="#4BACC6"/>
<polyline points="68.67,530.89 86,504.61 103.33,486.24 120.67,522.97 138,589.47 155.33,602.77 172.67,613.53 190,620.5 207.33,607.83 224.67,591.37 242,531.2 259.33,514.11" fill="none" stroke="#93B0DA" stroke-width="1.4" stroke-linejoin="round"/>
<path d="M64.97 527.59L72.36 534.19M64.97 534.19L72.36 527.59" stroke="#7C9CD2" stroke-width="1.6" fill="none"/>
<path d="M82.3 501.31L89.7 507.91M82.3 507.91L89.7 501.31" stroke="#7C9CD2" stroke-width="1.6" fill="none"/>
<path d="M99.64 482.94L107.03 489.54M99.64 489.54L107.03 482.94" stroke="#7C9CD2" stroke-width="1.6" fill="none"/>
<path d="M116.97 519.67L124.36 526.27M116.97 526.27L124.36 519.67" stroke="#7C9CD2" stroke-width="1.6" fill="none"/>
<path d="M134.3 586.17L141.7 592.77M134.3 592.77L141.7 586.17" stroke="#7C9CD2" stroke-width="1.6" fill="none"/>
<path d="M151.64 599.47L159.03 606.07M151.64 606.07L159.03 599.47" stroke="#7C9CD2" stroke-width="1.6" fill="none"/>
<path d="M168.97 610.23L176.36 616.83M168.97 616.83L176.36 610.23" stroke="#7C9CD2" stroke-width="1.6" fill="none"/>
<path d="M186.3 617.2L193.7 623.8M186.3 623.8L193.7 617.2" stroke="#7C9CD2" stroke-width="1.6" fill="none"/>
<path d="M203.64 604.53L211.03 611.13M203.64 611.13L211.03 604.53" stroke="#7C9CD2" stroke-width="1.6" fill="none"/>
<path d="M220.97 588.07L228.36 594.67M220.97 594.67L228.36 588.07" stroke="#7C9CD2" stroke-width="1.6" fill="none"/>
<path d="M238.3 527.9L245.7 534.5M238.3 534.5L245.7 527.9" stroke="#7C9CD2" stroke-width="1.6" fill="none"/>
<path d="M255.64 510.81L263.03 517.41M255.64 517.41L263.03 510.81" stroke="#7C9CD2" stroke-width="1.6" fill="none"/>
<polyline points="68.67,543.62 86,540.07 103.33,520.63 120.67,535 138,587.57 155.33,601.5 172.67,612.9 190,619.87 207.33,614.8 224.67,607.83 242,570.47 259.33,522.97" fill="none" stroke="#F9B586" stroke-width="1.4" stroke-linejoin="round"/>
<rect x="64.97" y="542.63" width="7.39" height="1.98" fill="#F79646"/>
<rect x="82.3" y="539.08" width="7.39" height="1.98" fill="#F79646"/>
<rect x="99.64" y="519.64" width="7.39" height="1.98" fill="#F79646"/>
<rect x="116.97" y="534.01" width="7.39" height="1.98" fill="#F79646"/>
<rect x="134.3" y="586.58" width="7.39" height="1.98" fill="#F79646"/>
<rect x="151.64" y="600.51" width="7.39" height="1.98" fill="#F79646"/>
<rect x="168.97" y="611.91" width="7.39" height="1.98" fill="#F79646"/>
<rect x="186.3" y="618.88" width="7.39" height="1.98" fill="#F79646"/>
<rect x="203.64" y="613.81" width="7.39" height="1.98" fill="#F79646"/>
<rect x="220.97" y="606.84" width="7.39" height="1.98" fill="#F79646"/>
<rect x="238.3" y="569.48" width="7.39" height="1.98" fill="#F79646"/>
<rect x="255.64" y="521.98" width="7.39" height="1.98" fill="#F79646"/>
<rect x="67.4" y="357" width="206.1" height="24.8" fill="#fff" stroke="#000" stroke-width="2"/>
<text x="0" y="375.1" class="ttl" text-anchor="middle" transform="translate(170.85,0) scale(1.1,1)">RCP8.5 SCENARIO</text>
<line x1="270.8" y1="420.6" x2="317.9" y2="420.6" stroke="#000" stroke-width="3.6" stroke-linecap="round"/>
<polygon points="290.97,420.6 294.35,418 297.73,420.6 294.35,423.2" fill="#3D69A5" stroke="#335E98" stroke-width="0.8"/>
<text x="0" y="423.8" class="rl rlb" transform="translate(321.3,0) scale(1.22,1)">0</text>
<line x1="271.8" y1="432.55" x2="316.9" y2="432.55" stroke="#C86966" stroke-width="1.3"/>
<rect x="291.31" y="429.65" width="6.09" height="5.8" fill="#9B3B38" stroke="#8C3330" stroke-width="0.6"/>
<text x="0" y="435.75" class="rl rlb" transform="translate(321.3,0) scale(1.22,1)">1</text>
<line x1="271.8" y1="444.5" x2="316.9" y2="444.5" stroke="#8FB04F" stroke-width="1.3"/>
<polygon points="291.31,446.96 294.35,441.6 297.4,446.96" fill="#77933C" stroke="#6B8636" stroke-width="0.6"/>
<text x="0" y="447.7" class="rl rlb" transform="translate(321.3,0) scale(1.22,1)">2</text>
<line x1="271.8" y1="456.45" x2="316.9" y2="456.45" stroke="#5F4A85" stroke-width="1.95"/>
<path d="M291.31 453.55L297.4 459.35M291.31 459.35L297.4 453.55" stroke="#5F4A85" stroke-width="1.6" fill="none"/>
<text x="0" y="459.65" class="rl rlb" transform="translate(321.3,0) scale(1.22,1)">3</text>
<line x1="271.8" y1="468.4" x2="316.9" y2="468.4" stroke="#4BA3BD" stroke-width="1.3"/>
<path d="M291.31 465.5L297.4 471.3M291.31 471.3L297.4 465.5M294.35 465.5L294.35 471.3" stroke="#31859C" stroke-width="1.6" fill="none"/>
<text x="0" y="471.6" class="rl rlb" transform="translate(321.3,0) scale(1.22,1)">4</text>
<line x1="271.8" y1="480.35" x2="316.9" y2="480.35" stroke="#EE9A57" stroke-width="1.3"/>
<ellipse cx="294.35" cy="480.35" rx="3.04" ry="2.9" fill="#D2772E" stroke="#C46E29" stroke-width="0.6"/>
<text x="0" y="483.55" class="rl rlb" transform="translate(321.3,0) scale(1.22,1)">5</text>
<line x1="271.8" y1="492.3" x2="316.9" y2="492.3" stroke="#8EADD6" stroke-width="1.3"/>
<path d="M291.31 492.3L297.4 492.3M294.35 489.4L294.35 495.2" stroke="#4A7BBA" stroke-width="1.6" fill="none"/>
<text x="0" y="495.5" class="rl rlb" transform="translate(321.3,0) scale(1.22,1)">6</text>
<line x1="271.8" y1="504.25" x2="316.9" y2="504.25" stroke="#D98C8A" stroke-width="1.3"/>
<rect x="291.31" y="503.38" width="6.09" height="1.74" fill="#C0504D"/>
<text x="0" y="507.45" class="rl rlb" transform="translate(321.3,0) scale(1.22,1)">7</text>
<line x1="271.8" y1="516.2" x2="316.9" y2="516.2" stroke="#A9C66E" stroke-width="1.3"/>
<rect x="291.31" y="515.33" width="6.09" height="1.74" fill="#8EB04D"/>
<text x="0" y="519.4" class="rl rlb" transform="translate(321.3,0) scale(1.22,1)">8</text>
<line x1="271.8" y1="528.15" x2="316.9" y2="528.15" stroke="#8E74B0" stroke-width="1.3"/>
<polygon points="291.31,528.15 294.35,525.25 297.4,528.15 294.35,531.05" fill="#7459A0" stroke="#664E8E" stroke-width="0.8"/>
<text x="0" y="531.35" class="rl rlb" transform="translate(321.3,0) scale(1.22,1)">9</text>
<line x1="271.8" y1="540.1" x2="316.9" y2="540.1" stroke="#7EC8DB" stroke-width="1.3"/>
<rect x="291.31" y="537.2" width="6.09" height="5.8" fill="#3BA6C2" stroke="#3399B4" stroke-width="0.6"/>
<text x="0" y="543.3" class="rl rlb" transform="translate(321.3,0) scale(1.22,1)">10</text>
<line x1="271.8" y1="552.05" x2="316.9" y2="552.05" stroke="#F4A060" stroke-width="1.3"/>
<polygon points="291.31,554.51 294.35,549.15 297.4,554.51" fill="#F38B36" stroke="#E88030" stroke-width="0.6"/>
<text x="0" y="555.25" class="rl rlb" transform="translate(321.3,0) scale(1.22,1)">11</text>
<line x1="271.8" y1="564" x2="316.9" y2="564" stroke="#DA8E8C" stroke-width="1.3"/>
<path d="M291.31 561.1L297.4 566.9M291.31 566.9L297.4 561.1M294.35 561.1L294.35 566.9" stroke="#D2807E" stroke-width="1.6" fill="none"/>
<text x="0" y="567.2" class="rl rlb" transform="translate(321.3,0) scale(1.22,1)">12</text>
<line x1="271.8" y1="575.95" x2="316.9" y2="575.95" stroke="#B5D08A" stroke-width="1.3"/>
<ellipse cx="294.35" cy="575.95" rx="3.04" ry="2.9" fill="#A7C772" stroke="#9CBC66" stroke-width="0.6"/>
<text x="0" y="579.15" class="rl rlb" transform="translate(321.3,0) scale(1.22,1)">13</text>
<line x1="271.8" y1="587.9" x2="316.9" y2="587.9" stroke="#B09DCC" stroke-width="1.3"/>
<path d="M291.31 587.9L297.4 587.9M294.35 585L294.35 590.8" stroke="#8A70B4" stroke-width="1.6" fill="none"/>
<text x="0" y="591.1" class="rl rlb" transform="translate(321.3,0) scale(1.22,1)">14</text>
<line x1="271.8" y1="599.85" x2="316.9" y2="599.85" stroke="#8ED0E0" stroke-width="1.3"/>
<rect x="291.31" y="598.98" width="6.09" height="1.74" fill="#4BACC6"/>
<text x="0" y="603.05" class="rl rlb" transform="translate(321.3,0) scale(1.22,1)">15</text>
<line x1="271.8" y1="611.8" x2="316.9" y2="611.8" stroke="#93B0DA" stroke-width="1.3"/>
<path d="M291.31 608.9L297.4 614.7M291.31 614.7L297.4 608.9" stroke="#7C9CD2" stroke-width="1.6" fill="none"/>
<text x="0" y="615" class="rl rlb" transform="translate(321.3,0) scale(1.22,1)">16</text>
<line x1="271.8" y1="623.75" x2="316.9" y2="623.75" stroke="#F9B586" stroke-width="1.3"/>
<rect x="291.31" y="622.88" width="6.09" height="1.74" fill="#F79646"/>
<text x="0" y="626.95" class="rl rlb" transform="translate(321.3,0) scale(1.22,1)">17</text>
<text x="112.6" y="675.6" class="cap">Monthly Rainfall (mm)</text>
<rect x="364" y="353.5" width="273.3" height="304.8" fill="#fff" stroke="#8a8a8a" stroke-width="1.6"/>
<line x1="402.1" y1="617.3" x2="615.5" y2="617.3" stroke="#929292" stroke-width="1.2"/>
<text x="0" y="0" class="tl2" text-anchor="end" transform="translate(394,622.5) scale(0.93,1)">20</text>
<line x1="402.1" y1="601.03" x2="615.5" y2="601.03" stroke="#929292" stroke-width="1.2"/>
<text x="0" y="0" class="tl2" text-anchor="end" transform="translate(394,606.23) scale(0.93,1)">21</text>
<line x1="402.1" y1="584.76" x2="615.5" y2="584.76" stroke="#929292" stroke-width="1.2"/>
<text x="0" y="0" class="tl2" text-anchor="end" transform="translate(394,589.96) scale(0.93,1)">22</text>
<line x1="402.1" y1="568.49" x2="615.5" y2="568.49" stroke="#929292" stroke-width="1.2"/>
<text x="0" y="0" class="tl2" text-anchor="end" transform="translate(394,573.69) scale(0.93,1)">23</text>
<line x1="402.1" y1="552.22" x2="615.5" y2="552.22" stroke="#929292" stroke-width="1.2"/>
<text x="0" y="0" class="tl2" text-anchor="end" transform="translate(394,557.42) scale(0.93,1)">24</text>
<line x1="402.1" y1="535.95" x2="615.5" y2="535.95" stroke="#929292" stroke-width="1.2"/>
<text x="0" y="0" class="tl2" text-anchor="end" transform="translate(394,541.15) scale(0.93,1)">25</text>
<line x1="402.1" y1="519.68" x2="615.5" y2="519.68" stroke="#929292" stroke-width="1.2"/>
<text x="0" y="0" class="tl2" text-anchor="end" transform="translate(394,524.88) scale(0.93,1)">26</text>
<line x1="402.1" y1="503.41" x2="615.5" y2="503.41" stroke="#929292" stroke-width="1.2"/>
<text x="0" y="0" class="tl2" text-anchor="end" transform="translate(394,508.61) scale(0.93,1)">27</text>
<line x1="402.1" y1="487.14" x2="615.5" y2="487.14" stroke="#929292" stroke-width="1.2"/>
<text x="0" y="0" class="tl2" text-anchor="end" transform="translate(394,492.34) scale(0.93,1)">28</text>
<line x1="402.1" y1="470.87" x2="615.5" y2="470.87" stroke="#929292" stroke-width="1.2"/>
<text x="0" y="0" class="tl2" text-anchor="end" transform="translate(394,476.07) scale(0.93,1)">29</text>
<line x1="402.1" y1="454.6" x2="615.5" y2="454.6" stroke="#929292" stroke-width="1.2"/>
<text x="0" y="0" class="tl2" text-anchor="end" transform="translate(394,459.8) scale(0.93,1)">30</text>
<line x1="402.1" y1="438.33" x2="615.5" y2="438.33" stroke="#929292" stroke-width="1.2"/>
<text x="0" y="0" class="tl2" text-anchor="end" transform="translate(394,443.53) scale(0.93,1)">31</text>
<line x1="402.1" y1="422.06" x2="615.5" y2="422.06" stroke="#929292" stroke-width="1.2"/>
<text x="0" y="0" class="tl2" text-anchor="end" transform="translate(394,427.26) scale(0.93,1)">32</text>
<line x1="402.1" y1="405.79" x2="615.5" y2="405.79" stroke="#929292" stroke-width="1.2"/>
<text x="0" y="0" class="tl2" text-anchor="end" transform="translate(394,410.99) scale(0.93,1)">33</text>
<line x1="402.1" y1="389.52" x2="615.5" y2="389.52" stroke="#929292" stroke-width="1.2"/>
<text x="0" y="0" class="tl2" text-anchor="end" transform="translate(394,394.72) scale(0.93,1)">34</text>
<line x1="402.1" y1="373.25" x2="615.5" y2="373.25" stroke="#929292" stroke-width="1.2"/>
<text x="0" y="0" class="tl2" text-anchor="end" transform="translate(394,378.45) scale(0.93,1)">35</text>
<line x1="407.3" y1="373.25" x2="407.3" y2="621.3" stroke="#929292" stroke-width="1.2"/>
<line x1="424.65" y1="617.3" x2="424.65" y2="621.3" stroke="#929292" stroke-width="1.2"/>
<line x1="442" y1="617.3" x2="442" y2="621.3" stroke="#929292" stroke-width="1.2"/>
<line x1="459.35" y1="617.3" x2="459.35" y2="621.3" stroke="#929292" stroke-width="1.2"/>
<line x1="476.7" y1="617.3" x2="476.7" y2="621.3" stroke="#929292" stroke-width="1.2"/>
<line x1="494.05" y1="617.3" x2="494.05" y2="621.3" stroke="#929292" stroke-width="1.2"/>
<line x1="511.4" y1="617.3" x2="511.4" y2="621.3" stroke="#929292" stroke-width="1.2"/>
<line x1="528.75" y1="617.3" x2="528.75" y2="621.3" stroke="#929292" stroke-width="1.2"/>
<line x1="546.1" y1="617.3" x2="546.1" y2="621.3" stroke="#929292" stroke-width="1.2"/>
<line x1="563.45" y1="617.3" x2="563.45" y2="621.3" stroke="#929292" stroke-width="1.2"/>
<line x1="580.8" y1="617.3" x2="580.8" y2="621.3" stroke="#929292" stroke-width="1.2"/>
<line x1="598.15" y1="617.3" x2="598.15" y2="621.3" stroke="#929292" stroke-width="1.2"/>
<line x1="615.5" y1="617.3" x2="615.5" y2="621.3" stroke="#929292" stroke-width="1.2"/>
<text class="tm2" transform="translate(421.18,625.4) rotate(-90) scale(1,1)" text-anchor="end">Jan</text>
<text class="tm2" transform="translate(438.52,625.4) rotate(-90) scale(1,1)" text-anchor="end">Feb</text>
<text class="tm2" transform="translate(455.88,625.4) rotate(-90) scale(1,1)" text-anchor="end">Mar</text>
<text class="tm2" transform="translate(473.22,625.4) rotate(-90) scale(1,1)" text-anchor="end">Apr</text>
<text class="tm2" transform="translate(490.57,625.4) rotate(-90) scale(1,1)" text-anchor="end">May</text>
<text class="tm2" transform="translate(507.93,625.4) rotate(-90) scale(1,1)" text-anchor="end">Jun</text>
<text class="tm2" transform="translate(525.28,625.4) rotate(-90) scale(1,1)" text-anchor="end">Jul</text>
<text class="tm2" transform="translate(542.62,625.4) rotate(-90) scale(1,1)" text-anchor="end">Aug</text>
<text class="tm2" transform="translate(559.98,625.4) rotate(-90) scale(1,1)" text-anchor="end">Sep</text>
<text class="tm2" transform="translate(577.33,625.4) rotate(-90) scale(1,1)" text-anchor="end">Oct</text>
<text class="tm2" transform="translate(594.68,625.4) rotate(-90) scale(1,1)" text-anchor="end">Nov</text>
<text class="tm2" transform="translate(612.03,625.4) rotate(-90) scale(1,1)" text-anchor="end">Dec</text>
<polyline points="415.98,560.35 433.32,565.24 450.68,561.17 468.02,556.29 485.38,557.91 502.73,571.74 520.08,579.88 537.42,574.18 554.77,562.8 572.12,553.85 589.48,552.22 606.83,557.91" fill="none" stroke="#000000" stroke-width="4" stroke-linejoin="round"/>
<polygon points="408.78,560.35 415.98,553.15 423.18,560.35 415.98,567.55" fill="#3D69A5" stroke="#335E98" stroke-width="0.8"/>
<polygon points="426.12,565.24 433.32,558.04 440.52,565.24 433.32,572.44" fill="#3D69A5" stroke="#335E98" stroke-width="0.8"/>
<polygon points="443.48,561.17 450.68,553.97 457.88,561.17 450.68,568.37" fill="#3D69A5" stroke="#335E98" stroke-width="0.8"/>
<polygon points="460.82,556.29 468.02,549.09 475.22,556.29 468.02,563.49" fill="#3D69A5" stroke="#335E98" stroke-width="0.8"/>
<polygon points="478.18,557.91 485.38,550.71 492.57,557.91 485.38,565.11" fill="#3D69A5" stroke="#335E98" stroke-width="0.8"/>
<polygon points="495.53,571.74 502.73,564.54 509.93,571.74 502.73,578.94" fill="#3D69A5" stroke="#335E98" stroke-width="0.8"/>
<polygon points="512.88,579.88 520.08,572.68 527.28,579.88 520.08,587.08" fill="#3D69A5" stroke="#335E98" stroke-width="0.8"/>
<polygon points="530.22,574.18 537.42,566.98 544.62,574.18 537.42,581.38" fill="#3D69A5" stroke="#335E98" stroke-width="0.8"/>
<polygon points="547.57,562.8 554.77,555.6 561.98,562.8 554.77,570" fill="#3D69A5" stroke="#335E98" stroke-width="0.8"/>
<polygon points="564.92,553.85 572.12,546.65 579.33,553.85 572.12,561.05" fill="#3D69A5" stroke="#335E98" stroke-width="0.8"/>
<polygon points="582.27,552.22 589.48,545.02 596.68,552.22 589.48,559.42" fill="#3D69A5" stroke="#335E98" stroke-width="0.8"/>
<polygon points="599.62,557.91 606.83,550.71 614.03,557.91 606.83,565.11" fill="#3D69A5" stroke="#335E98" stroke-width="0.8"/>
<polyline points="415.98,483.07 433.32,485.02 450.68,483.07 468.02,477.38 485.38,479 502.73,487.14 520.08,496.09 537.42,509.92 554.77,516.43 572.12,508.29 589.48,495.27 606.83,485.51" fill="none" stroke="#C86966" stroke-width="1.6" stroke-linejoin="round"/>
<rect x="412.08" y="479.17" width="7.8" height="7.8" fill="#9B3B38" stroke="#8C3330" stroke-width="0.6"/>
<rect x="429.43" y="481.12" width="7.8" height="7.8" fill="#9B3B38" stroke="#8C3330" stroke-width="0.6"/>
<rect x="446.78" y="479.17" width="7.8" height="7.8" fill="#9B3B38" stroke="#8C3330" stroke-width="0.6"/>
<rect x="464.12" y="473.48" width="7.8" height="7.8" fill="#9B3B38" stroke="#8C3330" stroke-width="0.6"/>
<rect x="481.48" y="475.11" width="7.8" height="7.8" fill="#9B3B38" stroke="#8C3330" stroke-width="0.6"/>
<rect x="498.83" y="483.24" width="7.8" height="7.8" fill="#9B3B38" stroke="#8C3330" stroke-width="0.6"/>
<rect x="516.18" y="492.19" width="7.8" height="7.8" fill="#9B3B38" stroke="#8C3330" stroke-width="0.6"/>
<rect x="533.52" y="506.02" width="7.8" height="7.8" fill="#9B3B38" stroke="#8C3330" stroke-width="0.6"/>
<rect x="550.88" y="512.53" width="7.8" height="7.8" fill="#9B3B38" stroke="#8C3330" stroke-width="0.6"/>
<rect x="568.23" y="504.39" width="7.8" height="7.8" fill="#9B3B38" stroke="#8C3330" stroke-width="0.6"/>
<rect x="585.58" y="491.38" width="7.8" height="7.8" fill="#9B3B38" stroke="#8C3330" stroke-width="0.6"/>
<rect x="602.93" y="481.61" width="7.8" height="7.8" fill="#9B3B38" stroke="#8C3330" stroke-width="0.6"/>
<polyline points="415.98,526.19 433.32,529.44 450.68,527.81 468.02,526.19 485.38,527.81 502.73,527.81 520.08,537.58 537.42,542.46 554.77,540.83 572.12,534.32 589.48,527.81 606.83,521.31" fill="none" stroke="#8FB04F" stroke-width="1.6" stroke-linejoin="round"/>
<polygon points="412.08,529.5 415.98,522.29 419.88,529.5" fill="#77933C" stroke="#6B8636" stroke-width="0.6"/>
<polygon points="429.43,532.76 433.32,525.54 437.22,532.76" fill="#77933C" stroke="#6B8636" stroke-width="0.6"/>
<polygon points="446.78,531.13 450.68,523.91 454.57,531.13" fill="#77933C" stroke="#6B8636" stroke-width="0.6"/>
<polygon points="464.12,529.5 468.02,522.29 471.92,529.5" fill="#77933C" stroke="#6B8636" stroke-width="0.6"/>
<polygon points="481.48,531.13 485.38,523.91 489.27,531.13" fill="#77933C" stroke="#6B8636" stroke-width="0.6"/>
<polygon points="498.83,531.13 502.73,523.91 506.62,531.13" fill="#77933C" stroke="#6B8636" stroke-width="0.6"/>
<polygon points="516.18,540.89 520.08,533.68 523.98,540.89" fill="#77933C" stroke="#6B8636" stroke-width="0.6"/>
<polygon points="533.52,545.77 537.42,538.56 541.32,545.77" fill="#77933C" stroke="#6B8636" stroke-width="0.6"/>
<polygon points="550.88,544.15 554.77,536.93 558.67,544.15" fill="#77933C" stroke="#6B8636" stroke-width="0.6"/>
<polygon points="568.23,537.64 572.12,530.42 576.02,537.64" fill="#77933C" stroke="#6B8636" stroke-width="0.6"/>
<polygon points="585.58,531.13 589.48,523.91 593.38,531.13" fill="#77933C" stroke="#6B8636" stroke-width="0.6"/>
<polygon points="602.93,524.62 606.83,517.41 610.73,524.62" fill="#77933C" stroke="#6B8636" stroke-width="0.6"/>
<polyline points="415.98,539.2 433.32,542.46 450.68,540.83 468.02,537.58 485.38,537.58 502.73,540.83 520.08,545.71 537.42,547.34 554.77,544.08 572.12,542.46 589.48,537.58 606.83,535.95" fill="none" stroke="#5F4A85" stroke-width="2.4" stroke-linejoin="round"/>
<path d="M412.08 535.3L419.88 543.1M412.08 543.1L419.88 535.3" stroke="#5F4A85" stroke-width="1.6" fill="none"/>
<path d="M429.43 538.56L437.22 546.36M429.43 546.36L437.22 538.56" stroke="#5F4A85" stroke-width="1.6" fill="none"/>
<path d="M446.78 536.93L454.57 544.73M446.78 544.73L454.57 536.93" stroke="#5F4A85" stroke-width="1.6" fill="none"/>
<path d="M464.12 533.68L471.92 541.48M464.12 541.48L471.92 533.68" stroke="#5F4A85" stroke-width="1.6" fill="none"/>
<path d="M481.48 533.68L489.27 541.48M481.48 541.48L489.27 533.68" stroke="#5F4A85" stroke-width="1.6" fill="none"/>
<path d="M498.83 536.93L506.62 544.73M498.83 544.73L506.62 536.93" stroke="#5F4A85" stroke-width="1.6" fill="none"/>
<path d="M516.18 541.81L523.98 549.61M516.18 549.61L523.98 541.81" stroke="#5F4A85" stroke-width="1.6" fill="none"/>
<path d="M533.52 543.44L541.32 551.24M533.52 551.24L541.32 543.44" stroke="#5F4A85" stroke-width="1.6" fill="none"/>
<path d="M550.88 540.18L558.67 547.98M550.88 547.98L558.67 540.18" stroke="#5F4A85" stroke-width="1.6" fill="none"/>
<path d="M568.23 538.56L576.02 546.36M568.23 546.36L576.02 538.56" stroke="#5F4A85" stroke-width="1.6" fill="none"/>
<path d="M585.58 533.68L593.38 541.48M585.58 541.48L593.38 533.68" stroke="#5F4A85" stroke-width="1.6" fill="none"/>
<path d="M602.93 532.05L610.73 539.85M602.93 539.85L610.73 532.05" stroke="#5F4A85" stroke-width="1.6" fill="none"/>
<polyline points="415.98,520.49 433.32,527.81 450.68,518.05 468.02,506.66 485.38,505.04 502.73,513.17 520.08,522.12 537.42,518.87 554.77,511.54 572.12,502.92 589.48,501.29 606.83,513.17" fill="none" stroke="#4BA3BD" stroke-width="1.6" stroke-linejoin="round"/>
<path d="M412.08 516.59L419.88 524.39M412.08 524.39L419.88 516.59M415.98 516.59L415.98 524.39" stroke="#31859C" stroke-width="1.6" fill="none"/>
<path d="M429.43 523.91L437.22 531.71M429.43 531.71L437.22 523.91M433.32 523.91L433.32 531.71" stroke="#31859C" stroke-width="1.6" fill="none"/>
<path d="M446.78 514.15L454.57 521.95M446.78 521.95L454.57 514.15M450.68 514.15L450.68 521.95" stroke="#31859C" stroke-width="1.6" fill="none"/>
<path d="M464.12 502.76L471.92 510.56M464.12 510.56L471.92 502.76M468.02 502.76L468.02 510.56" stroke="#31859C" stroke-width="1.6" fill="none"/>
<path d="M481.48 501.14L489.27 508.94M481.48 508.94L489.27 501.14M485.38 501.14L485.38 508.94" stroke="#31859C" stroke-width="1.6" fill="none"/>
<path d="M498.83 509.27L506.62 517.07M498.83 517.07L506.62 509.27M502.73 509.27L502.73 517.07" stroke="#31859C" stroke-width="1.6" fill="none"/>
<path d="M516.18 518.22L523.98 526.02M516.18 526.02L523.98 518.22M520.08 518.22L520.08 526.02" stroke="#31859C" stroke-width="1.6" fill="none"/>
<path d="M533.52 514.97L541.32 522.77M533.52 522.77L541.32 514.97M537.42 514.97L537.42 522.77" stroke="#31859C" stroke-width="1.6" fill="none"/>
<path d="M550.88 507.64L558.67 515.44M550.88 515.44L558.67 507.64M554.77 507.64L554.77 515.44" stroke="#31859C" stroke-width="1.6" fill="none"/>
<path d="M568.23 499.02L576.02 506.82M568.23 506.82L576.02 499.02M572.12 499.02L572.12 506.82" stroke="#31859C" stroke-width="1.6" fill="none"/>
<path d="M585.58 497.39L593.38 505.19M585.58 505.19L593.38 497.39M589.48 497.39L589.48 505.19" stroke="#31859C" stroke-width="1.6" fill="none"/>
<path d="M602.93 509.27L610.73 517.07M602.93 517.07L610.73 509.27M606.83 509.27L606.83 517.07" stroke="#31859C" stroke-width="1.6" fill="none"/>
<polyline points="415.98,509.92 433.32,513.17 450.68,513.17 468.02,509.92 485.38,509.92 502.73,512.36 520.08,516.75 537.42,520.66 554.77,520.33 572.12,515.12 589.48,508.94 606.83,507.15" fill="none" stroke="#EE9A57" stroke-width="1.6" stroke-linejoin="round"/>
<ellipse cx="415.98" cy="509.92" rx="3.9" ry="3.9" fill="#D2772E" stroke="#C46E29" stroke-width="0.6"/>
<ellipse cx="433.32" cy="513.17" rx="3.9" ry="3.9" fill="#D2772E" stroke="#C46E29" stroke-width="0.6"/>
<ellipse cx="450.68" cy="513.17" rx="3.9" ry="3.9" fill="#D2772E" stroke="#C46E29" stroke-width="0.6"/>
<ellipse cx="468.02" cy="509.92" rx="3.9" ry="3.9" fill="#D2772E" stroke="#C46E29" stroke-width="0.6"/>
<ellipse cx="485.38" cy="509.92" rx="3.9" ry="3.9" fill="#D2772E" stroke="#C46E29" stroke-width="0.6"/>
<ellipse cx="502.73" cy="512.36" rx="3.9" ry="3.9" fill="#D2772E" stroke="#C46E29" stroke-width="0.6"/>
<ellipse cx="520.08" cy="516.75" rx="3.9" ry="3.9" fill="#D2772E" stroke="#C46E29" stroke-width="0.6"/>
<ellipse cx="537.42" cy="520.66" rx="3.9" ry="3.9" fill="#D2772E" stroke="#C46E29" stroke-width="0.6"/>
<ellipse cx="554.77" cy="520.33" rx="3.9" ry="3.9" fill="#D2772E" stroke="#C46E29" stroke-width="0.6"/>
<ellipse cx="572.12" cy="515.12" rx="3.9" ry="3.9" fill="#D2772E" stroke="#C46E29" stroke-width="0.6"/>
<ellipse cx="589.48" cy="508.94" rx="3.9" ry="3.9" fill="#D2772E" stroke="#C46E29" stroke-width="0.6"/>
<ellipse cx="606.83" cy="507.15" rx="3.9" ry="3.9" fill="#D2772E" stroke="#C46E29" stroke-width="0.6"/>
<polyline points="415.98,537.58 433.32,539.2 450.68,537.58 468.02,535.95 485.38,535.95 502.73,539.2 520.08,544.08 537.42,545.71 554.77,542.46 572.12,537.58 589.48,531.07 606.83,531.07" fill="none" stroke="#8EADD6" stroke-width="1.6" stroke-linejoin="round"/>
<path d="M412.08 537.58L419.88 537.58M415.98 533.68L415.98 541.48" stroke="#4A7BBA" stroke-width="1.6" fill="none"/>
<path d="M429.43 539.2L437.22 539.2M433.32 535.3L433.32 543.1" stroke="#4A7BBA" stroke-width="1.6" fill="none"/>
<path d="M446.78 537.58L454.57 537.58M450.68 533.68L450.68 541.48" stroke="#4A7BBA" stroke-width="1.6" fill="none"/>
<path d="M464.12 535.95L471.92 535.95M468.02 532.05L468.02 539.85" stroke="#4A7BBA" stroke-width="1.6" fill="none"/>
<path d="M481.48 535.95L489.27 535.95M485.38 532.05L485.38 539.85" stroke="#4A7BBA" stroke-width="1.6" fill="none"/>
<path d="M498.83 539.2L506.62 539.2M502.73 535.3L502.73 543.1" stroke="#4A7BBA" stroke-width="1.6" fill="none"/>
<path d="M516.18 544.08L523.98 544.08M520.08 540.18L520.08 547.98" stroke="#4A7BBA" stroke-width="1.6" fill="none"/>
<path d="M533.52 545.71L541.32 545.71M537.42 541.81L537.42 549.61" stroke="#4A7BBA" stroke-width="1.6" fill="none"/>
<path d="M550.88 542.46L558.67 542.46M554.77 538.56L554.77 546.36" stroke="#4A7BBA" stroke-width="1.6" fill="none"/>
<path d="M568.23 537.58L576.02 537.58M572.12 533.68L572.12 541.48" stroke="#4A7BBA" stroke-width="1.6" fill="none"/>
<path d="M585.58 531.07L593.38 531.07M589.48 527.17L589.48 534.97" stroke="#4A7BBA" stroke-width="1.6" fill="none"/>
<path d="M602.93 531.07L610.73 531.07M606.83 527.17L606.83 534.97" stroke="#4A7BBA" stroke-width="1.6" fill="none"/>
<polyline points="415.98,522.93 433.32,527.81 450.68,522.93 468.02,521.31 485.38,524.56 502.73,531.07 520.08,539.2 537.42,542.46 554.77,532.7 572.12,519.68 589.48,517.24 606.83,526.19" fill="none" stroke="#D98C8A" stroke-width="1.6" stroke-linejoin="round"/>
<rect x="412.08" y="521.76" width="7.8" height="2.34" fill="#C0504D"/>
<rect x="429.43" y="526.64" width="7.8" height="2.34" fill="#C0504D"/>
<rect x="446.78" y="521.76" width="7.8" height="2.34" fill="#C0504D"/>
<rect x="464.12" y="520.14" width="7.8" height="2.34" fill="#C0504D"/>
<rect x="481.48" y="523.39" width="7.8" height="2.34" fill="#C0504D"/>
<rect x="498.83" y="529.9" width="7.8" height="2.34" fill="#C0504D"/>
<rect x="516.18" y="538.03" width="7.8" height="2.34" fill="#C0504D"/>
<rect x="533.52" y="541.29" width="7.8" height="2.34" fill="#C0504D"/>
<rect x="550.88" y="531.53" width="7.8" height="2.34" fill="#C0504D"/>
<rect x="568.23" y="518.51" width="7.8" height="2.34" fill="#C0504D"/>
<rect x="585.58" y="516.07" width="7.8" height="2.34" fill="#C0504D"/>
<rect x="602.93" y="525.02" width="7.8" height="2.34" fill="#C0504D"/>
<polyline points="415.98,524.56 433.32,527.81 450.68,526.19 468.02,524.56 485.38,526.19 502.73,531.07 520.08,537.58 537.42,540.83 554.77,537.58 572.12,531.07 589.48,524.56 606.83,521.31" fill="none" stroke="#A9C66E" stroke-width="1.6" stroke-linejoin="round"/>
<rect x="412.08" y="523.39" width="7.8" height="2.34" fill="#8EB04D"/>
<rect x="429.43" y="526.64" width="7.8" height="2.34" fill="#8EB04D"/>
<rect x="446.78" y="525.02" width="7.8" height="2.34" fill="#8EB04D"/>
<rect x="464.12" y="523.39" width="7.8" height="2.34" fill="#8EB04D"/>
<rect x="481.48" y="525.02" width="7.8" height="2.34" fill="#8EB04D"/>
<rect x="498.83" y="529.9" width="7.8" height="2.34" fill="#8EB04D"/>
<rect x="516.18" y="536.41" width="7.8" height="2.34" fill="#8EB04D"/>
<rect x="533.52" y="539.66" width="7.8" height="2.34" fill="#8EB04D"/>
<rect x="550.88" y="536.41" width="7.8" height="2.34" fill="#8EB04D"/>
<rect x="568.23" y="529.9" width="7.8" height="2.34" fill="#8EB04D"/>
<rect x="585.58" y="523.39" width="7.8" height="2.34" fill="#8EB04D"/>
<rect x="602.93" y="520.14" width="7.8" height="2.34" fill="#8EB04D"/>
<polyline points="415.98,535.95 433.32,537.58 450.68,535.95 468.02,532.7 485.38,532.7 502.73,537.58 520.08,544.08 537.42,545.71 554.77,542.46 572.12,537.58 589.48,532.7 606.83,535.95" fill="none" stroke="#8E74B0" stroke-width="1.6" stroke-linejoin="round"/>
<polygon points="412.08,535.95 415.98,532.05 419.88,535.95 415.98,539.85" fill="#7459A0" stroke="#664E8E" stroke-width="0.8"/>
<polygon points="429.43,537.58 433.32,533.68 437.22,537.58 433.32,541.48" fill="#7459A0" stroke="#664E8E" stroke-width="0.8"/>
<polygon points="446.78,535.95 450.68,532.05 454.57,535.95 450.68,539.85" fill="#7459A0" stroke="#664E8E" stroke-width="0.8"/>
<polygon points="464.12,532.7 468.02,528.8 471.92,532.7 468.02,536.6" fill="#7459A0" stroke="#664E8E" stroke-width="0.8"/>
<polygon points="481.48,532.7 485.38,528.8 489.27,532.7 485.38,536.6" fill="#7459A0" stroke="#664E8E" stroke-width="0.8"/>
<polygon points="498.83,537.58 502.73,533.68 506.62,537.58 502.73,541.48" fill="#7459A0" stroke="#664E8E" stroke-width="0.8"/>
<polygon points="516.18,544.08 520.08,540.18 523.98,544.08 520.08,547.98" fill="#7459A0" stroke="#664E8E" stroke-width="0.8"/>
<polygon points="533.52,545.71 537.42,541.81 541.32,545.71 537.42,549.61" fill="#7459A0" stroke="#664E8E" stroke-width="0.8"/>
<polygon points="550.88,542.46 554.77,538.56 558.67,542.46 554.77,546.36" fill="#7459A0" stroke="#664E8E" stroke-width="0.8"/>
<polygon points="568.23,537.58 572.12,533.68 576.02,537.58 572.12,541.48" fill="#7459A0" stroke="#664E8E" stroke-width="0.8"/>
<polygon points="585.58,532.7 589.48,528.8 593.38,532.7 589.48,536.6" fill="#7459A0" stroke="#664E8E" stroke-width="0.8"/>
<polygon points="602.93,535.95 606.83,532.05 610.73,535.95 606.83,539.85" fill="#7459A0" stroke="#664E8E" stroke-width="0.8"/>
<polyline points="415.98,529.12 433.32,527.16 450.68,526.19 468.02,524.56 485.38,529.44 502.73,537.58 520.08,550.27 537.42,550.59 554.77,552.87 572.12,546.85 589.48,539.2 606.83,532.7" fill="none" stroke="#7EC8DB" stroke-width="1.6" stroke-linejoin="round"/>
<rect x="412.08" y="525.22" width="7.8" height="7.8" fill="#3BA6C2" stroke="#3399B4" stroke-width="0.6"/>
<rect x="429.43" y="523.26" width="7.8" height="7.8" fill="#3BA6C2" stroke="#3399B4" stroke-width="0.6"/>
<rect x="446.78" y="522.29" width="7.8" height="7.8" fill="#3BA6C2" stroke="#3399B4" stroke-width="0.6"/>
<rect x="464.12" y="520.66" width="7.8" height="7.8" fill="#3BA6C2" stroke="#3399B4" stroke-width="0.6"/>
<rect x="481.48" y="525.54" width="7.8" height="7.8" fill="#3BA6C2" stroke="#3399B4" stroke-width="0.6"/>
<rect x="498.83" y="533.68" width="7.8" height="7.8" fill="#3BA6C2" stroke="#3399B4" stroke-width="0.6"/>
<rect x="516.18" y="546.37" width="7.8" height="7.8" fill="#3BA6C2" stroke="#3399B4" stroke-width="0.6"/>
<rect x="533.52" y="546.69" width="7.8" height="7.8" fill="#3BA6C2" stroke="#3399B4" stroke-width="0.6"/>
<rect x="550.88" y="548.97" width="7.8" height="7.8" fill="#3BA6C2" stroke="#3399B4" stroke-width="0.6"/>
<rect x="568.23" y="542.95" width="7.8" height="7.8" fill="#3BA6C2" stroke="#3399B4" stroke-width="0.6"/>
<rect x="585.58" y="535.3" width="7.8" height="7.8" fill="#3BA6C2" stroke="#3399B4" stroke-width="0.6"/>
<rect x="602.93" y="528.8" width="7.8" height="7.8" fill="#3BA6C2" stroke="#3399B4" stroke-width="0.6"/>
<polyline points="415.98,534.32 433.32,531.07 450.68,532.7 468.02,531.07 485.38,535.95 502.73,540.83 520.08,547.83 537.42,555.47 554.77,557.1 572.12,551.08 589.48,545.22 606.83,538.39" fill="none" stroke="#F4A060" stroke-width="1.6" stroke-linejoin="round"/>
<polygon points="412.08,537.64 415.98,530.42 419.88,537.64" fill="#F38B36" stroke="#E88030" stroke-width="0.6"/>
<polygon points="429.43,534.38 433.32,527.17 437.22,534.38" fill="#F38B36" stroke="#E88030" stroke-width="0.6"/>
<polygon points="446.78,536.01 450.68,528.8 454.57,536.01" fill="#F38B36" stroke="#E88030" stroke-width="0.6"/>
<polygon points="464.12,534.38 468.02,527.17 471.92,534.38" fill="#F38B36" stroke="#E88030" stroke-width="0.6"/>
<polygon points="481.48,539.26 485.38,532.05 489.27,539.26" fill="#F38B36" stroke="#E88030" stroke-width="0.6"/>
<polygon points="498.83,544.15 502.73,536.93 506.62,544.15" fill="#F38B36" stroke="#E88030" stroke-width="0.6"/>
<polygon points="516.18,551.14 520.08,543.93 523.98,551.14" fill="#F38B36" stroke="#E88030" stroke-width="0.6"/>
<polygon points="533.52,558.79 537.42,551.57 541.32,558.79" fill="#F38B36" stroke="#E88030" stroke-width="0.6"/>
<polygon points="550.88,560.42 554.77,553.2 558.67,560.42" fill="#F38B36" stroke="#E88030" stroke-width="0.6"/>
<polygon points="568.23,554.4 572.12,547.18 576.02,554.4" fill="#F38B36" stroke="#E88030" stroke-width="0.6"/>
<polygon points="585.58,548.54 589.48,541.32 593.38,548.54" fill="#F38B36" stroke="#E88030" stroke-width="0.6"/>
<polygon points="602.93,541.71 606.83,534.49 610.73,541.71" fill="#F38B36" stroke="#E88030" stroke-width="0.6"/>
<polyline points="415.98,500.64 433.32,507.8 450.68,505.04 468.02,501.78 485.38,499.34 502.73,503.41 520.08,509.43 537.42,508.29 554.77,501.29 572.12,490.39 589.48,485.19 606.83,488.77" fill="none" stroke="#DA8E8C" stroke-width="1.6" stroke-linejoin="round"/>
<path d="M412.08 496.74L419.88 504.54M412.08 504.54L419.88 496.74M415.98 496.74L415.98 504.54" stroke="#D2807E" stroke-width="1.6" fill="none"/>
<path d="M429.43 503.9L437.22 511.7M429.43 511.7L437.22 503.9M433.32 503.9L433.32 511.7" stroke="#D2807E" stroke-width="1.6" fill="none"/>
<path d="M446.78 501.14L454.57 508.94M446.78 508.94L454.57 501.14M450.68 501.14L450.68 508.94" stroke="#D2807E" stroke-width="1.6" fill="none"/>
<path d="M464.12 497.88L471.92 505.68M464.12 505.68L471.92 497.88M468.02 497.88L468.02 505.68" stroke="#D2807E" stroke-width="1.6" fill="none"/>
<path d="M481.48 495.44L489.27 503.24M481.48 503.24L489.27 495.44M485.38 495.44L485.38 503.24" stroke="#D2807E" stroke-width="1.6" fill="none"/>
<path d="M498.83 499.51L506.62 507.31M498.83 507.31L506.62 499.51M502.73 499.51L502.73 507.31" stroke="#D2807E" stroke-width="1.6" fill="none"/>
<path d="M516.18 505.53L523.98 513.33M516.18 513.33L523.98 505.53M520.08 505.53L520.08 513.33" stroke="#D2807E" stroke-width="1.6" fill="none"/>
<path d="M533.52 504.39L541.32 512.19M533.52 512.19L541.32 504.39M537.42 504.39L537.42 512.19" stroke="#D2807E" stroke-width="1.6" fill="none"/>
<path d="M550.88 497.39L558.67 505.19M550.88 505.19L558.67 497.39M554.77 497.39L554.77 505.19" stroke="#D2807E" stroke-width="1.6" fill="none"/>
<path d="M568.23 486.49L576.02 494.29M568.23 494.29L576.02 486.49M572.12 486.49L572.12 494.29" stroke="#D2807E" stroke-width="1.6" fill="none"/>
<path d="M585.58 481.29L593.38 489.09M585.58 489.09L593.38 481.29M589.48 481.29L589.48 489.09" stroke="#D2807E" stroke-width="1.6" fill="none"/>
<path d="M602.93 484.87L610.73 492.67M602.93 492.67L610.73 484.87M606.83 484.87L606.83 492.67" stroke="#D2807E" stroke-width="1.6" fill="none"/>
<polyline points="415.98,567.35 433.32,563.93 450.68,559.87 468.02,555.47 485.38,557.1 502.73,566.86 520.08,577.28 537.42,582.32 554.77,579.88 572.12,578.25 589.48,575 606.83,571.74" fill="none" stroke="#B5D08A" stroke-width="1.6" stroke-linejoin="round"/>
<ellipse cx="415.98" cy="567.35" rx="3.9" ry="3.9" fill="#A7C772" stroke="#9CBC66" stroke-width="0.6"/>
<ellipse cx="433.32" cy="563.93" rx="3.9" ry="3.9" fill="#A7C772" stroke="#9CBC66" stroke-width="0.6"/>
<ellipse cx="450.68" cy="559.87" rx="3.9" ry="3.9" fill="#A7C772" stroke="#9CBC66" stroke-width="0.6"/>
<ellipse cx="468.02" cy="555.47" rx="3.9" ry="3.9" fill="#A7C772" stroke="#9CBC66" stroke-width="0.6"/>
<ellipse cx="485.38" cy="557.1" rx="3.9" ry="3.9" fill="#A7C772" stroke="#9CBC66" stroke-width="0.6"/>
<ellipse cx="502.73" cy="566.86" rx="3.9" ry="3.9" fill="#A7C772" stroke="#9CBC66" stroke-width="0.6"/>
<ellipse cx="520.08" cy="577.28" rx="3.9" ry="3.9" fill="#A7C772" stroke="#9CBC66" stroke-width="0.6"/>
<ellipse cx="537.42" cy="582.32" rx="3.9" ry="3.9" fill="#A7C772" stroke="#9CBC66" stroke-width="0.6"/>
<ellipse cx="554.77" cy="579.88" rx="3.9" ry="3.9" fill="#A7C772" stroke="#9CBC66" stroke-width="0.6"/>
<ellipse cx="572.12" cy="578.25" rx="3.9" ry="3.9" fill="#A7C772" stroke="#9CBC66" stroke-width="0.6"/>
<ellipse cx="589.48" cy="575" rx="3.9" ry="3.9" fill="#A7C772" stroke="#9CBC66" stroke-width="0.6"/>
<ellipse cx="606.83" cy="571.74" rx="3.9" ry="3.9" fill="#A7C772" stroke="#9CBC66" stroke-width="0.6"/>
<polyline points="415.98,542.46 433.32,544.08 450.68,540.83 468.02,537.58 485.38,537.58 502.73,540.83 520.08,534.32 537.42,534.32 554.77,532.05 572.12,531.07 589.48,531.07 606.83,532.7" fill="none" stroke="#B09DCC" stroke-width="1.6" stroke-linejoin="round"/>
<path d="M412.08 542.46L419.88 542.46M415.98 538.56L415.98 546.36" stroke="#8A70B4" stroke-width="1.6" fill="none"/>
<path d="M429.43 544.08L437.22 544.08M433.32 540.18L433.32 547.98" stroke="#8A70B4" stroke-width="1.6" fill="none"/>
<path d="M446.78 540.83L454.57 540.83M450.68 536.93L450.68 544.73" stroke="#8A70B4" stroke-width="1.6" fill="none"/>
<path d="M464.12 537.58L471.92 537.58M468.02 533.68L468.02 541.48" stroke="#8A70B4" stroke-width="1.6" fill="none"/>
<path d="M481.48 537.58L489.27 537.58M485.38 533.68L485.38 541.48" stroke="#8A70B4" stroke-width="1.6" fill="none"/>
<path d="M498.83 540.83L506.62 540.83M502.73 536.93L502.73 544.73" stroke="#8A70B4" stroke-width="1.6" fill="none"/>
<path d="M516.18 534.32L523.98 534.32M520.08 530.42L520.08 538.22" stroke="#8A70B4" stroke-width="1.6" fill="none"/>
<path d="M533.52 534.32L541.32 534.32M537.42 530.42L537.42 538.22" stroke="#8A70B4" stroke-width="1.6" fill="none"/>
<path d="M550.88 532.05L558.67 532.05M554.77 528.15L554.77 535.95" stroke="#8A70B4" stroke-width="1.6" fill="none"/>
<path d="M568.23 531.07L576.02 531.07M572.12 527.17L572.12 534.97" stroke="#8A70B4" stroke-width="1.6" fill="none"/>
<path d="M585.58 531.07L593.38 531.07M589.48 527.17L589.48 534.97" stroke="#8A70B4" stroke-width="1.6" fill="none"/>
<path d="M602.93 532.7L610.73 532.7M606.83 528.8L606.83 536.6" stroke="#8A70B4" stroke-width="1.6" fill="none"/>
<polyline points="415.98,532.7 433.32,535.95 450.68,534.32 468.02,532.7 485.38,534.32 502.73,539.2 520.08,545.71 537.42,547.34 554.77,544.08 572.12,539.2 589.48,534.32 606.83,534.32" fill="none" stroke="#8ED0E0" stroke-width="1.6" stroke-linejoin="round"/>
<rect x="412.08" y="531.53" width="7.8" height="2.34" fill="#4BACC6"/>
<rect x="429.43" y="534.78" width="7.8" height="2.34" fill="#4BACC6"/>
<rect x="446.78" y="533.15" width="7.8" height="2.34" fill="#4BACC6"/>
<rect x="464.12" y="531.53" width="7.8" height="2.34" fill="#4BACC6"/>
<rect x="481.48" y="533.15" width="7.8" height="2.34" fill="#4BACC6"/>
<rect x="498.83" y="538.03" width="7.8" height="2.34" fill="#4BACC6"/>
<rect x="516.18" y="544.54" width="7.8" height="2.34" fill="#4BACC6"/>
<rect x="533.52" y="546.17" width="7.8" height="2.34" fill="#4BACC6"/>
<rect x="550.88" y="542.91" width="7.8" height="2.34" fill="#4BACC6"/>
<rect x="568.23" y="538.03" width="7.8" height="2.34" fill="#4BACC6"/>
<rect x="585.58" y="533.15" width="7.8" height="2.34" fill="#4BACC6"/>
<rect x="602.93" y="533.15" width="7.8" height="2.34" fill="#4BACC6"/>
<polyline points="415.98,544.08 433.32,545.71 450.68,542.46 468.02,539.2 485.38,539.2 502.73,542.46 520.08,547.34 537.42,548.97 554.77,545.71 572.12,542.46 589.48,539.2 606.83,539.2" fill="none" stroke="#93B0DA" stroke-width="1.6" stroke-linejoin="round"/>
<path d="M412.08 540.18L419.88 547.98M412.08 547.98L419.88 540.18" stroke="#7C9CD2" stroke-width="1.6" fill="none"/>
<path d="M429.43 541.81L437.22 549.61M429.43 549.61L437.22 541.81" stroke="#7C9CD2" stroke-width="1.6" fill="none"/>
<path d="M446.78 538.56L454.57 546.36M446.78 546.36L454.57 538.56" stroke="#7C9CD2" stroke-width="1.6" fill="none"/>
<path d="M464.12 535.3L471.92 543.1M464.12 543.1L471.92 535.3" stroke="#7C9CD2" stroke-width="1.6" fill="none"/>
<path d="M481.48 535.3L489.27 543.1M481.48 543.1L489.27 535.3" stroke="#7C9CD2" stroke-width="1.6" fill="none"/>
<path d="M498.83 538.56L506.62 546.36M498.83 546.36L506.62 538.56" stroke="#7C9CD2" stroke-width="1.6" fill="none"/>
<path d="M516.18 543.44L523.98 551.24M516.18 551.24L523.98 543.44" stroke="#7C9CD2" stroke-width="1.6" fill="none"/>
<path d="M533.52 545.07L541.32 552.87M533.52 552.87L541.32 545.07" stroke="#7C9CD2" stroke-width="1.6" fill="none"/>
<path d="M550.88 541.81L558.67 549.61M550.88 549.61L558.67 541.81" stroke="#7C9CD2" stroke-width="1.6" fill="none"/>
<path d="M568.23 538.56L576.02 546.36M568.23 546.36L576.02 538.56" stroke="#7C9CD2" stroke-width="1.6" fill="none"/>
<path d="M585.58 535.3L593.38 543.1M585.58 543.1L593.38 535.3" stroke="#7C9CD2" stroke-width="1.6" fill="none"/>
<path d="M602.93 535.3L610.73 543.1M602.93 543.1L610.73 535.3" stroke="#7C9CD2" stroke-width="1.6" fill="none"/>
<polyline points="415.98,526.19 433.32,531.07 450.68,529.44 468.02,527.81 485.38,527.81 502.73,534.32 520.08,542.46 537.42,547.34 554.77,542.46 572.12,525.7 589.48,519.03 606.83,518.05" fill="none" stroke="#F9B586" stroke-width="1.6" stroke-linejoin="round"/>
<rect x="412.08" y="525.02" width="7.8" height="2.34" fill="#F79646"/>
<rect x="429.43" y="529.9" width="7.8" height="2.34" fill="#F79646"/>
<rect x="446.78" y="528.27" width="7.8" height="2.34" fill="#F79646"/>
<rect x="464.12" y="526.64" width="7.8" height="2.34" fill="#F79646"/>
<rect x="481.48" y="526.64" width="7.8" height="2.34" fill="#F79646"/>
<rect x="498.83" y="533.15" width="7.8" height="2.34" fill="#F79646"/>
<rect x="516.18" y="541.29" width="7.8" height="2.34" fill="#F79646"/>
<rect x="533.52" y="546.17" width="7.8" height="2.34" fill="#F79646"/>
<rect x="550.88" y="541.29" width="7.8" height="2.34" fill="#F79646"/>
<rect x="568.23" y="524.53" width="7.8" height="2.34" fill="#F79646"/>
<rect x="585.58" y="517.86" width="7.8" height="2.34" fill="#F79646"/>
<rect x="602.93" y="516.88" width="7.8" height="2.34" fill="#F79646"/>
<rect x="653.9" y="353.9" width="259.8" height="304.1" fill="#fff" stroke="#8a8a8a" stroke-width="1.6"/>
<line x1="690.3" y1="617.3" x2="893.7" y2="617.3" stroke="#929292" stroke-width="1.2"/>
<text x="0" y="0" class="tl2" text-anchor="end" transform="translate(682.4,622.5) scale(0.93,1)">20</text>
<line x1="690.3" y1="601.02" x2="893.7" y2="601.02" stroke="#929292" stroke-width="1.2"/>
<text x="0" y="0" class="tl2" text-anchor="end" transform="translate(682.4,606.22) scale(0.93,1)">21</text>
<line x1="690.3" y1="584.74" x2="893.7" y2="584.74" stroke="#929292" stroke-width="1.2"/>
<text x="0" y="0" class="tl2" text-anchor="end" transform="translate(682.4,589.94) scale(0.93,1)">22</text>
<line x1="690.3" y1="568.46" x2="893.7" y2="568.46" stroke="#929292" stroke-width="1.2"/>
<text x="0" y="0" class="tl2" text-anchor="end" transform="translate(682.4,573.66) scale(0.93,1)">23</text>
<line x1="690.3" y1="552.18" x2="893.7" y2="552.18" stroke="#929292" stroke-width="1.2"/>
<text x="0" y="0" class="tl2" text-anchor="end" transform="translate(682.4,557.38) scale(0.93,1)">24</text>
<line x1="690.3" y1="535.9" x2="893.7" y2="535.9" stroke="#929292" stroke-width="1.2"/>
<text x="0" y="0" class="tl2" text-anchor="end" transform="translate(682.4,541.1) scale(0.93,1)">25</text>
<line x1="690.3" y1="519.62" x2="893.7" y2="519.62" stroke="#929292" stroke-width="1.2"/>
<text x="0" y="0" class="tl2" text-anchor="end" transform="translate(682.4,524.82) scale(0.93,1)">26</text>
<line x1="690.3" y1="503.34" x2="893.7" y2="503.34" stroke="#929292" stroke-width="1.2"/>
<text x="0" y="0" class="tl2" text-anchor="end" transform="translate(682.4,508.54) scale(0.93,1)">27</text>
<line x1="690.3" y1="487.06" x2="893.7" y2="487.06" stroke="#929292" stroke-width="1.2"/>
<text x="0" y="0" class="tl2" text-anchor="end" transform="translate(682.4,492.26) scale(0.93,1)">28</text>
<line x1="690.3" y1="470.78" x2="893.7" y2="470.78" stroke="#929292" stroke-width="1.2"/>
<text x="0" y="0" class="tl2" text-anchor="end" transform="translate(682.4,475.98) scale(0.93,1)">29</text>
<line x1="690.3" y1="454.5" x2="893.7" y2="454.5" stroke="#929292" stroke-width="1.2"/>
<text x="0" y="0" class="tl2" text-anchor="end" transform="translate(682.4,459.7) scale(0.93,1)">30</text>
<line x1="690.3" y1="438.22" x2="893.7" y2="438.22" stroke="#929292" stroke-width="1.2"/>
<text x="0" y="0" class="tl2" text-anchor="end" transform="translate(682.4,443.42) scale(0.93,1)">31</text>
<line x1="690.3" y1="421.94" x2="893.7" y2="421.94" stroke="#929292" stroke-width="1.2"/>
<text x="0" y="0" class="tl2" text-anchor="end" transform="translate(682.4,427.14) scale(0.93,1)">32</text>
<line x1="690.3" y1="405.66" x2="893.7" y2="405.66" stroke="#929292" stroke-width="1.2"/>
<text x="0" y="0" class="tl2" text-anchor="end" transform="translate(682.4,410.86) scale(0.93,1)">33</text>
<line x1="690.3" y1="389.38" x2="893.7" y2="389.38" stroke="#929292" stroke-width="1.2"/>
<text x="0" y="0" class="tl2" text-anchor="end" transform="translate(682.4,394.58) scale(0.93,1)">34</text>
<line x1="690.3" y1="373.1" x2="893.7" y2="373.1" stroke="#929292" stroke-width="1.2"/>
<text x="0" y="0" class="tl2" text-anchor="end" transform="translate(682.4,378.3) scale(0.93,1)">35</text>
<line x1="695.3" y1="373.1" x2="695.3" y2="621.3" stroke="#929292" stroke-width="1.2"/>
<line x1="711.83" y1="617.3" x2="711.83" y2="621.3" stroke="#929292" stroke-width="1.2"/>
<line x1="728.37" y1="617.3" x2="728.37" y2="621.3" stroke="#929292" stroke-width="1.2"/>
<line x1="744.9" y1="617.3" x2="744.9" y2="621.3" stroke="#929292" stroke-width="1.2"/>
<line x1="761.43" y1="617.3" x2="761.43" y2="621.3" stroke="#929292" stroke-width="1.2"/>
<line x1="777.97" y1="617.3" x2="777.97" y2="621.3" stroke="#929292" stroke-width="1.2"/>
<line x1="794.5" y1="617.3" x2="794.5" y2="621.3" stroke="#929292" stroke-width="1.2"/>
<line x1="811.03" y1="617.3" x2="811.03" y2="621.3" stroke="#929292" stroke-width="1.2"/>
<line x1="827.57" y1="617.3" x2="827.57" y2="621.3" stroke="#929292" stroke-width="1.2"/>
<line x1="844.1" y1="617.3" x2="844.1" y2="621.3" stroke="#929292" stroke-width="1.2"/>
<line x1="860.63" y1="617.3" x2="860.63" y2="621.3" stroke="#929292" stroke-width="1.2"/>
<line x1="877.17" y1="617.3" x2="877.17" y2="621.3" stroke="#929292" stroke-width="1.2"/>
<line x1="893.7" y1="617.3" x2="893.7" y2="621.3" stroke="#929292" stroke-width="1.2"/>
<text class="tm2" transform="translate(708.77,625.4) rotate(-90) scale(1,1)" text-anchor="end">Jan</text>
<text class="tm2" transform="translate(725.3,625.4) rotate(-90) scale(1,1)" text-anchor="end">Feb</text>
<text class="tm2" transform="translate(741.83,625.4) rotate(-90) scale(1,1)" text-anchor="end">Mar</text>
<text class="tm2" transform="translate(758.37,625.4) rotate(-90) scale(1,1)" text-anchor="end">Apr</text>
<text class="tm2" transform="translate(774.9,625.4) rotate(-90) scale(1,1)" text-anchor="end">May</text>
<text class="tm2" transform="translate(791.43,625.4) rotate(-90) scale(1,1)" text-anchor="end">Jun</text>
<text class="tm2" transform="translate(807.97,625.4) rotate(-90) scale(1,1)" text-anchor="end">Jul</text>
<text class="tm2" transform="translate(824.5,625.4) rotate(-90) scale(1,1)" text-anchor="end">Aug</text>
<text class="tm2" transform="translate(841.03,625.4) rotate(-90) scale(1,1)" text-anchor="end">Sep</text>
<text class="tm2" transform="translate(857.57,625.4) rotate(-90) scale(1,1)" text-anchor="end">Oct</text>
<text class="tm2" transform="translate(874.1,625.4) rotate(-90) scale(1,1)" text-anchor="end">Nov</text>
<text class="tm2" transform="translate(890.63,625.4) rotate(-90) scale(1,1)" text-anchor="end">Dec</text>
<polyline points="703.57,444.73 720.1,436.75 736.63,422.43 753.17,414.94 769.7,412.99 786.23,417.06 802.77,415.92 819.3,401.92 835.83,385.47 852.37,383.52 868.9,401.92 885.43,424.38" fill="none" stroke="#000000" stroke-width="4" stroke-linejoin="round"/>
<polygon points="696.37,444.73 703.57,437.53 710.77,444.73 703.57,451.93" fill="#3D69A5" stroke="#335E98" stroke-width="0.8"/>
<polygon points="712.9,436.75 720.1,429.55 727.3,436.75 720.1,443.95" fill="#3D69A5" stroke="#335E98" stroke-width="0.8"/>
<polygon points="729.43,422.43 736.63,415.23 743.83,422.43 736.63,429.63" fill="#3D69A5" stroke="#335E98" stroke-width="0.8"/>
<polygon points="745.97,414.94 753.17,407.74 760.37,414.94 753.17,422.14" fill="#3D69A5" stroke="#335E98" stroke-width="0.8"/>
<polygon points="762.5,412.99 769.7,405.79 776.9,412.99 769.7,420.19" fill="#3D69A5" stroke="#335E98" stroke-width="0.8"/>
<polygon points="779.03,417.06 786.23,409.86 793.43,417.06 786.23,424.26" fill="#3D69A5" stroke="#335E98" stroke-width="0.8"/>
<polygon points="795.57,415.92 802.77,408.72 809.97,415.92 802.77,423.12" fill="#3D69A5" stroke="#335E98" stroke-width="0.8"/>
<polygon points="812.1,401.92 819.3,394.72 826.5,401.92 819.3,409.12" fill="#3D69A5" stroke="#335E98" stroke-width="0.8"/>
<polygon points="828.63,385.47 835.83,378.27 843.03,385.47 835.83,392.67" fill="#3D69A5" stroke="#335E98" stroke-width="0.8"/>
<polygon points="845.17,383.52 852.37,376.32 859.57,383.52 852.37,390.72" fill="#3D69A5" stroke="#335E98" stroke-width="0.8"/>
<polygon points="861.7,401.92 868.9,394.72 876.1,401.92 868.9,409.12" fill="#3D69A5" stroke="#335E98" stroke-width="0.8"/>
<polygon points="878.23,424.38 885.43,417.18 892.63,424.38 885.43,431.58" fill="#3D69A5" stroke="#335E98" stroke-width="0.8"/>
<polyline points="703.57,465.41 720.1,465.9 736.63,461.66 753.17,456.45 769.7,459.87 786.23,468.34 802.77,476.64 819.3,485.43 835.83,487.06 852.37,482.18 868.9,470.13 885.43,463.45" fill="none" stroke="#C86966" stroke-width="1.6" stroke-linejoin="round"/>
<rect x="699.67" y="461.51" width="7.8" height="7.8" fill="#9B3B38" stroke="#8C3330" stroke-width="0.6"/>
<rect x="716.2" y="462" width="7.8" height="7.8" fill="#9B3B38" stroke="#8C3330" stroke-width="0.6"/>
<rect x="732.73" y="457.76" width="7.8" height="7.8" fill="#9B3B38" stroke="#8C3330" stroke-width="0.6"/>
<rect x="749.27" y="452.55" width="7.8" height="7.8" fill="#9B3B38" stroke="#8C3330" stroke-width="0.6"/>
<rect x="765.8" y="455.97" width="7.8" height="7.8" fill="#9B3B38" stroke="#8C3330" stroke-width="0.6"/>
<rect x="782.33" y="464.44" width="7.8" height="7.8" fill="#9B3B38" stroke="#8C3330" stroke-width="0.6"/>
<rect x="798.87" y="472.74" width="7.8" height="7.8" fill="#9B3B38" stroke="#8C3330" stroke-width="0.6"/>
<rect x="815.4" y="481.53" width="7.8" height="7.8" fill="#9B3B38" stroke="#8C3330" stroke-width="0.6"/>
<rect x="831.93" y="483.16" width="7.8" height="7.8" fill="#9B3B38" stroke="#8C3330" stroke-width="0.6"/>
<rect x="848.47" y="478.28" width="7.8" height="7.8" fill="#9B3B38" stroke="#8C3330" stroke-width="0.6"/>
<rect x="865" y="466.23" width="7.8" height="7.8" fill="#9B3B38" stroke="#8C3330" stroke-width="0.6"/>
<rect x="881.53" y="459.55" width="7.8" height="7.8" fill="#9B3B38" stroke="#8C3330" stroke-width="0.6"/>
<polyline points="703.57,489.66 720.1,498.46 736.63,492.6 753.17,488.69 769.7,491.94 786.23,495.2 802.77,501.71 819.3,501.71 835.83,493.57 852.37,487.06 868.9,487.87 885.43,486.25" fill="none" stroke="#8FB04F" stroke-width="1.6" stroke-linejoin="round"/>
<polygon points="699.67,492.98 703.57,485.76 707.47,492.98" fill="#77933C" stroke="#6B8636" stroke-width="0.6"/>
<polygon points="716.2,501.77 720.1,494.56 724,501.77" fill="#77933C" stroke="#6B8636" stroke-width="0.6"/>
<polygon points="732.73,495.91 736.63,488.7 740.53,495.91" fill="#77933C" stroke="#6B8636" stroke-width="0.6"/>
<polygon points="749.27,492 753.17,484.79 757.07,492" fill="#77933C" stroke="#6B8636" stroke-width="0.6"/>
<polygon points="765.8,495.26 769.7,488.04 773.6,495.26" fill="#77933C" stroke="#6B8636" stroke-width="0.6"/>
<polygon points="782.33,498.51 786.23,491.3 790.13,498.51" fill="#77933C" stroke="#6B8636" stroke-width="0.6"/>
<polygon points="798.87,505.03 802.77,497.81 806.67,505.03" fill="#77933C" stroke="#6B8636" stroke-width="0.6"/>
<polygon points="815.4,505.03 819.3,497.81 823.2,505.03" fill="#77933C" stroke="#6B8636" stroke-width="0.6"/>
<polygon points="831.93,496.89 835.83,489.67 839.73,496.89" fill="#77933C" stroke="#6B8636" stroke-width="0.6"/>
<polygon points="848.47,490.37 852.37,483.16 856.27,490.37" fill="#77933C" stroke="#6B8636" stroke-width="0.6"/>
<polygon points="865,491.19 868.9,483.97 872.8,491.19" fill="#77933C" stroke="#6B8636" stroke-width="0.6"/>
<polygon points="881.53,489.56 885.43,482.35 889.33,489.56" fill="#77933C" stroke="#6B8636" stroke-width="0.6"/>
<polyline points="703.57,501.87 720.1,505.62 736.63,503.67 753.17,500.08 769.7,500.08 786.23,503.67 802.77,509.36 819.3,505.46 835.83,496.83 852.37,495.2 868.9,499.27 885.43,500.08" fill="none" stroke="#5F4A85" stroke-width="2.4" stroke-linejoin="round"/>
<path d="M699.67 497.97L707.47 505.77M699.67 505.77L707.47 497.97" stroke="#5F4A85" stroke-width="1.6" fill="none"/>
<path d="M716.2 501.72L724 509.52M716.2 509.52L724 501.72" stroke="#5F4A85" stroke-width="1.6" fill="none"/>
<path d="M732.73 499.77L740.53 507.57M732.73 507.57L740.53 499.77" stroke="#5F4A85" stroke-width="1.6" fill="none"/>
<path d="M749.27 496.18L757.07 503.98M749.27 503.98L757.07 496.18" stroke="#5F4A85" stroke-width="1.6" fill="none"/>
<path d="M765.8 496.18L773.6 503.98M765.8 503.98L773.6 496.18" stroke="#5F4A85" stroke-width="1.6" fill="none"/>
<path d="M782.33 499.77L790.13 507.57M782.33 507.57L790.13 499.77" stroke="#5F4A85" stroke-width="1.6" fill="none"/>
<path d="M798.87 505.46L806.67 513.26M798.87 513.26L806.67 505.46" stroke="#5F4A85" stroke-width="1.6" fill="none"/>
<path d="M815.4 501.56L823.2 509.36M815.4 509.36L823.2 501.56" stroke="#5F4A85" stroke-width="1.6" fill="none"/>
<path d="M831.93 492.93L839.73 500.73M831.93 500.73L839.73 492.93" stroke="#5F4A85" stroke-width="1.6" fill="none"/>
<path d="M848.47 491.3L856.27 499.1M848.47 499.1L856.27 491.3" stroke="#5F4A85" stroke-width="1.6" fill="none"/>
<path d="M865 495.37L872.8 503.17M865 503.17L872.8 495.37" stroke="#5F4A85" stroke-width="1.6" fill="none"/>
<path d="M881.53 496.18L889.33 503.98M881.53 503.98L889.33 496.18" stroke="#5F4A85" stroke-width="1.6" fill="none"/>
<polyline points="703.57,469.15 720.1,470.78 736.63,465.9 753.17,451.24 769.7,447.01 786.23,447.17 802.77,444.73 819.3,425.52 835.83,401.75 852.37,392.8 868.9,408.59 885.43,439.03" fill="none" stroke="#4BA3BD" stroke-width="1.6" stroke-linejoin="round"/>
<path d="M699.67 465.25L707.47 473.05M699.67 473.05L707.47 465.25M703.57 465.25L703.57 473.05" stroke="#31859C" stroke-width="1.6" fill="none"/>
<path d="M716.2 466.88L724 474.68M716.2 474.68L724 466.88M720.1 466.88L720.1 474.68" stroke="#31859C" stroke-width="1.6" fill="none"/>
<path d="M732.73 462L740.53 469.8M732.73 469.8L740.53 462M736.63 462L736.63 469.8" stroke="#31859C" stroke-width="1.6" fill="none"/>
<path d="M749.27 447.34L757.07 455.14M749.27 455.14L757.07 447.34M753.17 447.34L753.17 455.14" stroke="#31859C" stroke-width="1.6" fill="none"/>
<path d="M765.8 443.11L773.6 450.91M765.8 450.91L773.6 443.11M769.7 443.11L769.7 450.91" stroke="#31859C" stroke-width="1.6" fill="none"/>
<path d="M782.33 443.27L790.13 451.07M782.33 451.07L790.13 443.27M786.23 443.27L786.23 451.07" stroke="#31859C" stroke-width="1.6" fill="none"/>
<path d="M798.87 440.83L806.67 448.63M798.87 448.63L806.67 440.83M802.77 440.83L802.77 448.63" stroke="#31859C" stroke-width="1.6" fill="none"/>
<path d="M815.4 421.62L823.2 429.42M815.4 429.42L823.2 421.62M819.3 421.62L819.3 429.42" stroke="#31859C" stroke-width="1.6" fill="none"/>
<path d="M831.93 397.85L839.73 405.65M831.93 405.65L839.73 397.85M835.83 397.85L835.83 405.65" stroke="#31859C" stroke-width="1.6" fill="none"/>
<path d="M848.47 388.9L856.27 396.7M848.47 396.7L856.27 388.9M852.37 388.9L852.37 396.7" stroke="#31859C" stroke-width="1.6" fill="none"/>
<path d="M865 404.69L872.8 412.49M865 412.49L872.8 404.69M868.9 404.69L868.9 412.49" stroke="#31859C" stroke-width="1.6" fill="none"/>
<path d="M881.53 435.13L889.33 442.93M881.53 442.93L889.33 435.13M885.43 435.13L885.43 442.93" stroke="#31859C" stroke-width="1.6" fill="none"/>
<polyline points="703.57,480.55 720.1,478.92 736.63,475.66 753.17,474.04 769.7,477.29 786.23,482.18 802.77,488.69 819.3,490.32 835.83,488.69 852.37,482.18 868.9,477.29 885.43,480.55" fill="none" stroke="#EE9A57" stroke-width="1.6" stroke-linejoin="round"/>
<ellipse cx="703.57" cy="480.55" rx="3.9" ry="3.9" fill="#D2772E" stroke="#C46E29" stroke-width="0.6"/>
<ellipse cx="720.1" cy="478.92" rx="3.9" ry="3.9" fill="#D2772E" stroke="#C46E29" stroke-width="0.6"/>
<ellipse cx="736.63" cy="475.66" rx="3.9" ry="3.9" fill="#D2772E" stroke="#C46E29" stroke-width="0.6"/>
<ellipse cx="753.17" cy="474.04" rx="3.9" ry="3.9" fill="#D2772E" stroke="#C46E29" stroke-width="0.6"/>
<ellipse cx="769.7" cy="477.29" rx="3.9" ry="3.9" fill="#D2772E" stroke="#C46E29" stroke-width="0.6"/>
<ellipse cx="786.23" cy="482.18" rx="3.9" ry="3.9" fill="#D2772E" stroke="#C46E29" stroke-width="0.6"/>
<ellipse cx="802.77" cy="488.69" rx="3.9" ry="3.9" fill="#D2772E" stroke="#C46E29" stroke-width="0.6"/>
<ellipse cx="819.3" cy="490.32" rx="3.9" ry="3.9" fill="#D2772E" stroke="#C46E29" stroke-width="0.6"/>
<ellipse cx="835.83" cy="488.69" rx="3.9" ry="3.9" fill="#D2772E" stroke="#C46E29" stroke-width="0.6"/>
<ellipse cx="852.37" cy="482.18" rx="3.9" ry="3.9" fill="#D2772E" stroke="#C46E29" stroke-width="0.6"/>
<ellipse cx="868.9" cy="477.29" rx="3.9" ry="3.9" fill="#D2772E" stroke="#C46E29" stroke-width="0.6"/>
<ellipse cx="885.43" cy="480.55" rx="3.9" ry="3.9" fill="#D2772E" stroke="#C46E29" stroke-width="0.6"/>
<polyline points="703.57,501.71 720.1,503.34 736.63,498.46 753.17,493.57 769.7,493.57 786.23,498.46 802.77,503.34 819.3,493.57 835.83,474.04 852.37,466.71 868.9,471.59 885.43,478.92" fill="none" stroke="#8EADD6" stroke-width="1.6" stroke-linejoin="round"/>
<path d="M699.67 501.71L707.47 501.71M703.57 497.81L703.57 505.61" stroke="#4A7BBA" stroke-width="1.6" fill="none"/>
<path d="M716.2 503.34L724 503.34M720.1 499.44L720.1 507.24" stroke="#4A7BBA" stroke-width="1.6" fill="none"/>
<path d="M732.73 498.46L740.53 498.46M736.63 494.56L736.63 502.36" stroke="#4A7BBA" stroke-width="1.6" fill="none"/>
<path d="M749.27 493.57L757.07 493.57M753.17 489.67L753.17 497.47" stroke="#4A7BBA" stroke-width="1.6" fill="none"/>
<path d="M765.8 493.57L773.6 493.57M769.7 489.67L769.7 497.47" stroke="#4A7BBA" stroke-width="1.6" fill="none"/>
<path d="M782.33 498.46L790.13 498.46M786.23 494.56L786.23 502.36" stroke="#4A7BBA" stroke-width="1.6" fill="none"/>
<path d="M798.87 503.34L806.67 503.34M802.77 499.44L802.77 507.24" stroke="#4A7BBA" stroke-width="1.6" fill="none"/>
<path d="M815.4 493.57L823.2 493.57M819.3 489.67L819.3 497.47" stroke="#4A7BBA" stroke-width="1.6" fill="none"/>
<path d="M831.93 474.04L839.73 474.04M835.83 470.14L835.83 477.94" stroke="#4A7BBA" stroke-width="1.6" fill="none"/>
<path d="M848.47 466.71L856.27 466.71M852.37 462.81L852.37 470.61" stroke="#4A7BBA" stroke-width="1.6" fill="none"/>
<path d="M865 471.59L872.8 471.59M868.9 467.69L868.9 475.49" stroke="#4A7BBA" stroke-width="1.6" fill="none"/>
<path d="M881.53 478.92L889.33 478.92M885.43 475.02L885.43 482.82" stroke="#4A7BBA" stroke-width="1.6" fill="none"/>
<polyline points="703.57,475.66 720.1,485.43 736.63,480.55 753.17,477.29 769.7,478.92 786.23,483.8 802.77,490.32 819.3,493.57 835.83,487.06 852.37,456.13 868.9,449.62 885.43,483.8" fill="none" stroke="#D98C8A" stroke-width="1.6" stroke-linejoin="round"/>
<rect x="699.67" y="474.49" width="7.8" height="2.34" fill="#C0504D"/>
<rect x="716.2" y="484.26" width="7.8" height="2.34" fill="#C0504D"/>
<rect x="732.73" y="479.38" width="7.8" height="2.34" fill="#C0504D"/>
<rect x="749.27" y="476.12" width="7.8" height="2.34" fill="#C0504D"/>
<rect x="765.8" y="477.75" width="7.8" height="2.34" fill="#C0504D"/>
<rect x="782.33" y="482.63" width="7.8" height="2.34" fill="#C0504D"/>
<rect x="798.87" y="489.15" width="7.8" height="2.34" fill="#C0504D"/>
<rect x="815.4" y="492.4" width="7.8" height="2.34" fill="#C0504D"/>
<rect x="831.93" y="485.89" width="7.8" height="2.34" fill="#C0504D"/>
<rect x="848.47" y="454.96" width="7.8" height="2.34" fill="#C0504D"/>
<rect x="865" y="448.45" width="7.8" height="2.34" fill="#C0504D"/>
<rect x="881.53" y="482.63" width="7.8" height="2.34" fill="#C0504D"/>
<polyline points="703.57,467.52 720.1,470.78 736.63,470.78 753.17,469.15 769.7,474.04 786.23,478.92 802.77,485.43 819.3,478.92 835.83,462.64 852.37,437.73 868.9,436.59 885.43,457.76" fill="none" stroke="#A9C66E" stroke-width="1.6" stroke-linejoin="round"/>
<rect x="699.67" y="466.35" width="7.8" height="2.34" fill="#8EB04D"/>
<rect x="716.2" y="469.61" width="7.8" height="2.34" fill="#8EB04D"/>
<rect x="732.73" y="469.61" width="7.8" height="2.34" fill="#8EB04D"/>
<rect x="749.27" y="467.98" width="7.8" height="2.34" fill="#8EB04D"/>
<rect x="765.8" y="472.87" width="7.8" height="2.34" fill="#8EB04D"/>
<rect x="782.33" y="477.75" width="7.8" height="2.34" fill="#8EB04D"/>
<rect x="798.87" y="484.26" width="7.8" height="2.34" fill="#8EB04D"/>
<rect x="815.4" y="477.75" width="7.8" height="2.34" fill="#8EB04D"/>
<rect x="831.93" y="461.47" width="7.8" height="2.34" fill="#8EB04D"/>
<rect x="848.47" y="436.56" width="7.8" height="2.34" fill="#8EB04D"/>
<rect x="865" y="435.42" width="7.8" height="2.34" fill="#8EB04D"/>
<rect x="881.53" y="456.59" width="7.8" height="2.34" fill="#8EB04D"/>
<polyline points="703.57,491.94 720.1,493.57 736.63,488.69 753.17,487.06 769.7,488.69 786.23,493.57 802.77,500.08 819.3,501.71 835.83,490.32 852.37,483.8 868.9,477.29 885.43,475.66" fill="none" stroke="#8E74B0" stroke-width="1.6" stroke-linejoin="round"/>
<polygon points="699.67,491.94 703.57,488.04 707.47,491.94 703.57,495.84" fill="#7459A0" stroke="#664E8E" stroke-width="0.8"/>
<polygon points="716.2,493.57 720.1,489.67 724,493.57 720.1,497.47" fill="#7459A0" stroke="#664E8E" stroke-width="0.8"/>
<polygon points="732.73,488.69 736.63,484.79 740.53,488.69 736.63,492.59" fill="#7459A0" stroke="#664E8E" stroke-width="0.8"/>
<polygon points="749.27,487.06 753.17,483.16 757.07,487.06 753.17,490.96" fill="#7459A0" stroke="#664E8E" stroke-width="0.8"/>
<polygon points="765.8,488.69 769.7,484.79 773.6,488.69 769.7,492.59" fill="#7459A0" stroke="#664E8E" stroke-width="0.8"/>
<polygon points="782.33,493.57 786.23,489.67 790.13,493.57 786.23,497.47" fill="#7459A0" stroke="#664E8E" stroke-width="0.8"/>
<polygon points="798.87,500.08 802.77,496.18 806.67,500.08 802.77,503.98" fill="#7459A0" stroke="#664E8E" stroke-width="0.8"/>
<polygon points="815.4,501.71 819.3,497.81 823.2,501.71 819.3,505.61" fill="#7459A0" stroke="#664E8E" stroke-width="0.8"/>
<polygon points="831.93,490.32 835.83,486.42 839.73,490.32 835.83,494.22" fill="#7459A0" stroke="#664E8E" stroke-width="0.8"/>
<polygon points="848.47,483.8 852.37,479.9 856.27,483.8 852.37,487.7" fill="#7459A0" stroke="#664E8E" stroke-width="0.8"/>
<polygon points="865,477.29 868.9,473.39 872.8,477.29 868.9,481.19" fill="#7459A0" stroke="#664E8E" stroke-width="0.8"/>
<polygon points="881.53,475.66 885.43,471.76 889.33,475.66 885.43,479.56" fill="#7459A0" stroke="#664E8E" stroke-width="0.8"/>
<polyline points="703.57,478.92 720.1,480.55 736.63,477.29 753.17,475.66 769.7,478.92 786.23,482.18 802.77,487.06 819.3,488.69 835.83,488.69 852.37,485.43 868.9,483.8 885.43,480.55" fill="none" stroke="#7EC8DB" stroke-width="1.6" stroke-linejoin="round"/>
<rect x="699.67" y="475.02" width="7.8" height="7.8" fill="#3BA6C2" stroke="#3399B4" stroke-width="0.6"/>
<rect x="716.2" y="476.65" width="7.8" height="7.8" fill="#3BA6C2" stroke="#3399B4" stroke-width="0.6"/>
<rect x="732.73" y="473.39" width="7.8" height="7.8" fill="#3BA6C2" stroke="#3399B4" stroke-width="0.6"/>
<rect x="749.27" y="471.76" width="7.8" height="7.8" fill="#3BA6C2" stroke="#3399B4" stroke-width="0.6"/>
<rect x="765.8" y="475.02" width="7.8" height="7.8" fill="#3BA6C2" stroke="#3399B4" stroke-width="0.6"/>
<rect x="782.33" y="478.28" width="7.8" height="7.8" fill="#3BA6C2" stroke="#3399B4" stroke-width="0.6"/>
<rect x="798.87" y="483.16" width="7.8" height="7.8" fill="#3BA6C2" stroke="#3399B4" stroke-width="0.6"/>
<rect x="815.4" y="484.79" width="7.8" height="7.8" fill="#3BA6C2" stroke="#3399B4" stroke-width="0.6"/>
<rect x="831.93" y="484.79" width="7.8" height="7.8" fill="#3BA6C2" stroke="#3399B4" stroke-width="0.6"/>
<rect x="848.47" y="481.53" width="7.8" height="7.8" fill="#3BA6C2" stroke="#3399B4" stroke-width="0.6"/>
<rect x="865" y="479.9" width="7.8" height="7.8" fill="#3BA6C2" stroke="#3399B4" stroke-width="0.6"/>
<rect x="881.53" y="476.65" width="7.8" height="7.8" fill="#3BA6C2" stroke="#3399B4" stroke-width="0.6"/>
<polyline points="703.57,480.55 720.1,477.29 736.63,474.04 753.17,472.41 769.7,477.29 786.23,482.18 802.77,488.69 819.3,491.94 835.83,487.06 852.37,482.18 868.9,478.92 885.43,478.92" fill="none" stroke="#F4A060" stroke-width="1.6" stroke-linejoin="round"/>
<polygon points="699.67,483.86 703.57,476.65 707.47,483.86" fill="#F38B36" stroke="#E88030" stroke-width="0.6"/>
<polygon points="716.2,480.61 720.1,473.39 724,480.61" fill="#F38B36" stroke="#E88030" stroke-width="0.6"/>
<polygon points="732.73,477.35 736.63,470.14 740.53,477.35" fill="#F38B36" stroke="#E88030" stroke-width="0.6"/>
<polygon points="749.27,475.72 753.17,468.51 757.07,475.72" fill="#F38B36" stroke="#E88030" stroke-width="0.6"/>
<polygon points="765.8,480.61 769.7,473.39 773.6,480.61" fill="#F38B36" stroke="#E88030" stroke-width="0.6"/>
<polygon points="782.33,485.49 786.23,478.28 790.13,485.49" fill="#F38B36" stroke="#E88030" stroke-width="0.6"/>
<polygon points="798.87,492 802.77,484.79 806.67,492" fill="#F38B36" stroke="#E88030" stroke-width="0.6"/>
<polygon points="815.4,495.26 819.3,488.04 823.2,495.26" fill="#F38B36" stroke="#E88030" stroke-width="0.6"/>
<polygon points="831.93,490.37 835.83,483.16 839.73,490.37" fill="#F38B36" stroke="#E88030" stroke-width="0.6"/>
<polygon points="848.47,485.49 852.37,478.28 856.27,485.49" fill="#F38B36" stroke="#E88030" stroke-width="0.6"/>
<polygon points="865,482.23 868.9,475.02 872.8,482.23" fill="#F38B36" stroke="#E88030" stroke-width="0.6"/>
<polygon points="881.53,482.23 885.43,475.02 889.33,482.23" fill="#F38B36" stroke="#E88030" stroke-width="0.6"/>
<polyline points="703.57,483.8 720.1,488.69 736.63,483.8 753.17,477.29 769.7,478.92 786.23,483.8 802.77,488.69 819.3,480.55 835.83,465.9 852.37,448.64 868.9,446.36 885.43,457.76" fill="none" stroke="#DA8E8C" stroke-width="1.6" stroke-linejoin="round"/>
<path d="M699.67 479.9L707.47 487.7M699.67 487.7L707.47 479.9M703.57 479.9L703.57 487.7" stroke="#D2807E" stroke-width="1.6" fill="none"/>
<path d="M716.2 484.79L724 492.59M716.2 492.59L724 484.79M720.1 484.79L720.1 492.59" stroke="#D2807E" stroke-width="1.6" fill="none"/>
<path d="M732.73 479.9L740.53 487.7M732.73 487.7L740.53 479.9M736.63 479.9L736.63 487.7" stroke="#D2807E" stroke-width="1.6" fill="none"/>
<path d="M749.27 473.39L757.07 481.19M749.27 481.19L757.07 473.39M753.17 473.39L753.17 481.19" stroke="#D2807E" stroke-width="1.6" fill="none"/>
<path d="M765.8 475.02L773.6 482.82M765.8 482.82L773.6 475.02M769.7 475.02L769.7 482.82" stroke="#D2807E" stroke-width="1.6" fill="none"/>
<path d="M782.33 479.9L790.13 487.7M782.33 487.7L790.13 479.9M786.23 479.9L786.23 487.7" stroke="#D2807E" stroke-width="1.6" fill="none"/>
<path d="M798.87 484.79L806.67 492.59M798.87 492.59L806.67 484.79M802.77 484.79L802.77 492.59" stroke="#D2807E" stroke-width="1.6" fill="none"/>
<path d="M815.4 476.65L823.2 484.45M815.4 484.45L823.2 476.65M819.3 476.65L819.3 484.45" stroke="#D2807E" stroke-width="1.6" fill="none"/>
<path d="M831.93 462L839.73 469.8M831.93 469.8L839.73 462M835.83 462L835.83 469.8" stroke="#D2807E" stroke-width="1.6" fill="none"/>
<path d="M848.47 444.74L856.27 452.54M848.47 452.54L856.27 444.74M852.37 444.74L852.37 452.54" stroke="#D2807E" stroke-width="1.6" fill="none"/>
<path d="M865 442.46L872.8 450.26M865 450.26L872.8 442.46M868.9 442.46L868.9 450.26" stroke="#D2807E" stroke-width="1.6" fill="none"/>
<path d="M881.53 453.86L889.33 461.66M881.53 461.66L889.33 453.86M885.43 453.86L885.43 461.66" stroke="#D2807E" stroke-width="1.6" fill="none"/>
<polyline points="703.57,466.38 720.1,469.15 736.63,466.38 753.17,468.34 769.7,475.66 786.23,480.55 802.77,485.43 819.3,482.18 835.83,471.59 852.37,459.38 868.9,453.69 885.43,459.38" fill="none" stroke="#B5D08A" stroke-width="1.6" stroke-linejoin="round"/>
<ellipse cx="703.57" cy="466.38" rx="3.9" ry="3.9" fill="#A7C772" stroke="#9CBC66" stroke-width="0.6"/>
<ellipse cx="720.1" cy="469.15" rx="3.9" ry="3.9" fill="#A7C772" stroke="#9CBC66" stroke-width="0.6"/>
<ellipse cx="736.63" cy="466.38" rx="3.9" ry="3.9" fill="#A7C772" stroke="#9CBC66" stroke-width="0.6"/>
<ellipse cx="753.17" cy="468.34" rx="3.9" ry="3.9" fill="#A7C772" stroke="#9CBC66" stroke-width="0.6"/>
<ellipse cx="769.7" cy="475.66" rx="3.9" ry="3.9" fill="#A7C772" stroke="#9CBC66" stroke-width="0.6"/>
<ellipse cx="786.23" cy="480.55" rx="3.9" ry="3.9" fill="#A7C772" stroke="#9CBC66" stroke-width="0.6"/>
<ellipse cx="802.77" cy="485.43" rx="3.9" ry="3.9" fill="#A7C772" stroke="#9CBC66" stroke-width="0.6"/>
<ellipse cx="819.3" cy="482.18" rx="3.9" ry="3.9" fill="#A7C772" stroke="#9CBC66" stroke-width="0.6"/>
<ellipse cx="835.83" cy="471.59" rx="3.9" ry="3.9" fill="#A7C772" stroke="#9CBC66" stroke-width="0.6"/>
<ellipse cx="852.37" cy="459.38" rx="3.9" ry="3.9" fill="#A7C772" stroke="#9CBC66" stroke-width="0.6"/>
<ellipse cx="868.9" cy="453.69" rx="3.9" ry="3.9" fill="#A7C772" stroke="#9CBC66" stroke-width="0.6"/>
<ellipse cx="885.43" cy="459.38" rx="3.9" ry="3.9" fill="#A7C772" stroke="#9CBC66" stroke-width="0.6"/>
<polyline points="703.57,462.64 720.1,467.52 736.63,470.78 753.17,460.2 769.7,460.2 786.23,456.45 802.77,462.64 819.3,459.38 835.83,456.94 852.37,456.13 868.9,463.45 885.43,474.85" fill="none" stroke="#B09DCC" stroke-width="1.6" stroke-linejoin="round"/>
<path d="M699.67 462.64L707.47 462.64M703.57 458.74L703.57 466.54" stroke="#8A70B4" stroke-width="1.6" fill="none"/>
<path d="M716.2 467.52L724 467.52M720.1 463.62L720.1 471.42" stroke="#8A70B4" stroke-width="1.6" fill="none"/>
<path d="M732.73 470.78L740.53 470.78M736.63 466.88L736.63 474.68" stroke="#8A70B4" stroke-width="1.6" fill="none"/>
<path d="M749.27 460.2L757.07 460.2M753.17 456.3L753.17 464.1" stroke="#8A70B4" stroke-width="1.6" fill="none"/>
<path d="M765.8 460.2L773.6 460.2M769.7 456.3L769.7 464.1" stroke="#8A70B4" stroke-width="1.6" fill="none"/>
<path d="M782.33 456.45L790.13 456.45M786.23 452.55L786.23 460.35" stroke="#8A70B4" stroke-width="1.6" fill="none"/>
<path d="M798.87 462.64L806.67 462.64M802.77 458.74L802.77 466.54" stroke="#8A70B4" stroke-width="1.6" fill="none"/>
<path d="M815.4 459.38L823.2 459.38M819.3 455.48L819.3 463.28" stroke="#8A70B4" stroke-width="1.6" fill="none"/>
<path d="M831.93 456.94L839.73 456.94M835.83 453.04L835.83 460.84" stroke="#8A70B4" stroke-width="1.6" fill="none"/>
<path d="M848.47 456.13L856.27 456.13M852.37 452.23L852.37 460.03" stroke="#8A70B4" stroke-width="1.6" fill="none"/>
<path d="M865 463.45L872.8 463.45M868.9 459.55L868.9 467.35" stroke="#8A70B4" stroke-width="1.6" fill="none"/>
<path d="M881.53 474.85L889.33 474.85M885.43 470.95L885.43 478.75" stroke="#8A70B4" stroke-width="1.6" fill="none"/>
<polyline points="703.57,462.64 720.1,465.9 736.63,452.87 753.17,447.99 769.7,457.76 786.23,465.9 802.77,474.04 819.3,469.15 835.83,461.01 852.37,454.5 868.9,451.24 885.43,459.38" fill="none" stroke="#8ED0E0" stroke-width="1.6" stroke-linejoin="round"/>
<rect x="699.67" y="461.47" width="7.8" height="2.34" fill="#4BACC6"/>
<rect x="716.2" y="464.73" width="7.8" height="2.34" fill="#4BACC6"/>
<rect x="732.73" y="451.7" width="7.8" height="2.34" fill="#4BACC6"/>
<rect x="749.27" y="446.82" width="7.8" height="2.34" fill="#4BACC6"/>
<rect x="765.8" y="456.59" width="7.8" height="2.34" fill="#4BACC6"/>
<rect x="782.33" y="464.73" width="7.8" height="2.34" fill="#4BACC6"/>
<rect x="798.87" y="472.87" width="7.8" height="2.34" fill="#4BACC6"/>
<rect x="815.4" y="467.98" width="7.8" height="2.34" fill="#4BACC6"/>
<rect x="831.93" y="459.84" width="7.8" height="2.34" fill="#4BACC6"/>
<rect x="848.47" y="453.33" width="7.8" height="2.34" fill="#4BACC6"/>
<rect x="865" y="450.07" width="7.8" height="2.34" fill="#4BACC6"/>
<rect x="881.53" y="458.21" width="7.8" height="2.34" fill="#4BACC6"/>
<polyline points="703.57,461.01 720.1,461.01 736.63,450.43 753.17,444.73 769.7,457.76 786.23,467.52 802.77,472.41 819.3,467.52 835.83,459.38 852.37,456.13 868.9,452.87 885.43,457.76" fill="none" stroke="#93B0DA" stroke-width="1.6" stroke-linejoin="round"/>
<path d="M699.67 457.11L707.47 464.91M699.67 464.91L707.47 457.11" stroke="#7C9CD2" stroke-width="1.6" fill="none"/>
<path d="M716.2 457.11L724 464.91M716.2 464.91L724 457.11" stroke="#7C9CD2" stroke-width="1.6" fill="none"/>
<path d="M732.73 446.53L740.53 454.33M732.73 454.33L740.53 446.53" stroke="#7C9CD2" stroke-width="1.6" fill="none"/>
<path d="M749.27 440.83L757.07 448.63M749.27 448.63L757.07 440.83" stroke="#7C9CD2" stroke-width="1.6" fill="none"/>
<path d="M765.8 453.86L773.6 461.66M765.8 461.66L773.6 453.86" stroke="#7C9CD2" stroke-width="1.6" fill="none"/>
<path d="M782.33 463.62L790.13 471.42M782.33 471.42L790.13 463.62" stroke="#7C9CD2" stroke-width="1.6" fill="none"/>
<path d="M798.87 468.51L806.67 476.31M798.87 476.31L806.67 468.51" stroke="#7C9CD2" stroke-width="1.6" fill="none"/>
<path d="M815.4 463.62L823.2 471.42M815.4 471.42L823.2 463.62" stroke="#7C9CD2" stroke-width="1.6" fill="none"/>
<path d="M831.93 455.48L839.73 463.28M831.93 463.28L839.73 455.48" stroke="#7C9CD2" stroke-width="1.6" fill="none"/>
<path d="M848.47 452.23L856.27 460.03M848.47 460.03L856.27 452.23" stroke="#7C9CD2" stroke-width="1.6" fill="none"/>
<path d="M865 448.97L872.8 456.77M865 456.77L872.8 448.97" stroke="#7C9CD2" stroke-width="1.6" fill="none"/>
<path d="M881.53 453.86L889.33 461.66M881.53 461.66L889.33 453.86" stroke="#7C9CD2" stroke-width="1.6" fill="none"/>
<polyline points="703.57,498.13 720.1,504.97 736.63,500.08 753.17,489.66 769.7,489.66 786.23,497.32 802.77,501.71 819.3,501.71 835.83,490.32 852.37,483.8 868.9,477.29 885.43,482.18" fill="none" stroke="#F9B586" stroke-width="1.6" stroke-linejoin="round"/>
<rect x="699.67" y="496.96" width="7.8" height="2.34" fill="#F79646"/>
<rect x="716.2" y="503.8" width="7.8" height="2.34" fill="#F79646"/>
<rect x="732.73" y="498.91" width="7.8" height="2.34" fill="#F79646"/>
<rect x="749.27" y="488.49" width="7.8" height="2.34" fill="#F79646"/>
<rect x="765.8" y="488.49" width="7.8" height="2.34" fill="#F79646"/>
<rect x="782.33" y="496.15" width="7.8" height="2.34" fill="#F79646"/>
<rect x="798.87" y="500.54" width="7.8" height="2.34" fill="#F79646"/>
<rect x="815.4" y="500.54" width="7.8" height="2.34" fill="#F79646"/>
<rect x="831.93" y="489.15" width="7.8" height="2.34" fill="#F79646"/>
<rect x="848.47" y="482.63" width="7.8" height="2.34" fill="#F79646"/>
<rect x="865" y="476.12" width="7.8" height="2.34" fill="#F79646"/>
<rect x="881.53" y="481.01" width="7.8" height="2.34" fill="#F79646"/>
</svg>

<div class="capt" style="left:397.5px;top:325px;width:230px;height:16px;word-spacing:3px;">Monthly Minimum Temperature (<sup>o</sup>C)</div>
<div class="capt" style="left:675px;top:325px;width:236px;height:12.3px;word-spacing:2.4px;">Monthly Maximum Temperature (<sup>o</sup>C)</div>
<div class="capt" style="left:397.5px;top:666px;width:230px;height:11.5px;word-spacing:3px;">Monthly Minimum Temperature (<sup>o</sup>C)</div>
<div class="capt" style="left:678.3px;top:664px;width:236px;height:16px;word-spacing:2.4px;">Monthly Maximum Temperature (<sup>o</sup>C)</div>

<div id="note"><div class="j">Each of the GCMs are represented by multiple color with ordering number as follows:0=Observed Data; 1=BCC-CSM1; 2=CCSM4;</div><div class="j">3=CESMI-CAM5; 4=CSIRO-Mk3-6-0; 5=FIO-ESM; 6=NOAA GFDLCM3; 7=NOAA GFDL ESM2G; 8=NOAA GFDL ESM2M; 9=GISS-</div><div class="j">E2-R1; 10=GISS-E2-R2; 11=GISS-E2-R3; 12=HadGEM2-ES; 13=IPSL-CM5A-LR; 14=MIROC5; 15=MIROC-ESM; 16=MIROC-ESM-</div><div>CHEM; 17=MRI-CGCM3</div></div>
</body></html>
